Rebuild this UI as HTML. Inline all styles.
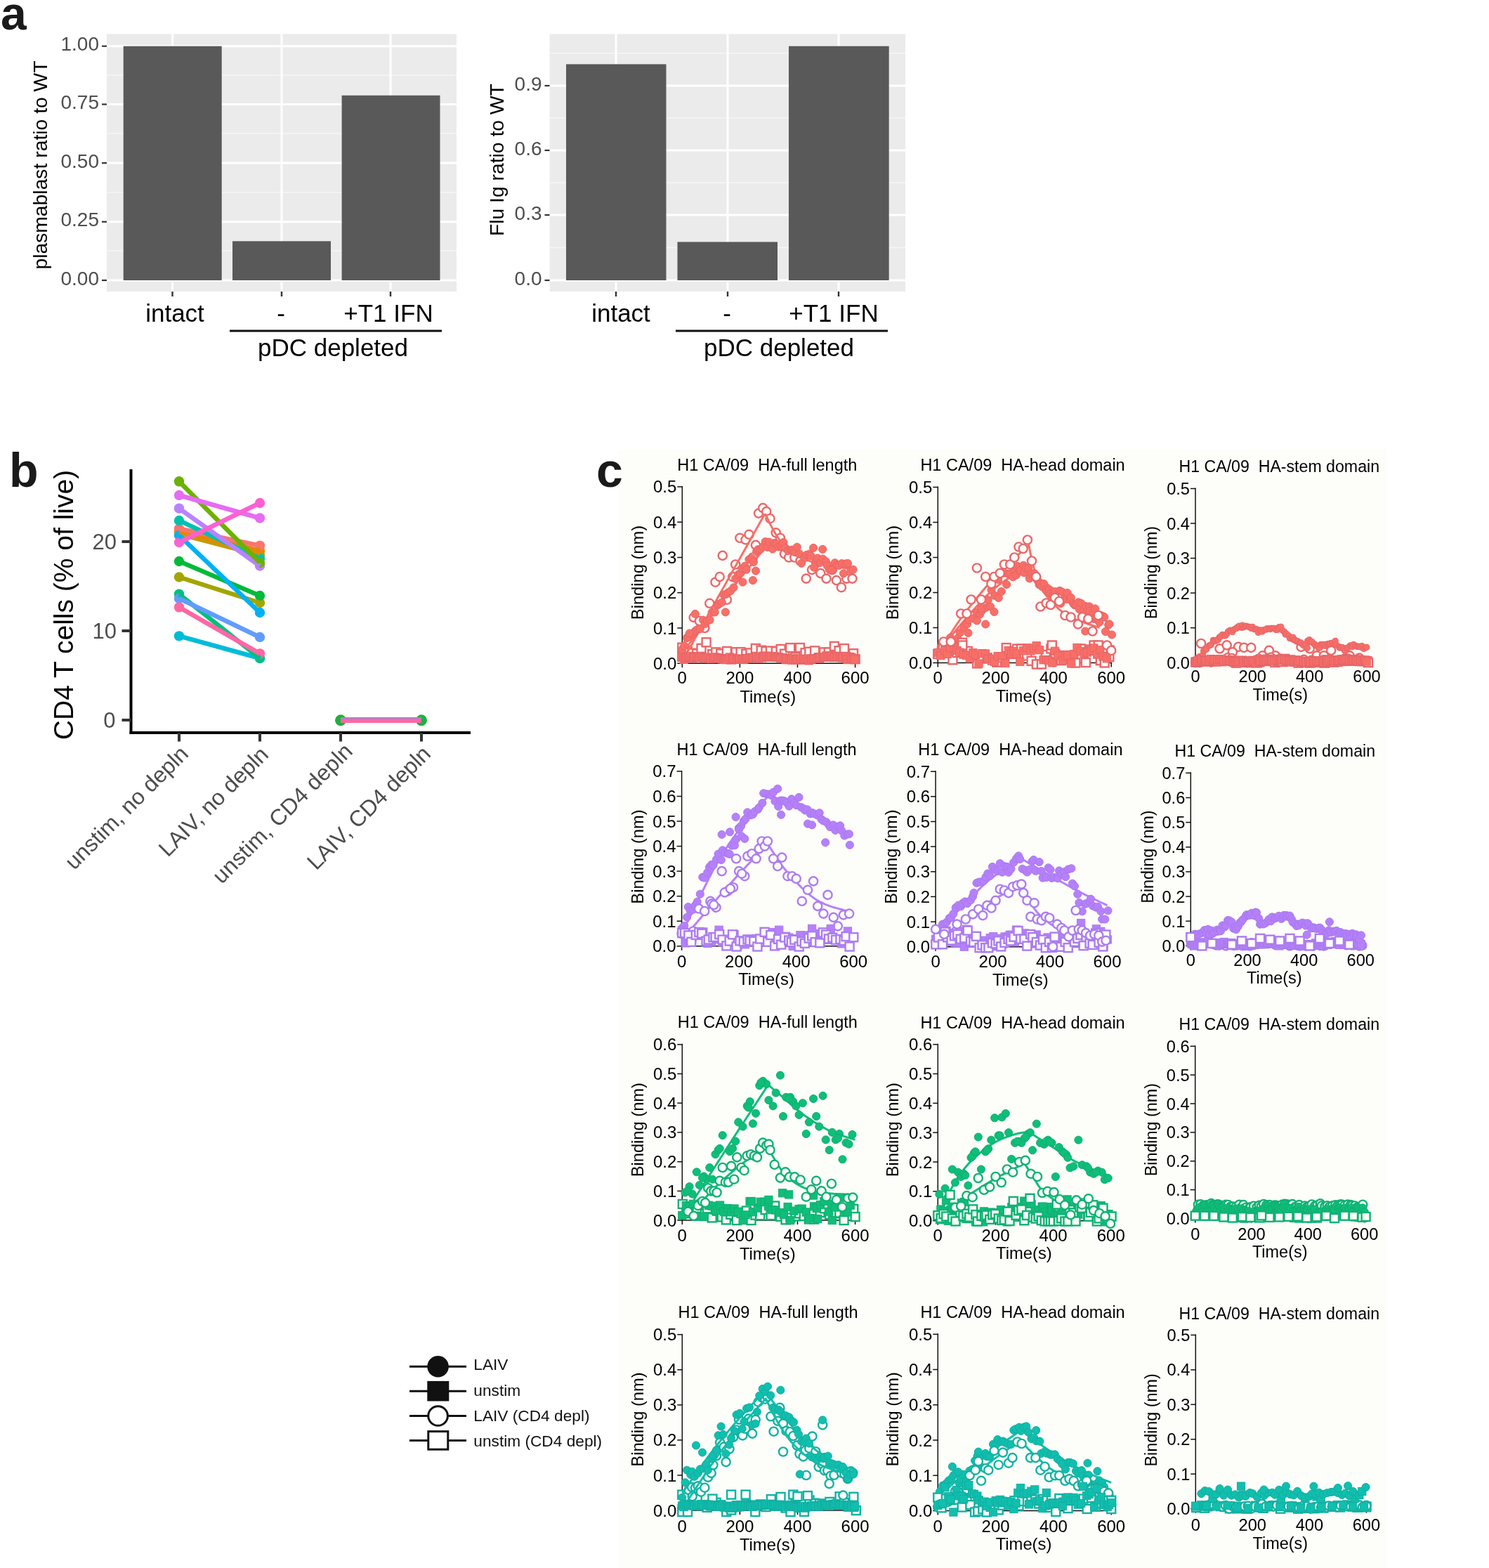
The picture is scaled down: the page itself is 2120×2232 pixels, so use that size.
<!DOCTYPE html>
<html lang="en"><head><meta charset="utf-8"><title>Figure</title>
<style>
html,body{margin:0;padding:0;background:#fff;}
body{width:2120px;height:2232px;overflow:hidden;}
svg{display:block;font-family:'Liberation Sans', sans-serif;}
</style></head><body>
<svg width="2120" height="2232" viewBox="0 0 2120 2232">
<rect width="2120" height="2232" fill="#fff"/>
<rect x="881" y="640" width="1094" height="1592" fill="#fdfdfa"/>
<rect x="152" y="48.5" width="498" height="366.5" fill="#ebebeb"/>
<line x1="152" x2="650" y1="107" y2="107" stroke="#f6f6f6" stroke-width="1.6"/>
<line x1="152" x2="650" y1="190" y2="190" stroke="#f6f6f6" stroke-width="1.6"/>
<line x1="152" x2="650" y1="274" y2="274" stroke="#f6f6f6" stroke-width="1.6"/>
<line x1="152" x2="650" y1="357" y2="357" stroke="#f6f6f6" stroke-width="1.6"/>
<line x1="152" x2="650" y1="65.7" y2="65.7" stroke="#fff" stroke-width="3"/>
<line x1="152" x2="650" y1="148.5" y2="148.5" stroke="#fff" stroke-width="3"/>
<line x1="152" x2="650" y1="232" y2="232" stroke="#fff" stroke-width="3"/>
<line x1="152" x2="650" y1="315.7" y2="315.7" stroke="#fff" stroke-width="3"/>
<line x1="152" x2="650" y1="399" y2="399" stroke="#fff" stroke-width="3"/>
<line x1="245.5" x2="245.5" y1="48.5" y2="415" stroke="#fff" stroke-width="3"/>
<line x1="401" x2="401" y1="48.5" y2="415" stroke="#fff" stroke-width="3"/>
<line x1="556" x2="556" y1="48.5" y2="415" stroke="#fff" stroke-width="3"/>
<rect x="175.7" y="65.7" width="140.0" height="333.3" fill="#595959"/>
<rect x="331" y="343.3" width="140" height="55.69999999999999" fill="#595959"/>
<rect x="486.6" y="135.8" width="139.89999999999998" height="263.2" fill="#595959"/>
<line x1="145" x2="152" y1="65.7" y2="65.7" stroke="#333" stroke-width="2.2"/>
<text x="141.0" y="72.2" font-size="28" text-anchor="end" fill="#4d4d4d">1.00</text>
<line x1="145" x2="152" y1="148.5" y2="148.5" stroke="#333" stroke-width="2.2"/>
<text x="141.0" y="155.0" font-size="28" text-anchor="end" fill="#4d4d4d">0.75</text>
<line x1="145" x2="152" y1="232" y2="232" stroke="#333" stroke-width="2.2"/>
<text x="141.0" y="238.5" font-size="28" text-anchor="end" fill="#4d4d4d">0.50</text>
<line x1="145" x2="152" y1="315.7" y2="315.7" stroke="#333" stroke-width="2.2"/>
<text x="141.0" y="322.2" font-size="28" text-anchor="end" fill="#4d4d4d">0.25</text>
<line x1="145" x2="152" y1="399" y2="399" stroke="#333" stroke-width="2.2"/>
<text x="141.0" y="405.5" font-size="28" text-anchor="end" fill="#4d4d4d">0.00</text>
<line x1="245.5" x2="245.5" y1="415" y2="422" stroke="#333" stroke-width="2.4"/>
<line x1="401" x2="401" y1="415" y2="422" stroke="#333" stroke-width="2.4"/>
<line x1="556" x2="556" y1="415" y2="422" stroke="#333" stroke-width="2.4"/>
<text x="66.5" y="235.0" font-size="28.3" text-anchor="middle" fill="#000" transform="rotate(-90 66.5 235.0)">plasmablast ratio to WT</text>
<text x="249.0" y="457.5" font-size="35" text-anchor="middle" fill="#000">intact</text>
<text x="400.0" y="457.5" font-size="35" text-anchor="middle" fill="#000">-</text>
<text x="553.0" y="457.5" font-size="35" text-anchor="middle" fill="#000">+T1 IFN</text>
<line x1="327" x2="629" y1="471" y2="471" stroke="#111" stroke-width="3"/>
<text x="474.0" y="507.0" font-size="35" text-anchor="middle" fill="#000">pDC depleted</text>
<rect x="782.5" y="48.5" width="506.5" height="366.5" fill="#ebebeb"/>
<line x1="782.5" x2="1289" y1="75.7" y2="75.7" stroke="#f6f6f6" stroke-width="1.6"/>
<line x1="782.5" x2="1289" y1="168" y2="168" stroke="#f6f6f6" stroke-width="1.6"/>
<line x1="782.5" x2="1289" y1="260" y2="260" stroke="#f6f6f6" stroke-width="1.6"/>
<line x1="782.5" x2="1289" y1="352.5" y2="352.5" stroke="#f6f6f6" stroke-width="1.6"/>
<line x1="782.5" x2="1289" y1="122" y2="122" stroke="#fff" stroke-width="3"/>
<line x1="782.5" x2="1289" y1="214" y2="214" stroke="#fff" stroke-width="3"/>
<line x1="782.5" x2="1289" y1="306" y2="306" stroke="#fff" stroke-width="3"/>
<line x1="782.5" x2="1289" y1="399" y2="399" stroke="#fff" stroke-width="3"/>
<line x1="877" x2="877" y1="48.5" y2="415" stroke="#fff" stroke-width="3"/>
<line x1="1036" x2="1036" y1="48.5" y2="415" stroke="#fff" stroke-width="3"/>
<line x1="1194" x2="1194" y1="48.5" y2="415" stroke="#fff" stroke-width="3"/>
<rect x="806" y="91.4" width="142.5" height="307.6" fill="#595959"/>
<rect x="964.5" y="344.4" width="142.5" height="54.60000000000002" fill="#595959"/>
<rect x="1123" y="65.7" width="142.70000000000005" height="333.3" fill="#595959"/>
<line x1="775.5" x2="782.5" y1="122" y2="122" stroke="#333" stroke-width="2.2"/>
<text x="771.5" y="128.5" font-size="28" text-anchor="end" fill="#4d4d4d">0.9</text>
<line x1="775.5" x2="782.5" y1="214" y2="214" stroke="#333" stroke-width="2.2"/>
<text x="771.5" y="220.5" font-size="28" text-anchor="end" fill="#4d4d4d">0.6</text>
<line x1="775.5" x2="782.5" y1="306" y2="306" stroke="#333" stroke-width="2.2"/>
<text x="771.5" y="312.5" font-size="28" text-anchor="end" fill="#4d4d4d">0.3</text>
<line x1="775.5" x2="782.5" y1="399" y2="399" stroke="#333" stroke-width="2.2"/>
<text x="771.5" y="405.5" font-size="28" text-anchor="end" fill="#4d4d4d">0.0</text>
<line x1="877" x2="877" y1="415" y2="422" stroke="#333" stroke-width="2.4"/>
<line x1="1036" x2="1036" y1="415" y2="422" stroke="#333" stroke-width="2.4"/>
<line x1="1194" x2="1194" y1="415" y2="422" stroke="#333" stroke-width="2.4"/>
<text x="717.0" y="227.6" font-size="28.3" text-anchor="middle" fill="#000" transform="rotate(-90 717.0 227.6)">Flu Ig ratio to WT</text>
<text x="884.0" y="457.5" font-size="35" text-anchor="middle" fill="#000">intact</text>
<text x="1035.0" y="457.5" font-size="35" text-anchor="middle" fill="#000">-</text>
<text x="1187.0" y="457.5" font-size="35" text-anchor="middle" fill="#000">+T1 IFN</text>
<line x1="962" x2="1264" y1="471" y2="471" stroke="#111" stroke-width="3"/>
<text x="1109.0" y="507.0" font-size="35" text-anchor="middle" fill="#000">pDC depleted</text>
<text x="1.0" y="42.0" font-size="66" text-anchor="start" fill="#1a1a1a" font-weight="bold">a</text>
<text x="13.0" y="693.0" font-size="68" text-anchor="start" fill="#1a1a1a" font-weight="bold">b</text>
<text x="849.0" y="693.0" font-size="68" text-anchor="start" fill="#1a1a1a" font-weight="bold">c</text>
<circle cx="255" cy="760" r="7.2" fill="#C99800"/><circle cx="370" cy="790" r="7.2" fill="#C99800"/>
<circle cx="255" cy="756" r="7.2" fill="#E58700"/><circle cx="370" cy="784" r="7.2" fill="#E58700"/>
<circle cx="255" cy="752.5" r="7.2" fill="#F8766D"/><circle cx="370" cy="776.7" r="7.2" fill="#F8766D"/>
<circle cx="255" cy="821.5" r="7.2" fill="#A3A500"/><circle cx="370" cy="858" r="7.2" fill="#A3A500"/>
<circle cx="255" cy="799" r="7.2" fill="#00BA38"/><circle cx="370" cy="848" r="7.2" fill="#00BA38"/>
<circle cx="255" cy="905.4" r="7.2" fill="#00BCD8"/><circle cx="370" cy="937" r="7.2" fill="#00BCD8"/>
<circle cx="255" cy="845.7" r="7.2" fill="#00BF7D"/><circle cx="370" cy="937" r="7.2" fill="#00BF7D"/>
<circle cx="255" cy="741" r="7.2" fill="#00C0AF"/><circle cx="370" cy="795" r="7.2" fill="#00C0AF"/>
<circle cx="255" cy="762" r="7.2" fill="#00B0F6"/><circle cx="370" cy="872" r="7.2" fill="#00B0F6"/>
<circle cx="255" cy="852" r="7.2" fill="#619CFF"/><circle cx="370" cy="907" r="7.2" fill="#619CFF"/>
<circle cx="255" cy="723.7" r="7.2" fill="#B983FF"/><circle cx="370" cy="805.5" r="7.2" fill="#B983FF"/>
<circle cx="255" cy="685.3" r="7.2" fill="#6BB100"/><circle cx="370" cy="801" r="7.2" fill="#6BB100"/>
<circle cx="255" cy="705" r="7.2" fill="#E76BF3"/><circle cx="370" cy="737.5" r="7.2" fill="#E76BF3"/>
<circle cx="255" cy="772" r="7.2" fill="#FD61D1"/><circle cx="370" cy="716" r="7.2" fill="#FD61D1"/>
<circle cx="255" cy="864.4" r="7.2" fill="#FF67A4"/><circle cx="370" cy="930.4" r="7.2" fill="#FF67A4"/>
<line x1="255" y1="760" x2="370" y2="790" stroke="#C99800" stroke-width="6.5" stroke-linecap="butt"/>
<line x1="255" y1="756" x2="370" y2="784" stroke="#E58700" stroke-width="6.5" stroke-linecap="butt"/>
<line x1="255" y1="752.5" x2="370" y2="776.7" stroke="#F8766D" stroke-width="6.5" stroke-linecap="butt"/>
<line x1="255" y1="821.5" x2="370" y2="858" stroke="#A3A500" stroke-width="6.5" stroke-linecap="butt"/>
<line x1="255" y1="799" x2="370" y2="848" stroke="#00BA38" stroke-width="6.5" stroke-linecap="butt"/>
<line x1="255" y1="905.4" x2="370" y2="937" stroke="#00BCD8" stroke-width="6.5" stroke-linecap="butt"/>
<line x1="255" y1="845.7" x2="370" y2="937" stroke="#00BF7D" stroke-width="6.5" stroke-linecap="butt"/>
<line x1="255" y1="741" x2="370" y2="795" stroke="#00C0AF" stroke-width="6.5" stroke-linecap="butt"/>
<line x1="255" y1="762" x2="370" y2="872" stroke="#00B0F6" stroke-width="6.5" stroke-linecap="butt"/>
<line x1="255" y1="852" x2="370" y2="907" stroke="#619CFF" stroke-width="6.5" stroke-linecap="butt"/>
<line x1="255" y1="723.7" x2="370" y2="805.5" stroke="#B983FF" stroke-width="6.5" stroke-linecap="butt"/>
<line x1="255" y1="685.3" x2="370" y2="801" stroke="#6BB100" stroke-width="6.5" stroke-linecap="butt"/>
<line x1="255" y1="705" x2="370" y2="737.5" stroke="#E76BF3" stroke-width="6.5" stroke-linecap="butt"/>
<line x1="255" y1="772" x2="370" y2="716" stroke="#FD61D1" stroke-width="6.5" stroke-linecap="butt"/>
<line x1="255" y1="864.4" x2="370" y2="930.4" stroke="#FF67A4" stroke-width="6.5" stroke-linecap="butt"/>
<circle cx="485" cy="1025.3" r="8" fill="#1FB03F"/><circle cx="600" cy="1025.3" r="8" fill="#1FB03F"/>
<line x1="485" y1="1025" x2="600" y2="1025" stroke="#5BA0E8" stroke-width="8"/>
<line x1="485" y1="1025.8" x2="600" y2="1025.8" stroke="#FF67A4" stroke-width="6.4"/>
<line x1="186.5" x2="186.5" y1="668" y2="1045" stroke="#000" stroke-width="4"/>
<line x1="184.5" x2="670" y1="1043" y2="1043" stroke="#000" stroke-width="4"/>
<line x1="173.5" x2="186.5" y1="771" y2="771" stroke="#333" stroke-width="4"/>
<text x="166.0" y="782.0" font-size="31" text-anchor="end" fill="#4d4d4d">20</text>
<line x1="173.5" x2="186.5" y1="898" y2="898" stroke="#333" stroke-width="4"/>
<text x="166.0" y="909.0" font-size="31" text-anchor="end" fill="#4d4d4d">10</text>
<line x1="173.5" x2="186.5" y1="1025" y2="1025" stroke="#333" stroke-width="4"/>
<text x="164.5" y="1036.0" font-size="31" text-anchor="end" fill="#4d4d4d">0</text>
<line x1="255" x2="255" y1="1043" y2="1055.5" stroke="#333" stroke-width="4"/>
<text x="270.0" y="1075.0" font-size="31.7" text-anchor="end" fill="#4d4d4d" transform="rotate(-45 270.0 1075.0)">unstim, no depln</text>
<line x1="370" x2="370" y1="1043" y2="1055.5" stroke="#333" stroke-width="4"/>
<text x="384.0" y="1076.0" font-size="31.7" text-anchor="end" fill="#4d4d4d" transform="rotate(-45 384.0 1076.0)">LAIV, no depln</text>
<line x1="485" x2="485" y1="1043" y2="1055.5" stroke="#333" stroke-width="4"/>
<text x="504.0" y="1071.0" font-size="31.7" text-anchor="end" fill="#4d4d4d" transform="rotate(-45 504.0 1071.0)" letter-spacing="0.35">unstim, CD4 depln</text>
<line x1="600" x2="600" y1="1043" y2="1055.5" stroke="#333" stroke-width="4"/>
<text x="615.0" y="1075.0" font-size="31.7" text-anchor="end" fill="#4d4d4d" transform="rotate(-45 615.0 1075.0)">LAIV, CD4 depln</text>
<text x="104.0" y="861.0" font-size="39" text-anchor="middle" fill="#000" transform="rotate(-90 104.0 861.0)">CD4 T cells (% of live)</text>
<path d="M971.3 691.9V944.3H1218.6" fill="none" stroke="#111" stroke-width="1.5"/>
<line x1="964.3" x2="971.3" y1="944.3" y2="944.3" stroke="#111" stroke-width="1.5"/>
<text x="963.3" y="952.8" font-size="24.0" text-anchor="end" fill="#000">0.0</text>
<line x1="964.3" x2="971.3" y1="894.0" y2="894.0" stroke="#111" stroke-width="1.5"/>
<text x="963.3" y="902.5" font-size="24.0" text-anchor="end" fill="#000">0.1</text>
<line x1="964.3" x2="971.3" y1="843.7" y2="843.7" stroke="#111" stroke-width="1.5"/>
<text x="963.3" y="852.2" font-size="24.0" text-anchor="end" fill="#000">0.2</text>
<line x1="964.3" x2="971.3" y1="793.5" y2="793.5" stroke="#111" stroke-width="1.5"/>
<text x="963.3" y="802.0" font-size="24.0" text-anchor="end" fill="#000">0.3</text>
<line x1="964.3" x2="971.3" y1="743.2" y2="743.2" stroke="#111" stroke-width="1.5"/>
<text x="963.3" y="751.7" font-size="24.0" text-anchor="end" fill="#000">0.4</text>
<line x1="964.3" x2="971.3" y1="692.9" y2="692.9" stroke="#111" stroke-width="1.5"/>
<text x="963.3" y="701.4" font-size="24.0" text-anchor="end" fill="#000">0.5</text>
<line x1="971.3" x2="971.3" y1="944.3" y2="950.3" stroke="#111" stroke-width="1.5"/>
<text x="971.3" y="973.0" font-size="24.0" text-anchor="middle" fill="#000">0</text>
<line x1="1053.4" x2="1053.4" y1="944.3" y2="950.3" stroke="#111" stroke-width="1.5"/>
<text x="1053.4" y="973.0" font-size="24.0" text-anchor="middle" fill="#000">200</text>
<line x1="1135.5" x2="1135.5" y1="944.3" y2="950.3" stroke="#111" stroke-width="1.5"/>
<text x="1135.5" y="973.0" font-size="24.0" text-anchor="middle" fill="#000">400</text>
<line x1="1217.6" x2="1217.6" y1="944.3" y2="950.3" stroke="#111" stroke-width="1.5"/>
<text x="1217.6" y="973.0" font-size="24.0" text-anchor="middle" fill="#000">600</text>
<text x="964.3" y="670.3" font-size="23.5" text-anchor="start" fill="#000" style="white-space:pre">H1 CA/09  HA-full length</text>
<text x="1093.3" y="999.6" font-size="23.8" text-anchor="middle" fill="#000">Time(s)</text>
<text x="916.0" y="815.0" font-size="23.7" text-anchor="middle" fill="#000" transform="rotate(-90 916.0 815.0)">Binding (nm)</text>
<g fill="#fdfdfa" stroke="#EA676A" stroke-width="2.4"><rect x="965.3" y="928.7" width="12.0" height="12.0"/><rect x="972.8" y="920.9" width="12.0" height="12.0"/><rect x="978.8" y="923.7" width="12.0" height="12.0"/><rect x="986.0" y="924.5" width="12.0" height="12.0"/><rect x="992.5" y="916.9" width="12.0" height="12.0"/><rect x="999.6" y="908.3" width="12.0" height="12.0"/><rect x="1008.2" y="925.2" width="12.0" height="12.0"/><rect x="1013.3" y="922.4" width="12.0" height="12.0"/><rect x="1020.3" y="924.4" width="12.0" height="12.0"/><rect x="1028.9" y="921.1" width="12.0" height="12.0"/><rect x="1034.9" y="932.5" width="12.0" height="12.0"/><rect x="1041.7" y="922.3" width="12.0" height="12.0"/><rect x="1048.6" y="922.2" width="12.0" height="12.0"/><rect x="1056.3" y="924.8" width="12.0" height="12.0"/><rect x="1062.4" y="923.4" width="12.0" height="12.0"/><rect x="1069.9" y="917.0" width="12.0" height="12.0"/><rect x="1077.7" y="919.7" width="12.0" height="12.0"/><rect x="1084.4" y="921.1" width="12.0" height="12.0"/><rect x="1090.9" y="920.6" width="12.0" height="12.0"/><rect x="1098.8" y="921.3" width="12.0" height="12.0"/><rect x="1105.6" y="918.0" width="12.0" height="12.0"/><rect x="1111.1" y="924.7" width="12.0" height="12.0"/><rect x="1119.2" y="916.1" width="12.0" height="12.0"/><rect x="1126.3" y="929.4" width="12.0" height="12.0"/><rect x="1132.9" y="916.0" width="12.0" height="12.0"/><rect x="1140.6" y="923.3" width="12.0" height="12.0"/><rect x="1146.3" y="921.8" width="12.0" height="12.0"/><rect x="1154.1" y="920.4" width="12.0" height="12.0"/><rect x="1159.8" y="930.2" width="12.0" height="12.0"/><rect x="1167.1" y="922.4" width="12.0" height="12.0"/><rect x="1173.7" y="922.5" width="12.0" height="12.0"/><rect x="1181.9" y="913.9" width="12.0" height="12.0"/><rect x="1188.6" y="920.2" width="12.0" height="12.0"/><rect x="1196.0" y="917.1" width="12.0" height="12.0"/><rect x="1201.6" y="932.0" width="12.0" height="12.0"/><rect x="1209.0" y="924.2" width="12.0" height="12.0"/><rect x="965.3" y="915.7" width="12.0" height="12.0"/><rect x="1211.6" y="932.3" width="12.0" height="12.0"/></g>
<g fill="#fdfdfa" stroke="#EA676A" stroke-width="2.4"><circle cx="973.4" cy="924.2" r="6.10"/><circle cx="980.3" cy="914.1" r="6.10"/><circle cx="987.7" cy="878.9" r="6.10"/><circle cx="995.9" cy="884.0" r="6.10"/><circle cx="1003.3" cy="894.0" r="6.10"/><circle cx="1010.3" cy="858.8" r="6.10"/><circle cx="1018.5" cy="828.7" r="6.10"/><circle cx="1024.7" cy="821.1" r="6.10"/><circle cx="1028.8" cy="790.9" r="6.10"/><circle cx="1034.9" cy="853.8" r="6.10"/><circle cx="1043.1" cy="821.1" r="6.10"/><circle cx="1047.2" cy="803.5" r="6.10"/><circle cx="1053.4" cy="765.8" r="6.10"/><circle cx="1061.6" cy="768.3" r="6.10"/><circle cx="1066.5" cy="760.8" r="6.10"/><circle cx="1071.9" cy="793.5" r="6.10"/><circle cx="1076.0" cy="775.9" r="6.10"/><circle cx="1080.1" cy="730.6" r="6.10"/><circle cx="1086.2" cy="723.1" r="6.10"/><circle cx="1091.2" cy="728.1" r="6.10"/><circle cx="1096.5" cy="738.2" r="6.10"/><circle cx="1104.7" cy="758.3" r="6.10"/><circle cx="1110.9" cy="765.8" r="6.10"/><circle cx="1117.0" cy="788.4" r="6.10"/><circle cx="1123.2" cy="793.5" r="6.10"/><circle cx="1131.4" cy="793.5" r="6.10"/><circle cx="1139.6" cy="798.5" r="6.10"/><circle cx="1147.8" cy="823.6" r="6.10"/><circle cx="1156.0" cy="811.1" r="6.10"/><circle cx="1162.2" cy="801.0" r="6.10"/><circle cx="1168.3" cy="816.1" r="6.10"/><circle cx="1176.5" cy="823.6" r="6.10"/><circle cx="1184.8" cy="811.1" r="6.10"/><circle cx="1190.9" cy="826.1" r="6.10"/><circle cx="1197.9" cy="836.2" r="6.10"/><circle cx="1205.3" cy="823.6" r="6.10"/><circle cx="1213.5" cy="823.6" r="6.10"/></g>
<path d="M979.5 926.7L981.6 923.0L983.6 919.4L985.7 915.7L987.7 912.0L989.8 908.3L991.8 904.7L993.9 901.0L995.9 897.3L998.0 893.6L1000.0 890.0L1002.1 886.3L1004.1 882.6L1006.2 878.9L1008.2 875.3L1010.3 871.6L1012.3 867.9L1014.4 864.2L1016.5 860.6L1018.5 856.9L1020.6 853.2L1022.6 849.6L1024.7 845.9L1026.7 842.2L1028.8 838.6L1030.8 834.9L1032.9 831.3L1034.9 827.6L1037.0 824.0L1039.0 820.3L1041.1 816.6L1043.1 813.0L1045.2 809.3L1047.2 805.7L1049.3 802.0L1051.3 798.4L1053.4 794.7L1055.5 791.1L1057.5 787.4L1059.6 783.8L1061.6 780.2L1063.7 776.5L1065.7 772.9L1067.8 769.2L1069.8 765.6L1071.9 761.9L1073.9 758.3L1076.0 754.7L1078.0 751.0L1080.1 747.4L1082.1 743.7L1084.2 740.1L1086.2 736.4L1088.3 732.8L1090.3 732.4L1092.4 737.0L1094.4 741.6L1096.5 745.9L1098.6 749.9L1100.6 753.8L1102.7 757.4L1104.7 760.8L1106.8 764.0L1108.8 767.0L1110.9 769.8L1112.9 772.5L1115.0 775.0L1117.0 777.4L1119.1 779.6L1121.1 781.8L1123.2 783.6L1125.2 785.3L1127.3 786.8L1129.3 788.1L1131.4 789.5L1133.4 790.7L1135.5 791.8L1137.6 792.9L1139.6 793.8L1141.7 794.7L1143.7 795.6L1145.8 796.5L1147.8 797.1L1149.9 797.8L1151.9 798.4L1154.0 799.1L1156.0 799.7L1158.1 800.2L1160.1 800.7L1162.2 801.2L1164.2 801.7L1166.3 802.2L1168.3 802.6L1170.4 803.0L1172.4 803.4L1174.5 803.8L1176.5 804.3L1178.6 804.7L1180.7 805.0L1182.7 805.4L1184.8 805.7L1186.8 806.0L1188.9 806.4L1190.9 806.7L1193.0 807.0L1195.0 807.4L1197.1 807.7L1199.1 808.0L1201.2 808.4L1203.2 808.7L1205.3 809.0L1207.3 809.4L1209.4 809.7L1211.4 810.1L1213.5 810.4L1215.5 810.7L1217.6 811.1" fill="none" stroke="#F96F66" stroke-width="3" stroke-linejoin="round"/>
<path d="M971.3 929.2L973.4 926.5L975.4 923.9L977.5 921.2L979.5 918.5L981.6 915.8L983.6 913.1L985.7 910.4L987.7 907.8L989.8 905.1L991.8 902.4L993.9 899.7L995.9 897.0L998.0 894.4L1000.0 891.7L1002.1 889.0L1004.1 886.3L1006.2 883.6L1008.2 880.9L1010.3 878.3L1012.3 875.6L1014.4 873.0L1016.5 870.4L1018.5 867.7L1020.6 865.1L1022.6 862.4L1024.7 859.8L1026.7 857.2L1028.8 854.6L1030.8 852.0L1032.9 849.4L1034.9 846.8L1037.0 844.2L1039.0 841.6L1041.1 839.0L1043.1 836.4L1045.2 833.9L1047.2 831.3L1049.3 828.8L1051.3 826.2L1053.4 823.7L1055.5 821.1L1057.5 818.6L1059.6 816.1L1061.6 813.6L1063.7 811.1L1065.7 808.5L1067.8 806.0L1069.8 803.5L1071.9 801.0L1073.9 798.5L1076.0 796.0L1078.0 793.5L1080.1 790.9L1082.1 788.4L1084.2 785.9L1086.2 783.4L1088.3 780.9L1090.3 778.4L1092.4 777.7L1094.4 778.2L1096.5 778.7L1098.6 779.2L1100.6 779.8L1102.7 780.3L1104.7 780.8L1106.8 781.3L1108.8 781.9L1110.9 782.5L1112.9 783.0L1115.0 783.6L1117.0 784.2L1119.1 784.8L1121.1 785.4L1123.2 786.0L1125.2 786.6L1127.3 787.2L1129.3 787.8L1131.4 788.4L1133.4 789.1L1135.5 789.7L1137.6 790.3L1139.6 790.9L1141.7 791.5L1143.7 792.1L1145.8 792.7L1147.8 793.2L1149.9 793.8L1151.9 794.3L1154.0 794.8L1156.0 795.3L1158.1 795.8L1160.1 796.4L1162.2 796.9L1164.2 797.4L1166.3 797.8L1168.3 798.3L1170.4 798.7L1172.4 799.2L1174.5 799.7L1176.5 800.1L1178.6 800.6L1180.7 801.0L1182.7 801.4L1184.8 801.8L1186.8 802.3L1188.9 802.7L1190.9 803.1L1193.0 803.5L1195.0 803.9L1197.1 804.4L1199.1 804.8L1201.2 805.2L1203.2 805.6L1205.3 806.0L1207.3 806.4L1209.4 806.9L1211.4 807.3L1213.5 807.7L1215.5 808.1L1217.6 808.5" fill="none" stroke="#F96F66" stroke-width="3" stroke-linejoin="round"/>
<g fill="#F96F66" stroke="#E5656A" stroke-width="1"><circle cx="971.3" cy="925.1" r="5.55"/><circle cx="974.3" cy="919.4" r="5.55"/><circle cx="977.9" cy="908.0" r="5.55"/><circle cx="980.3" cy="906.6" r="5.55"/><circle cx="985.1" cy="902.5" r="5.55"/><circle cx="988.6" cy="899.6" r="5.55"/><circle cx="990.8" cy="897.3" r="5.55"/><circle cx="993.9" cy="895.7" r="5.55"/><circle cx="996.8" cy="895.2" r="5.55"/><circle cx="1001.0" cy="882.6" r="5.55"/><circle cx="1003.9" cy="887.9" r="5.55"/><circle cx="1006.8" cy="883.9" r="5.55"/><circle cx="1010.6" cy="882.5" r="5.55"/><circle cx="1013.6" cy="871.6" r="5.55"/><circle cx="1017.7" cy="871.5" r="5.55"/><circle cx="1021.3" cy="861.6" r="5.55"/><circle cx="1023.4" cy="860.0" r="5.55"/><circle cx="1027.7" cy="857.5" r="5.55"/><circle cx="1030.4" cy="846.6" r="5.55"/><circle cx="1033.8" cy="845.9" r="5.55"/><circle cx="1036.6" cy="843.5" r="5.55"/><circle cx="1040.2" cy="841.2" r="5.55"/><circle cx="1044.5" cy="836.3" r="5.55"/><circle cx="1047.2" cy="823.9" r="5.55"/><circle cx="1051.1" cy="817.8" r="5.55"/><circle cx="1053.7" cy="816.5" r="5.55"/><circle cx="1056.6" cy="809.6" r="5.55"/><circle cx="1060.5" cy="805.8" r="5.55"/><circle cx="1062.7" cy="810.8" r="5.55"/><circle cx="1066.4" cy="796.3" r="5.55"/><circle cx="1070.6" cy="795.1" r="5.55"/><circle cx="1072.9" cy="800.1" r="5.55"/><circle cx="1077.2" cy="785.0" r="5.55"/><circle cx="1079.1" cy="782.2" r="5.55"/><circle cx="1082.9" cy="781.7" r="5.55"/><circle cx="1086.1" cy="778.5" r="5.55"/><circle cx="1089.7" cy="771.1" r="5.55"/><circle cx="1093.0" cy="778.9" r="5.55"/><circle cx="1095.2" cy="771.6" r="5.55"/><circle cx="1100.0" cy="781.5" r="5.55"/><circle cx="1102.5" cy="773.0" r="5.55"/><circle cx="1105.1" cy="774.2" r="5.55"/><circle cx="1108.5" cy="778.5" r="5.55"/><circle cx="1111.8" cy="777.5" r="5.55"/><circle cx="1115.5" cy="771.9" r="5.55"/><circle cx="1118.4" cy="780.1" r="5.55"/><circle cx="1122.1" cy="784.2" r="5.55"/><circle cx="1126.7" cy="782.7" r="5.55"/><circle cx="1128.9" cy="784.0" r="5.55"/><circle cx="1131.7" cy="786.1" r="5.55"/><circle cx="1134.8" cy="778.7" r="5.55"/><circle cx="1138.1" cy="788.2" r="5.55"/><circle cx="1141.1" cy="801.8" r="5.55"/><circle cx="1145.8" cy="794.0" r="5.55"/><circle cx="1148.4" cy="789.8" r="5.55"/><circle cx="1152.5" cy="788.5" r="5.55"/><circle cx="1154.6" cy="791.3" r="5.55"/><circle cx="1159.1" cy="807.7" r="5.55"/><circle cx="1162.3" cy="797.4" r="5.55"/><circle cx="1164.1" cy="794.5" r="5.55"/><circle cx="1167.9" cy="800.9" r="5.55"/><circle cx="1171.5" cy="795.5" r="5.55"/><circle cx="1175.9" cy="799.2" r="5.55"/><circle cx="1177.6" cy="805.0" r="5.55"/><circle cx="1180.9" cy="810.9" r="5.55"/><circle cx="1184.7" cy="811.6" r="5.55"/><circle cx="1188.7" cy="801.2" r="5.55"/><circle cx="1191.9" cy="804.1" r="5.55"/><circle cx="1194.6" cy="804.9" r="5.55"/><circle cx="1198.5" cy="802.1" r="5.55"/><circle cx="1201.0" cy="816.3" r="5.55"/><circle cx="1203.8" cy="802.5" r="5.55"/><circle cx="1207.0" cy="802.0" r="5.55"/><circle cx="1211.7" cy="812.0" r="5.55"/><circle cx="1214.6" cy="810.7" r="5.55"/><circle cx="1032.9" cy="871.4" r="5.55"/><circle cx="1057.5" cy="828.7" r="5.55"/><circle cx="1071.9" cy="826.1" r="5.55"/><circle cx="1076.0" cy="812.6" r="5.55"/><circle cx="1158.1" cy="779.9" r="5.55"/><circle cx="1171.2" cy="781.9" r="5.55"/><circle cx="981.6" cy="901.6" r="5.55"/><circle cx="989.8" cy="873.9" r="5.55"/></g>
<g fill="#F96F66" stroke="#E5656A" stroke-width="1"><rect x="965.7" y="930.1" width="11.2" height="11.2"/><rect x="968.1" y="933.3" width="11.2" height="11.2"/><rect x="970.6" y="931.1" width="11.2" height="11.2"/><rect x="971.3" y="930.6" width="11.2" height="11.2"/><rect x="974.1" y="929.5" width="11.2" height="11.2"/><rect x="975.8" y="928.7" width="11.2" height="11.2"/><rect x="977.9" y="928.4" width="11.2" height="11.2"/><rect x="980.9" y="931.9" width="11.2" height="11.2"/><rect x="982.2" y="928.8" width="11.2" height="11.2"/><rect x="983.2" y="930.3" width="11.2" height="11.2"/><rect x="986.8" y="929.5" width="11.2" height="11.2"/><rect x="988.2" y="929.9" width="11.2" height="11.2"/><rect x="990.4" y="930.9" width="11.2" height="11.2"/><rect x="993.0" y="928.7" width="11.2" height="11.2"/><rect x="994.0" y="928.9" width="11.2" height="11.2"/><rect x="996.5" y="931.4" width="11.2" height="11.2"/><rect x="998.4" y="930.5" width="11.2" height="11.2"/><rect x="1000.6" y="931.6" width="11.2" height="11.2"/><rect x="1002.7" y="930.3" width="11.2" height="11.2"/><rect x="1005.6" y="931.0" width="11.2" height="11.2"/><rect x="1006.3" y="932.5" width="11.2" height="11.2"/><rect x="1009.7" y="930.4" width="11.2" height="11.2"/><rect x="1010.7" y="931.4" width="11.2" height="11.2"/><rect x="1012.4" y="929.8" width="11.2" height="11.2"/><rect x="1015.8" y="930.6" width="11.2" height="11.2"/><rect x="1017.5" y="931.8" width="11.2" height="11.2"/><rect x="1020.0" y="932.2" width="11.2" height="11.2"/><rect x="1022.0" y="932.8" width="11.2" height="11.2"/><rect x="1023.9" y="931.4" width="11.2" height="11.2"/><rect x="1025.1" y="933.1" width="11.2" height="11.2"/><rect x="1026.9" y="932.4" width="11.2" height="11.2"/><rect x="1028.3" y="933.5" width="11.2" height="11.2"/><rect x="1031.0" y="932.9" width="11.2" height="11.2"/><rect x="1033.5" y="929.9" width="11.2" height="11.2"/><rect x="1036.5" y="931.5" width="11.2" height="11.2"/><rect x="1037.1" y="931.0" width="11.2" height="11.2"/><rect x="1038.8" y="932.2" width="11.2" height="11.2"/><rect x="1042.5" y="932.3" width="11.2" height="11.2"/><rect x="1044.6" y="933.2" width="11.2" height="11.2"/><rect x="1046.2" y="932.1" width="11.2" height="11.2"/><rect x="1047.6" y="932.1" width="11.2" height="11.2"/><rect x="1050.8" y="933.4" width="11.2" height="11.2"/><rect x="1052.6" y="933.4" width="11.2" height="11.2"/><rect x="1054.7" y="932.7" width="11.2" height="11.2"/><rect x="1056.9" y="931.4" width="11.2" height="11.2"/><rect x="1057.3" y="932.2" width="11.2" height="11.2"/><rect x="1059.4" y="931.4" width="11.2" height="11.2"/><rect x="1061.6" y="931.4" width="11.2" height="11.2"/><rect x="1063.8" y="930.1" width="11.2" height="11.2"/><rect x="1065.6" y="930.8" width="11.2" height="11.2"/><rect x="1067.3" y="930.3" width="11.2" height="11.2"/><rect x="1070.5" y="929.9" width="11.2" height="11.2"/><rect x="1071.6" y="929.1" width="11.2" height="11.2"/><rect x="1074.3" y="931.9" width="11.2" height="11.2"/><rect x="1076.5" y="929.8" width="11.2" height="11.2"/><rect x="1079.6" y="930.8" width="11.2" height="11.2"/><rect x="1080.9" y="928.1" width="11.2" height="11.2"/><rect x="1082.4" y="929.2" width="11.2" height="11.2"/><rect x="1085.2" y="929.5" width="11.2" height="11.2"/><rect x="1086.1" y="928.0" width="11.2" height="11.2"/><rect x="1089.2" y="928.7" width="11.2" height="11.2"/><rect x="1090.4" y="930.1" width="11.2" height="11.2"/><rect x="1092.8" y="928.8" width="11.2" height="11.2"/><rect x="1096.0" y="928.7" width="11.2" height="11.2"/><rect x="1098.0" y="930.3" width="11.2" height="11.2"/><rect x="1098.8" y="929.3" width="11.2" height="11.2"/><rect x="1101.2" y="930.4" width="11.2" height="11.2"/><rect x="1103.2" y="929.8" width="11.2" height="11.2"/><rect x="1105.1" y="930.8" width="11.2" height="11.2"/><rect x="1106.3" y="931.3" width="11.2" height="11.2"/><rect x="1109.4" y="930.5" width="11.2" height="11.2"/><rect x="1111.8" y="931.9" width="11.2" height="11.2"/><rect x="1113.1" y="933.6" width="11.2" height="11.2"/><rect x="1114.8" y="932.0" width="11.2" height="11.2"/><rect x="1118.3" y="933.4" width="11.2" height="11.2"/><rect x="1119.9" y="932.3" width="11.2" height="11.2"/><rect x="1121.7" y="934.1" width="11.2" height="11.2"/><rect x="1124.4" y="931.8" width="11.2" height="11.2"/><rect x="1126.6" y="934.3" width="11.2" height="11.2"/><rect x="1128.2" y="932.6" width="11.2" height="11.2"/><rect x="1129.6" y="932.4" width="11.2" height="11.2"/><rect x="1132.6" y="934.0" width="11.2" height="11.2"/><rect x="1134.4" y="933.2" width="11.2" height="11.2"/><rect x="1135.0" y="932.1" width="11.2" height="11.2"/><rect x="1138.2" y="934.2" width="11.2" height="11.2"/><rect x="1139.3" y="932.6" width="11.2" height="11.2"/><rect x="1141.7" y="933.1" width="11.2" height="11.2"/><rect x="1143.7" y="932.4" width="11.2" height="11.2"/><rect x="1146.1" y="934.8" width="11.2" height="11.2"/><rect x="1148.7" y="931.8" width="11.2" height="11.2"/><rect x="1149.6" y="933.1" width="11.2" height="11.2"/><rect x="1152.0" y="931.6" width="11.2" height="11.2"/><rect x="1153.5" y="932.2" width="11.2" height="11.2"/><rect x="1156.1" y="931.9" width="11.2" height="11.2"/><rect x="1158.2" y="932.3" width="11.2" height="11.2"/><rect x="1160.6" y="931.2" width="11.2" height="11.2"/><rect x="1162.1" y="930.5" width="11.2" height="11.2"/><rect x="1165.7" y="929.3" width="11.2" height="11.2"/><rect x="1167.8" y="930.1" width="11.2" height="11.2"/><rect x="1168.4" y="929.5" width="11.2" height="11.2"/><rect x="1171.1" y="927.6" width="11.2" height="11.2"/><rect x="1173.1" y="929.3" width="11.2" height="11.2"/><rect x="1175.1" y="929.9" width="11.2" height="11.2"/><rect x="1177.5" y="929.4" width="11.2" height="11.2"/><rect x="1178.2" y="927.5" width="11.2" height="11.2"/><rect x="1181.2" y="930.5" width="11.2" height="11.2"/><rect x="1182.9" y="929.4" width="11.2" height="11.2"/><rect x="1186.0" y="928.1" width="11.2" height="11.2"/><rect x="1186.6" y="929.8" width="11.2" height="11.2"/><rect x="1189.9" y="929.2" width="11.2" height="11.2"/><rect x="1191.3" y="930.5" width="11.2" height="11.2"/><rect x="1193.7" y="930.9" width="11.2" height="11.2"/><rect x="1194.7" y="929.5" width="11.2" height="11.2"/><rect x="1198.3" y="931.0" width="11.2" height="11.2"/><rect x="1199.2" y="928.4" width="11.2" height="11.2"/><rect x="1201.1" y="932.7" width="11.2" height="11.2"/><rect x="1204.4" y="929.3" width="11.2" height="11.2"/><rect x="1206.7" y="930.1" width="11.2" height="11.2"/><rect x="1207.0" y="932.0" width="11.2" height="11.2"/><rect x="1209.8" y="931.7" width="11.2" height="11.2"/><rect x="1211.1" y="933.3" width="11.2" height="11.2"/></g>
<path d="M1335.3 692.5V943.5H1583.2" fill="none" stroke="#111" stroke-width="1.5"/>
<line x1="1328.3" x2="1335.3" y1="943.5" y2="943.5" stroke="#111" stroke-width="1.5"/>
<text x="1327.3" y="952.0" font-size="24.0" text-anchor="end" fill="#000">0.0</text>
<line x1="1328.3" x2="1335.3" y1="893.5" y2="893.5" stroke="#111" stroke-width="1.5"/>
<text x="1327.3" y="902.0" font-size="24.0" text-anchor="end" fill="#000">0.1</text>
<line x1="1328.3" x2="1335.3" y1="843.5" y2="843.5" stroke="#111" stroke-width="1.5"/>
<text x="1327.3" y="852.0" font-size="24.0" text-anchor="end" fill="#000">0.2</text>
<line x1="1328.3" x2="1335.3" y1="793.5" y2="793.5" stroke="#111" stroke-width="1.5"/>
<text x="1327.3" y="802.0" font-size="24.0" text-anchor="end" fill="#000">0.3</text>
<line x1="1328.3" x2="1335.3" y1="743.5" y2="743.5" stroke="#111" stroke-width="1.5"/>
<text x="1327.3" y="752.0" font-size="24.0" text-anchor="end" fill="#000">0.4</text>
<line x1="1328.3" x2="1335.3" y1="693.5" y2="693.5" stroke="#111" stroke-width="1.5"/>
<text x="1327.3" y="702.0" font-size="24.0" text-anchor="end" fill="#000">0.5</text>
<line x1="1335.3" x2="1335.3" y1="943.5" y2="949.5" stroke="#111" stroke-width="1.5"/>
<text x="1335.3" y="973.3" font-size="24.0" text-anchor="middle" fill="#000">0</text>
<line x1="1417.6" x2="1417.6" y1="943.5" y2="949.5" stroke="#111" stroke-width="1.5"/>
<text x="1417.6" y="973.3" font-size="24.0" text-anchor="middle" fill="#000">200</text>
<line x1="1499.9" x2="1499.9" y1="943.5" y2="949.5" stroke="#111" stroke-width="1.5"/>
<text x="1499.9" y="973.3" font-size="24.0" text-anchor="middle" fill="#000">400</text>
<line x1="1582.2" x2="1582.2" y1="943.5" y2="949.5" stroke="#111" stroke-width="1.5"/>
<text x="1582.2" y="973.3" font-size="24.0" text-anchor="middle" fill="#000">600</text>
<text x="1310.4" y="670.0" font-size="23.5" text-anchor="start" fill="#000" style="white-space:pre">H1 CA/09  HA-head domain</text>
<text x="1457.5" y="998.9" font-size="23.8" text-anchor="middle" fill="#000">Time(s)</text>
<text x="1279.4" y="815.0" font-size="23.7" text-anchor="middle" fill="#000" transform="rotate(-90 1279.4 815.0)">Binding (nm)</text>
<path d="M1343.5 918.5L1345.6 915.2L1347.6 911.8L1349.7 908.5L1351.8 905.2L1353.8 901.8L1355.9 898.5L1357.9 895.2L1360.0 892.0L1362.0 889.0L1364.1 886.0L1366.2 883.0L1368.2 880.2L1370.3 877.4L1372.3 874.6L1374.4 871.8L1376.5 869.1L1378.5 866.5L1380.6 863.9L1382.6 861.2L1384.7 858.6L1386.7 856.0L1388.8 853.5L1390.9 851.0L1392.9 848.5L1395.0 846.0L1397.0 843.5L1399.1 841.0L1401.1 838.7L1403.2 836.3L1405.3 834.0L1407.3 831.6L1409.4 829.3L1411.4 827.0L1413.5 824.8L1415.5 822.6L1417.6 820.4L1419.7 818.2L1421.7 816.1L1423.8 813.9L1425.8 811.9L1427.9 809.9L1429.9 807.9L1432.0 805.8L1434.1 803.8L1436.1 801.9L1438.2 800.0L1440.2 798.2L1442.3 796.3L1444.3 794.5L1446.4 792.6L1448.5 790.8L1450.5 788.9L1452.6 787.1L1454.6 785.2L1456.7 783.4L1458.8 781.5L1460.8 779.7L1462.9 777.8L1464.9 776.0L1467.0 787.2L1469.0 797.0L1471.1 805.1L1473.2 812.5L1475.2 819.5L1477.3 825.5L1479.3 830.7L1481.4 835.3L1483.4 839.1L1485.5 842.2L1487.6 845.1L1489.6 847.7L1491.7 850.2L1493.7 852.5L1495.8 854.9L1497.8 857.1L1499.9 859.3L1502.0 861.4L1504.0 863.5L1506.1 865.6L1508.1 867.5L1510.2 869.1L1512.2 870.8L1514.3 872.4L1516.4 873.8L1518.4 875.1L1520.5 876.4L1522.5 877.6L1524.6 878.6L1526.6 879.6L1528.7 880.7L1530.8 881.5L1532.8 882.2L1534.9 883.0L1536.9 883.8L1539.0 884.6L1541.0 885.3L1543.1 886.1L1545.2 886.8L1547.2 887.6L1549.3 888.3L1551.3 889.0L1553.4 889.7L1555.5 890.4L1557.5 891.0L1559.6 891.6L1561.6 892.2L1563.7 892.9L1565.7 893.5" fill="none" stroke="#F96F66" stroke-width="3" stroke-linejoin="round"/>
<path d="M1335.3 928.5L1337.4 926.0L1339.4 923.5L1341.5 921.0L1343.5 918.5L1345.6 916.0L1347.6 913.5L1349.7 911.0L1351.8 908.5L1353.8 906.0L1355.9 903.5L1357.9 901.0L1360.0 898.5L1362.0 896.0L1364.1 893.6L1366.2 891.2L1368.2 888.7L1370.3 886.3L1372.3 883.9L1374.4 881.5L1376.5 879.1L1378.5 876.8L1380.6 874.4L1382.6 872.0L1384.7 869.7L1386.7 867.4L1388.8 865.1L1390.9 862.8L1392.9 860.5L1395.0 858.2L1397.0 856.0L1399.1 853.8L1401.1 851.5L1403.2 849.4L1405.3 847.4L1407.3 845.5L1409.4 843.5L1411.4 841.5L1413.5 839.7L1415.5 838.0L1417.6 836.3L1419.7 834.7L1421.7 833.0L1423.8 831.4L1425.8 830.0L1427.9 828.6L1429.9 827.1L1432.0 825.7L1434.1 824.4L1436.1 823.2L1438.2 822.1L1440.2 820.9L1442.3 819.8L1444.3 818.6L1446.4 817.5L1448.5 816.4L1450.5 815.2L1452.6 814.1L1454.6 812.9L1456.7 811.8L1458.8 810.6L1460.8 809.5L1462.9 811.0L1464.9 812.6L1467.0 814.1L1469.0 815.6L1471.1 817.1L1473.2 818.7L1475.2 820.2L1477.3 821.7L1479.3 823.2L1481.4 824.8L1483.4 826.3L1485.5 827.8L1487.6 829.3L1489.6 830.7L1491.7 832.2L1493.7 833.6L1495.8 835.1L1497.8 836.4L1499.9 837.8L1502.0 839.2L1504.0 840.6L1506.1 842.0L1508.1 843.3L1510.2 844.6L1512.2 845.9L1514.3 847.2L1516.4 848.5L1518.4 849.8L1520.5 851.0L1522.5 852.2L1524.6 853.5L1526.6 854.8L1528.7 856.0L1530.8 857.2L1532.8 858.5L1534.9 859.8L1536.9 861.0L1539.0 862.2L1541.0 863.5L1543.1 864.8L1545.2 866.0L1547.2 867.2L1549.3 868.5L1551.3 869.8L1553.4 871.0L1555.5 872.2L1557.5 873.5L1559.6 874.8L1561.6 876.0L1563.7 877.2L1565.7 878.5L1567.8 879.8L1569.9 881.0L1571.9 882.2L1574.0 883.5L1576.0 884.8L1578.1 886.0L1580.1 887.2L1582.2 888.5" fill="none" stroke="#F96F66" stroke-width="3" stroke-linejoin="round"/>
<g fill="#F96F66" stroke="#E5656A" stroke-width="1"><circle cx="1336.2" cy="928.2" r="5.55"/><circle cx="1339.7" cy="921.2" r="5.55"/><circle cx="1343.7" cy="914.2" r="5.55"/><circle cx="1348.3" cy="923.7" r="5.55"/><circle cx="1353.0" cy="907.8" r="5.55"/><circle cx="1358.5" cy="911.8" r="5.55"/><circle cx="1363.4" cy="908.6" r="5.55"/><circle cx="1366.8" cy="900.6" r="5.55"/><circle cx="1372.4" cy="893.0" r="5.55"/><circle cx="1377.0" cy="888.2" r="5.55"/><circle cx="1379.6" cy="882.0" r="5.55"/><circle cx="1385.9" cy="880.4" r="5.55"/><circle cx="1390.6" cy="871.8" r="5.55"/><circle cx="1395.0" cy="874.6" r="5.55"/><circle cx="1397.7" cy="869.6" r="5.55"/><circle cx="1402.9" cy="865.4" r="5.55"/><circle cx="1406.7" cy="854.1" r="5.55"/><circle cx="1411.5" cy="839.9" r="5.55"/><circle cx="1416.2" cy="847.8" r="5.55"/><circle cx="1421.2" cy="824.9" r="5.55"/><circle cx="1425.8" cy="842.0" r="5.55"/><circle cx="1430.1" cy="815.6" r="5.55"/><circle cx="1433.1" cy="832.0" r="5.55"/><circle cx="1435.6" cy="816.8" r="5.55"/><circle cx="1438.1" cy="817.0" r="5.55"/><circle cx="1442.3" cy="821.3" r="5.55"/><circle cx="1443.5" cy="810.5" r="5.55"/><circle cx="1446.9" cy="818.5" r="5.55"/><circle cx="1448.4" cy="805.9" r="5.55"/><circle cx="1451.6" cy="813.5" r="5.55"/><circle cx="1452.8" cy="811.7" r="5.55"/><circle cx="1457.2" cy="804.7" r="5.55"/><circle cx="1458.2" cy="815.3" r="5.55"/><circle cx="1460.6" cy="808.6" r="5.55"/><circle cx="1464.2" cy="808.9" r="5.55"/><circle cx="1465.8" cy="823.4" r="5.55"/><circle cx="1468.3" cy="816.3" r="5.55"/><circle cx="1471.6" cy="820.7" r="5.55"/><circle cx="1472.7" cy="816.2" r="5.55"/><circle cx="1477.0" cy="826.0" r="5.55"/><circle cx="1479.5" cy="832.2" r="5.55"/><circle cx="1481.0" cy="832.0" r="5.55"/><circle cx="1483.3" cy="834.9" r="5.55"/><circle cx="1486.3" cy="831.0" r="5.55"/><circle cx="1489.1" cy="839.3" r="5.55"/><circle cx="1490.4" cy="841.5" r="5.55"/><circle cx="1493.1" cy="840.6" r="5.55"/><circle cx="1495.3" cy="845.2" r="5.55"/><circle cx="1499.0" cy="847.0" r="5.55"/><circle cx="1501.7" cy="846.2" r="5.55"/><circle cx="1502.6" cy="842.2" r="5.55"/><circle cx="1504.8" cy="853.8" r="5.55"/><circle cx="1508.8" cy="840.9" r="5.55"/><circle cx="1510.2" cy="859.0" r="5.55"/><circle cx="1512.4" cy="842.7" r="5.55"/><circle cx="1515.3" cy="852.3" r="5.55"/><circle cx="1517.9" cy="852.9" r="5.55"/><circle cx="1519.7" cy="844.0" r="5.55"/><circle cx="1523.2" cy="853.6" r="5.55"/><circle cx="1524.8" cy="850.7" r="5.55"/><circle cx="1528.1" cy="859.2" r="5.55"/><circle cx="1530.0" cy="861.3" r="5.55"/><circle cx="1532.2" cy="860.9" r="5.55"/><circle cx="1535.4" cy="857.3" r="5.55"/><circle cx="1536.9" cy="867.4" r="5.55"/><circle cx="1539.4" cy="858.8" r="5.55"/><circle cx="1543.1" cy="868.1" r="5.55"/><circle cx="1546.1" cy="863.1" r="5.55"/><circle cx="1547.8" cy="870.3" r="5.55"/><circle cx="1551.1" cy="863.4" r="5.55"/><circle cx="1551.9" cy="869.6" r="5.55"/><circle cx="1555.9" cy="874.0" r="5.55"/><circle cx="1558.2" cy="881.0" r="5.55"/><circle cx="1559.3" cy="866.4" r="5.55"/><circle cx="1562.6" cy="881.9" r="5.55"/><circle cx="1565.2" cy="885.8" r="5.55"/><circle cx="1567.4" cy="876.0" r="5.55"/><circle cx="1570.7" cy="877.4" r="5.55"/><circle cx="1572.3" cy="878.4" r="5.55"/><circle cx="1574.0" cy="899.0" r="5.55"/><circle cx="1578.2" cy="889.6" r="5.55"/><circle cx="1579.5" cy="888.3" r="5.55"/><circle cx="1378.5" cy="901.0" r="5.55"/><circle cx="1403.2" cy="888.5" r="5.55"/><circle cx="1421.7" cy="851.0" r="5.55"/><circle cx="1545.2" cy="898.5" r="5.55"/><circle cx="1583.0" cy="903.5" r="5.55"/><circle cx="1390.9" cy="883.5" r="5.55"/><circle cx="1397.0" cy="866.0" r="5.55"/><circle cx="1410.2" cy="863.5" r="5.55"/><circle cx="1415.5" cy="871.0" r="5.55"/></g>
<g fill="#fdfdfa" stroke="#EA676A" stroke-width="2.4"><rect x="1329.3" y="925.0" width="12.0" height="12.0"/><rect x="1336.9" y="915.8" width="12.0" height="12.0"/><rect x="1342.6" y="922.8" width="12.0" height="12.0"/><rect x="1350.5" y="933.3" width="12.0" height="12.0"/><rect x="1356.6" y="923.1" width="12.0" height="12.0"/><rect x="1363.9" y="908.8" width="12.0" height="12.0"/><rect x="1371.7" y="920.9" width="12.0" height="12.0"/><rect x="1379.0" y="928.1" width="12.0" height="12.0"/><rect x="1385.2" y="938.4" width="12.0" height="12.0"/><rect x="1391.4" y="931.5" width="12.0" height="12.0"/><rect x="1399.8" y="930.4" width="12.0" height="12.0"/><rect x="1407.0" y="933.6" width="12.0" height="12.0"/><rect x="1413.1" y="936.7" width="12.0" height="12.0"/><rect x="1420.3" y="930.1" width="12.0" height="12.0"/><rect x="1426.7" y="916.1" width="12.0" height="12.0"/><rect x="1433.2" y="925.0" width="12.0" height="12.0"/><rect x="1442.1" y="917.6" width="12.0" height="12.0"/><rect x="1447.9" y="917.6" width="12.0" height="12.0"/><rect x="1456.1" y="927.5" width="12.0" height="12.0"/><rect x="1462.6" y="934.9" width="12.0" height="12.0"/><rect x="1469.9" y="939.5" width="12.0" height="12.0"/><rect x="1476.9" y="939.5" width="12.0" height="12.0"/><rect x="1482.8" y="926.0" width="12.0" height="12.0"/><rect x="1490.4" y="917.5" width="12.0" height="12.0"/><rect x="1496.2" y="924.8" width="12.0" height="12.0"/><rect x="1505.1" y="934.2" width="12.0" height="12.0"/><rect x="1510.2" y="927.0" width="12.0" height="12.0"/><rect x="1518.5" y="932.3" width="12.0" height="12.0"/><rect x="1525.4" y="937.6" width="12.0" height="12.0"/><rect x="1532.8" y="917.4" width="12.0" height="12.0"/><rect x="1539.9" y="937.1" width="12.0" height="12.0"/><rect x="1547.1" y="918.5" width="12.0" height="12.0"/><rect x="1552.2" y="920.1" width="12.0" height="12.0"/><rect x="1560.8" y="934.2" width="12.0" height="12.0"/><rect x="1566.7" y="937.5" width="12.0" height="12.0"/><rect x="1573.3" y="929.1" width="12.0" height="12.0"/><rect x="1491.8" y="912.5" width="12.0" height="12.0"/><rect x="1551.5" y="912.5" width="12.0" height="12.0"/><rect x="1557.7" y="912.5" width="12.0" height="12.0"/><rect x="1364.3" y="912.5" width="12.0" height="12.0"/></g>
<g fill="#F96F66" stroke="#E5656A" stroke-width="1"><rect x="1329.9" y="923.5" width="11.2" height="11.2"/><rect x="1333.7" y="927.6" width="11.2" height="11.2"/><rect x="1339.5" y="920.5" width="11.2" height="11.2"/><rect x="1343.1" y="925.4" width="11.2" height="11.2"/><rect x="1347.6" y="917.0" width="11.2" height="11.2"/><rect x="1353.1" y="916.7" width="11.2" height="11.2"/><rect x="1357.0" y="920.4" width="11.2" height="11.2"/><rect x="1360.6" y="923.0" width="11.2" height="11.2"/><rect x="1366.0" y="926.1" width="11.2" height="11.2"/><rect x="1370.6" y="927.4" width="11.2" height="11.2"/><rect x="1375.3" y="931.7" width="11.2" height="11.2"/><rect x="1379.7" y="923.6" width="11.2" height="11.2"/><rect x="1383.5" y="926.4" width="11.2" height="11.2"/><rect x="1387.9" y="938.9" width="11.2" height="11.2"/><rect x="1392.3" y="924.5" width="11.2" height="11.2"/><rect x="1397.5" y="924.9" width="11.2" height="11.2"/><rect x="1401.2" y="932.3" width="11.2" height="11.2"/><rect x="1407.2" y="932.3" width="11.2" height="11.2"/><rect x="1410.3" y="936.2" width="11.2" height="11.2"/><rect x="1415.0" y="928.5" width="11.2" height="11.2"/><rect x="1421.3" y="928.5" width="11.2" height="11.2"/><rect x="1425.7" y="938.4" width="11.2" height="11.2"/><rect x="1430.2" y="920.5" width="11.2" height="11.2"/><rect x="1434.7" y="924.9" width="11.2" height="11.2"/><rect x="1438.0" y="921.5" width="11.2" height="11.2"/><rect x="1442.4" y="925.0" width="11.2" height="11.2"/><rect x="1446.7" y="936.2" width="11.2" height="11.2"/><rect x="1451.4" y="920.7" width="11.2" height="11.2"/><rect x="1456.1" y="916.6" width="11.2" height="11.2"/><rect x="1461.9" y="920.8" width="11.2" height="11.2"/><rect x="1466.3" y="917.0" width="11.2" height="11.2"/><rect x="1470.1" y="913.7" width="11.2" height="11.2"/><rect x="1474.3" y="919.6" width="11.2" height="11.2"/><rect x="1479.9" y="933.7" width="11.2" height="11.2"/><rect x="1484.6" y="933.4" width="11.2" height="11.2"/><rect x="1487.6" y="934.7" width="11.2" height="11.2"/><rect x="1492.8" y="937.8" width="11.2" height="11.2"/><rect x="1496.5" y="921.2" width="11.2" height="11.2"/><rect x="1500.8" y="927.9" width="11.2" height="11.2"/><rect x="1507.2" y="934.4" width="11.2" height="11.2"/><rect x="1511.1" y="928.7" width="11.2" height="11.2"/><rect x="1514.6" y="926.9" width="11.2" height="11.2"/><rect x="1519.7" y="938.9" width="11.2" height="11.2"/><rect x="1523.8" y="925.5" width="11.2" height="11.2"/><rect x="1527.9" y="916.4" width="11.2" height="11.2"/><rect x="1533.1" y="921.7" width="11.2" height="11.2"/><rect x="1538.1" y="924.9" width="11.2" height="11.2"/><rect x="1542.4" y="923.0" width="11.2" height="11.2"/><rect x="1547.9" y="920.3" width="11.2" height="11.2"/><rect x="1551.8" y="916.9" width="11.2" height="11.2"/><rect x="1556.6" y="926.1" width="11.2" height="11.2"/><rect x="1560.8" y="919.6" width="11.2" height="11.2"/><rect x="1564.8" y="928.8" width="11.2" height="11.2"/><rect x="1570.1" y="931.7" width="11.2" height="11.2"/><rect x="1575.0" y="918.8" width="11.2" height="11.2"/></g>
<g fill="#fdfdfa" stroke="#EA676A" stroke-width="2.4"><circle cx="1343.5" cy="913.5" r="6.10"/><circle cx="1353.8" cy="913.5" r="6.10"/><circle cx="1368.2" cy="873.5" r="6.10"/><circle cx="1376.5" cy="873.5" r="6.10"/><circle cx="1382.6" cy="853.5" r="6.10"/><circle cx="1390.9" cy="808.5" r="6.10"/><circle cx="1397.0" cy="853.5" r="6.10"/><circle cx="1403.2" cy="821.0" r="6.10"/><circle cx="1411.4" cy="831.0" r="6.10"/><circle cx="1415.5" cy="821.0" r="6.10"/><circle cx="1423.8" cy="816.0" r="6.10"/><circle cx="1429.9" cy="803.5" r="6.10"/><circle cx="1438.2" cy="803.5" r="6.10"/><circle cx="1444.3" cy="793.5" r="6.10"/><circle cx="1450.5" cy="778.5" r="6.10"/><circle cx="1456.7" cy="781.0" r="6.10"/><circle cx="1462.9" cy="768.5" r="6.10"/><circle cx="1469.0" cy="798.5" r="6.10"/><circle cx="1475.2" cy="821.0" r="6.10"/><circle cx="1481.4" cy="863.5" r="6.10"/><circle cx="1489.6" cy="858.5" r="6.10"/><circle cx="1495.8" cy="861.0" r="6.10"/><circle cx="1502.0" cy="851.0" r="6.10"/><circle cx="1508.1" cy="856.0" r="6.10"/><circle cx="1516.4" cy="876.0" r="6.10"/><circle cx="1524.6" cy="878.5" r="6.10"/><circle cx="1534.9" cy="888.5" r="6.10"/><circle cx="1541.0" cy="878.5" r="6.10"/><circle cx="1549.3" cy="881.0" r="6.10"/><circle cx="1555.5" cy="898.5" r="6.10"/><circle cx="1563.7" cy="876.0" r="6.10"/><circle cx="1576.0" cy="918.5" r="6.10"/><circle cx="1582.2" cy="926.0" r="6.10"/></g>
<path d="M1702.0 694.5V943.2H1947.0" fill="none" stroke="#111" stroke-width="1.5"/>
<line x1="1695.0" x2="1702.0" y1="943.2" y2="943.2" stroke="#111" stroke-width="1.5"/>
<text x="1694.0" y="951.7" font-size="23.64" text-anchor="end" fill="#000">0.0</text>
<line x1="1695.0" x2="1702.0" y1="893.7" y2="893.7" stroke="#111" stroke-width="1.5"/>
<text x="1694.0" y="902.2" font-size="23.64" text-anchor="end" fill="#000">0.1</text>
<line x1="1695.0" x2="1702.0" y1="844.1" y2="844.1" stroke="#111" stroke-width="1.5"/>
<text x="1694.0" y="852.6" font-size="23.64" text-anchor="end" fill="#000">0.2</text>
<line x1="1695.0" x2="1702.0" y1="794.6" y2="794.6" stroke="#111" stroke-width="1.5"/>
<text x="1694.0" y="803.1" font-size="23.64" text-anchor="end" fill="#000">0.3</text>
<line x1="1695.0" x2="1702.0" y1="745.0" y2="745.0" stroke="#111" stroke-width="1.5"/>
<text x="1694.0" y="753.5" font-size="23.64" text-anchor="end" fill="#000">0.4</text>
<line x1="1695.0" x2="1702.0" y1="695.5" y2="695.5" stroke="#111" stroke-width="1.5"/>
<text x="1694.0" y="704.0" font-size="23.64" text-anchor="end" fill="#000">0.5</text>
<line x1="1702.0" x2="1702.0" y1="943.2" y2="949.2" stroke="#111" stroke-width="1.5"/>
<text x="1702.0" y="971.0" font-size="23.64" text-anchor="middle" fill="#000">0</text>
<line x1="1783.3" x2="1783.3" y1="943.2" y2="949.2" stroke="#111" stroke-width="1.5"/>
<text x="1783.3" y="971.0" font-size="23.64" text-anchor="middle" fill="#000">200</text>
<line x1="1864.7" x2="1864.7" y1="943.2" y2="949.2" stroke="#111" stroke-width="1.5"/>
<text x="1864.7" y="971.0" font-size="23.64" text-anchor="middle" fill="#000">400</text>
<line x1="1946.0" x2="1946.0" y1="943.2" y2="949.2" stroke="#111" stroke-width="1.5"/>
<text x="1946.0" y="971.0" font-size="23.64" text-anchor="middle" fill="#000">600</text>
<text x="1678.5" y="671.6" font-size="23.15" text-anchor="start" fill="#000" style="white-space:pre">H1 CA/09  HA-stem domain</text>
<text x="1822.8" y="996.7" font-size="23.44" text-anchor="middle" fill="#000">Time(s)</text>
<text x="1647.3" y="815.0" font-size="23.34" text-anchor="middle" fill="#000" transform="rotate(-90 1647.3 815.0)">Binding (nm)</text>
<g fill="#fdfdfa" stroke="#EA676A" stroke-width="2.4"><circle cx="1710.1" cy="916.0" r="6.10"/><circle cx="1736.6" cy="923.4" r="6.10"/><circle cx="1746.7" cy="918.4" r="6.10"/><circle cx="1763.0" cy="920.9" r="6.10"/><circle cx="1771.1" cy="921.9" r="6.10"/><circle cx="1781.3" cy="921.9" r="6.10"/><circle cx="1754.9" cy="928.3" r="6.10"/><circle cx="1797.6" cy="933.3" r="6.10"/><circle cx="1806.9" cy="925.9" r="6.10"/><circle cx="1815.9" cy="933.3" r="6.10"/><circle cx="1852.5" cy="920.9" r="6.10"/><circle cx="1864.7" cy="923.4" r="6.10"/><circle cx="1874.8" cy="933.3" r="6.10"/><circle cx="1885.0" cy="933.3" r="6.10"/><circle cx="1895.2" cy="925.9" r="6.10"/><circle cx="1921.6" cy="933.3" r="6.10"/><circle cx="1702.0" cy="943.1" r="6.10"/><circle cx="1707.8" cy="943.2" r="6.10"/><circle cx="1712.6" cy="938.2" r="6.10"/><circle cx="1719.0" cy="941.3" r="6.10"/><circle cx="1724.5" cy="942.7" r="6.10"/><circle cx="1730.4" cy="941.4" r="6.10"/><circle cx="1735.4" cy="939.9" r="6.10"/><circle cx="1740.9" cy="940.6" r="6.10"/><circle cx="1747.9" cy="936.3" r="6.10"/><circle cx="1754.0" cy="937.0" r="6.10"/><circle cx="1758.0" cy="941.4" r="6.10"/><circle cx="1764.0" cy="942.9" r="6.10"/><circle cx="1770.9" cy="942.6" r="6.10"/><circle cx="1775.2" cy="943.2" r="6.10"/><circle cx="1782.1" cy="943.2" r="6.10"/><circle cx="1788.3" cy="939.9" r="6.10"/><circle cx="1792.1" cy="937.7" r="6.10"/><circle cx="1797.9" cy="939.7" r="6.10"/><circle cx="1804.9" cy="937.5" r="6.10"/><circle cx="1809.3" cy="935.7" r="6.10"/><circle cx="1816.0" cy="941.6" r="6.10"/><circle cx="1822.2" cy="937.6" r="6.10"/><circle cx="1827.5" cy="940.3" r="6.10"/><circle cx="1833.5" cy="940.7" r="6.10"/><circle cx="1839.2" cy="941.2" r="6.10"/><circle cx="1845.3" cy="941.0" r="6.10"/><circle cx="1850.7" cy="942.2" r="6.10"/><circle cx="1856.4" cy="938.9" r="6.10"/><circle cx="1861.0" cy="943.2" r="6.10"/><circle cx="1867.5" cy="939.9" r="6.10"/><circle cx="1873.6" cy="941.0" r="6.10"/><circle cx="1878.0" cy="942.8" r="6.10"/><circle cx="1884.4" cy="939.2" r="6.10"/><circle cx="1890.6" cy="943.2" r="6.10"/><circle cx="1896.3" cy="941.2" r="6.10"/><circle cx="1901.9" cy="940.0" r="6.10"/><circle cx="1907.8" cy="939.4" r="6.10"/><circle cx="1913.3" cy="938.1" r="6.10"/><circle cx="1918.9" cy="937.5" r="6.10"/><circle cx="1924.4" cy="939.6" r="6.10"/><circle cx="1929.1" cy="939.5" r="6.10"/><circle cx="1935.3" cy="936.6" r="6.10"/><circle cx="1941.7" cy="940.3" r="6.10"/></g>
<g fill="#F96F66" stroke="#E5656A" stroke-width="1"><circle cx="1702.0" cy="944.2" r="4.10"/><circle cx="1703.5" cy="941.2" r="4.10"/><circle cx="1705.7" cy="935.9" r="4.10"/><circle cx="1708.1" cy="934.5" r="4.10"/><circle cx="1710.0" cy="935.0" r="4.10"/><circle cx="1712.7" cy="932.1" r="4.10"/><circle cx="1713.6" cy="926.4" r="4.10"/><circle cx="1715.4" cy="925.5" r="4.10"/><circle cx="1717.7" cy="924.2" r="4.10"/><circle cx="1721.3" cy="919.2" r="4.10"/><circle cx="1722.9" cy="918.4" r="4.10"/><circle cx="1724.4" cy="917.6" r="4.10"/><circle cx="1727.3" cy="911.2" r="4.10"/><circle cx="1727.9" cy="912.8" r="4.10"/><circle cx="1730.7" cy="912.7" r="4.10"/><circle cx="1733.1" cy="910.6" r="4.10"/><circle cx="1734.2" cy="911.0" r="4.10"/><circle cx="1736.4" cy="906.8" r="4.10"/><circle cx="1737.6" cy="906.4" r="4.10"/><circle cx="1740.2" cy="903.4" r="4.10"/><circle cx="1743.4" cy="904.6" r="4.10"/><circle cx="1744.6" cy="905.0" r="4.10"/><circle cx="1747.0" cy="902.1" r="4.10"/><circle cx="1748.4" cy="899.0" r="4.10"/><circle cx="1751.3" cy="897.2" r="4.10"/><circle cx="1752.7" cy="898.3" r="4.10"/><circle cx="1754.8" cy="899.6" r="4.10"/><circle cx="1756.4" cy="896.2" r="4.10"/><circle cx="1759.6" cy="894.5" r="4.10"/><circle cx="1760.3" cy="894.6" r="4.10"/><circle cx="1762.3" cy="892.3" r="4.10"/><circle cx="1764.4" cy="891.0" r="4.10"/><circle cx="1768.0" cy="893.4" r="4.10"/><circle cx="1768.9" cy="890.1" r="4.10"/><circle cx="1771.0" cy="892.7" r="4.10"/><circle cx="1773.4" cy="891.3" r="4.10"/><circle cx="1774.3" cy="891.2" r="4.10"/><circle cx="1777.8" cy="892.1" r="4.10"/><circle cx="1779.2" cy="892.8" r="4.10"/><circle cx="1781.5" cy="894.4" r="4.10"/><circle cx="1783.2" cy="892.3" r="4.10"/><circle cx="1785.9" cy="895.8" r="4.10"/><circle cx="1788.2" cy="895.6" r="4.10"/><circle cx="1789.8" cy="896.0" r="4.10"/><circle cx="1791.4" cy="900.4" r="4.10"/><circle cx="1793.8" cy="897.0" r="4.10"/><circle cx="1796.0" cy="897.1" r="4.10"/><circle cx="1797.1" cy="899.1" r="4.10"/><circle cx="1799.4" cy="896.6" r="4.10"/><circle cx="1802.5" cy="896.2" r="4.10"/><circle cx="1803.4" cy="894.8" r="4.10"/><circle cx="1806.7" cy="894.6" r="4.10"/><circle cx="1808.3" cy="895.7" r="4.10"/><circle cx="1809.8" cy="894.3" r="4.10"/><circle cx="1812.2" cy="894.4" r="4.10"/><circle cx="1814.1" cy="894.3" r="4.10"/><circle cx="1816.8" cy="896.5" r="4.10"/><circle cx="1818.3" cy="896.6" r="4.10"/><circle cx="1820.9" cy="892.7" r="4.10"/><circle cx="1821.1" cy="894.2" r="4.10"/><circle cx="1823.8" cy="892.2" r="4.10"/><circle cx="1826.4" cy="897.7" r="4.10"/><circle cx="1828.6" cy="899.3" r="4.10"/><circle cx="1830.2" cy="903.0" r="4.10"/><circle cx="1831.5" cy="902.0" r="4.10"/><circle cx="1834.7" cy="904.9" r="4.10"/><circle cx="1836.3" cy="908.7" r="4.10"/><circle cx="1839.2" cy="909.1" r="4.10"/><circle cx="1840.9" cy="907.2" r="4.10"/><circle cx="1841.9" cy="910.7" r="4.10"/><circle cx="1844.0" cy="911.2" r="4.10"/><circle cx="1845.9" cy="913.0" r="4.10"/><circle cx="1847.8" cy="912.7" r="4.10"/><circle cx="1850.9" cy="914.9" r="4.10"/><circle cx="1852.4" cy="914.9" r="4.10"/><circle cx="1854.8" cy="918.0" r="4.10"/><circle cx="1857.3" cy="919.6" r="4.10"/><circle cx="1859.2" cy="917.5" r="4.10"/><circle cx="1861.3" cy="922.4" r="4.10"/><circle cx="1861.6" cy="912.3" r="4.10"/><circle cx="1864.2" cy="910.7" r="4.10"/><circle cx="1866.0" cy="913.2" r="4.10"/><circle cx="1868.0" cy="913.4" r="4.10"/><circle cx="1871.4" cy="916.9" r="4.10"/><circle cx="1873.4" cy="918.2" r="4.10"/><circle cx="1875.6" cy="919.6" r="4.10"/><circle cx="1877.3" cy="922.4" r="4.10"/><circle cx="1879.4" cy="921.9" r="4.10"/><circle cx="1880.5" cy="917.3" r="4.10"/><circle cx="1882.2" cy="918.3" r="4.10"/><circle cx="1884.3" cy="917.2" r="4.10"/><circle cx="1887.0" cy="919.4" r="4.10"/><circle cx="1889.8" cy="916.7" r="4.10"/><circle cx="1891.2" cy="916.8" r="4.10"/><circle cx="1893.0" cy="917.2" r="4.10"/><circle cx="1894.3" cy="915.5" r="4.10"/><circle cx="1897.4" cy="915.1" r="4.10"/><circle cx="1900.1" cy="916.8" r="4.10"/><circle cx="1901.2" cy="912.3" r="4.10"/><circle cx="1902.4" cy="917.6" r="4.10"/><circle cx="1906.1" cy="920.5" r="4.10"/><circle cx="1907.3" cy="922.2" r="4.10"/><circle cx="1909.3" cy="921.3" r="4.10"/><circle cx="1911.5" cy="921.6" r="4.10"/><circle cx="1913.3" cy="924.5" r="4.10"/><circle cx="1915.0" cy="926.8" r="4.10"/><circle cx="1918.1" cy="922.3" r="4.10"/><circle cx="1919.2" cy="922.1" r="4.10"/><circle cx="1922.2" cy="919.0" r="4.10"/><circle cx="1924.1" cy="918.9" r="4.10"/><circle cx="1925.3" cy="920.9" r="4.10"/><circle cx="1927.1" cy="917.3" r="4.10"/><circle cx="1930.3" cy="919.4" r="4.10"/><circle cx="1932.0" cy="920.3" r="4.10"/><circle cx="1934.0" cy="920.4" r="4.10"/><circle cx="1935.2" cy="920.2" r="4.10"/><circle cx="1937.1" cy="921.1" r="4.10"/><circle cx="1939.0" cy="919.5" r="4.10"/><circle cx="1941.7" cy="923.5" r="4.10"/><circle cx="1944.5" cy="921.7" r="4.10"/><circle cx="1945.8" cy="921.3" r="4.10"/></g>
<g fill="#fdfdfa" stroke="#EA676A" stroke-width="2.4"><rect x="1696.4" y="936.7" width="12.0" height="12.0"/><rect x="1699.7" y="936.3" width="12.0" height="12.0"/><rect x="1703.8" y="934.7" width="12.0" height="12.0"/><rect x="1707.4" y="935.7" width="12.0" height="12.0"/><rect x="1709.9" y="934.3" width="12.0" height="12.0"/><rect x="1714.5" y="934.4" width="12.0" height="12.0"/><rect x="1718.9" y="935.2" width="12.0" height="12.0"/><rect x="1722.4" y="934.7" width="12.0" height="12.0"/><rect x="1725.0" y="935.3" width="12.0" height="12.0"/><rect x="1728.5" y="934.1" width="12.0" height="12.0"/><rect x="1732.7" y="935.2" width="12.0" height="12.0"/><rect x="1737.0" y="934.2" width="12.0" height="12.0"/><rect x="1739.8" y="934.7" width="12.0" height="12.0"/><rect x="1743.7" y="934.5" width="12.0" height="12.0"/><rect x="1746.4" y="934.7" width="12.0" height="12.0"/><rect x="1751.6" y="936.1" width="12.0" height="12.0"/><rect x="1754.0" y="937.7" width="12.0" height="12.0"/><rect x="1757.3" y="935.1" width="12.0" height="12.0"/><rect x="1761.9" y="934.7" width="12.0" height="12.0"/><rect x="1766.6" y="937.0" width="12.0" height="12.0"/><rect x="1769.2" y="936.6" width="12.0" height="12.0"/><rect x="1773.1" y="937.0" width="12.0" height="12.0"/><rect x="1777.4" y="936.6" width="12.0" height="12.0"/><rect x="1779.9" y="936.9" width="12.0" height="12.0"/><rect x="1784.0" y="937.5" width="12.0" height="12.0"/><rect x="1787.5" y="936.3" width="12.0" height="12.0"/><rect x="1791.4" y="934.3" width="12.0" height="12.0"/><rect x="1795.5" y="935.0" width="12.0" height="12.0"/><rect x="1798.1" y="932.9" width="12.0" height="12.0"/><rect x="1801.3" y="934.8" width="12.0" height="12.0"/><rect x="1806.2" y="933.1" width="12.0" height="12.0"/><rect x="1809.3" y="937.0" width="12.0" height="12.0"/><rect x="1812.7" y="935.4" width="12.0" height="12.0"/><rect x="1816.1" y="934.3" width="12.0" height="12.0"/><rect x="1820.6" y="936.2" width="12.0" height="12.0"/><rect x="1823.2" y="931.9" width="12.0" height="12.0"/><rect x="1828.3" y="935.1" width="12.0" height="12.0"/><rect x="1831.0" y="933.4" width="12.0" height="12.0"/><rect x="1835.3" y="935.4" width="12.0" height="12.0"/><rect x="1838.8" y="935.9" width="12.0" height="12.0"/><rect x="1842.7" y="937.7" width="12.0" height="12.0"/><rect x="1845.9" y="936.4" width="12.0" height="12.0"/><rect x="1849.0" y="935.9" width="12.0" height="12.0"/><rect x="1852.7" y="936.5" width="12.0" height="12.0"/><rect x="1857.7" y="937.5" width="12.0" height="12.0"/><rect x="1859.7" y="937.4" width="12.0" height="12.0"/><rect x="1864.0" y="936.4" width="12.0" height="12.0"/><rect x="1867.5" y="937.0" width="12.0" height="12.0"/><rect x="1872.5" y="936.8" width="12.0" height="12.0"/><rect x="1875.1" y="936.3" width="12.0" height="12.0"/><rect x="1879.8" y="937.7" width="12.0" height="12.0"/><rect x="1882.9" y="936.6" width="12.0" height="12.0"/><rect x="1885.4" y="933.4" width="12.0" height="12.0"/><rect x="1890.8" y="935.7" width="12.0" height="12.0"/><rect x="1893.2" y="936.7" width="12.0" height="12.0"/><rect x="1898.2" y="936.0" width="12.0" height="12.0"/><rect x="1900.7" y="934.5" width="12.0" height="12.0"/><rect x="1905.4" y="935.0" width="12.0" height="12.0"/><rect x="1908.9" y="934.2" width="12.0" height="12.0"/><rect x="1911.3" y="933.6" width="12.0" height="12.0"/><rect x="1915.2" y="934.8" width="12.0" height="12.0"/><rect x="1919.0" y="934.6" width="12.0" height="12.0"/><rect x="1922.0" y="933.3" width="12.0" height="12.0"/><rect x="1926.1" y="933.6" width="12.0" height="12.0"/><rect x="1929.8" y="935.1" width="12.0" height="12.0"/><rect x="1933.6" y="935.1" width="12.0" height="12.0"/><rect x="1938.0" y="934.9" width="12.0" height="12.0"/><rect x="1940.5" y="935.3" width="12.0" height="12.0"/><rect x="1942.0" y="937.2" width="12.0" height="12.0"/></g>
<g fill="#F96F66" stroke="#E5656A" stroke-width="1"><rect x="1697.2" y="935.8" width="11.2" height="11.2"/><rect x="1698.5" y="936.3" width="11.2" height="11.2"/><rect x="1699.8" y="934.7" width="11.2" height="11.2"/><rect x="1702.9" y="935.6" width="11.2" height="11.2"/><rect x="1704.6" y="933.6" width="11.2" height="11.2"/><rect x="1705.6" y="933.5" width="11.2" height="11.2"/><rect x="1708.9" y="934.4" width="11.2" height="11.2"/><rect x="1709.9" y="935.1" width="11.2" height="11.2"/><rect x="1711.7" y="934.8" width="11.2" height="11.2"/><rect x="1715.7" y="933.4" width="11.2" height="11.2"/><rect x="1716.2" y="935.0" width="11.2" height="11.2"/><rect x="1718.6" y="932.5" width="11.2" height="11.2"/><rect x="1721.7" y="934.7" width="11.2" height="11.2"/><rect x="1721.9" y="934.0" width="11.2" height="11.2"/><rect x="1724.0" y="933.6" width="11.2" height="11.2"/><rect x="1727.7" y="936.6" width="11.2" height="11.2"/><rect x="1728.0" y="933.7" width="11.2" height="11.2"/><rect x="1730.8" y="932.6" width="11.2" height="11.2"/><rect x="1733.1" y="932.8" width="11.2" height="11.2"/><rect x="1736.0" y="935.1" width="11.2" height="11.2"/><rect x="1736.4" y="935.6" width="11.2" height="11.2"/><rect x="1740.1" y="934.8" width="11.2" height="11.2"/><rect x="1740.8" y="934.7" width="11.2" height="11.2"/><rect x="1744.0" y="934.9" width="11.2" height="11.2"/><rect x="1745.6" y="935.5" width="11.2" height="11.2"/><rect x="1748.2" y="934.8" width="11.2" height="11.2"/><rect x="1750.2" y="935.3" width="11.2" height="11.2"/><rect x="1750.9" y="937.0" width="11.2" height="11.2"/><rect x="1753.0" y="936.6" width="11.2" height="11.2"/><rect x="1754.6" y="936.4" width="11.2" height="11.2"/><rect x="1756.7" y="935.8" width="11.2" height="11.2"/><rect x="1758.4" y="936.1" width="11.2" height="11.2"/><rect x="1762.3" y="936.7" width="11.2" height="11.2"/><rect x="1764.4" y="934.7" width="11.2" height="11.2"/><rect x="1765.4" y="937.6" width="11.2" height="11.2"/><rect x="1768.4" y="935.4" width="11.2" height="11.2"/><rect x="1769.3" y="937.3" width="11.2" height="11.2"/><rect x="1771.6" y="936.5" width="11.2" height="11.2"/><rect x="1772.8" y="936.4" width="11.2" height="11.2"/><rect x="1775.8" y="934.7" width="11.2" height="11.2"/><rect x="1777.6" y="934.3" width="11.2" height="11.2"/><rect x="1779.3" y="935.3" width="11.2" height="11.2"/><rect x="1781.8" y="936.4" width="11.2" height="11.2"/><rect x="1784.7" y="933.5" width="11.2" height="11.2"/><rect x="1786.7" y="933.6" width="11.2" height="11.2"/><rect x="1787.3" y="936.1" width="11.2" height="11.2"/><rect x="1789.3" y="935.1" width="11.2" height="11.2"/><rect x="1793.0" y="932.8" width="11.2" height="11.2"/><rect x="1793.6" y="935.0" width="11.2" height="11.2"/><rect x="1795.1" y="934.9" width="11.2" height="11.2"/><rect x="1797.1" y="935.5" width="11.2" height="11.2"/><rect x="1799.8" y="934.5" width="11.2" height="11.2"/><rect x="1802.2" y="934.4" width="11.2" height="11.2"/><rect x="1804.0" y="933.8" width="11.2" height="11.2"/><rect x="1805.5" y="934.6" width="11.2" height="11.2"/><rect x="1808.8" y="934.4" width="11.2" height="11.2"/><rect x="1809.4" y="934.8" width="11.2" height="11.2"/><rect x="1812.3" y="934.2" width="11.2" height="11.2"/><rect x="1814.8" y="933.5" width="11.2" height="11.2"/><rect x="1816.5" y="934.0" width="11.2" height="11.2"/><rect x="1818.2" y="933.8" width="11.2" height="11.2"/><rect x="1819.5" y="933.9" width="11.2" height="11.2"/><rect x="1823.2" y="935.1" width="11.2" height="11.2"/><rect x="1823.5" y="933.4" width="11.2" height="11.2"/><rect x="1826.1" y="935.0" width="11.2" height="11.2"/><rect x="1829.2" y="934.9" width="11.2" height="11.2"/><rect x="1830.8" y="934.2" width="11.2" height="11.2"/><rect x="1832.7" y="935.9" width="11.2" height="11.2"/><rect x="1835.1" y="934.5" width="11.2" height="11.2"/><rect x="1837.4" y="935.7" width="11.2" height="11.2"/><rect x="1839.2" y="933.7" width="11.2" height="11.2"/><rect x="1841.5" y="934.2" width="11.2" height="11.2"/><rect x="1842.9" y="935.8" width="11.2" height="11.2"/><rect x="1843.9" y="934.9" width="11.2" height="11.2"/><rect x="1846.1" y="935.8" width="11.2" height="11.2"/><rect x="1849.5" y="935.3" width="11.2" height="11.2"/><rect x="1850.3" y="935.8" width="11.2" height="11.2"/><rect x="1853.2" y="937.0" width="11.2" height="11.2"/><rect x="1854.2" y="936.6" width="11.2" height="11.2"/><rect x="1857.5" y="935.6" width="11.2" height="11.2"/><rect x="1859.1" y="936.0" width="11.2" height="11.2"/><rect x="1860.3" y="936.6" width="11.2" height="11.2"/><rect x="1863.9" y="935.8" width="11.2" height="11.2"/><rect x="1865.3" y="936.1" width="11.2" height="11.2"/><rect x="1868.1" y="936.6" width="11.2" height="11.2"/><rect x="1869.1" y="935.4" width="11.2" height="11.2"/><rect x="1872.2" y="936.9" width="11.2" height="11.2"/><rect x="1873.0" y="935.8" width="11.2" height="11.2"/><rect x="1876.3" y="934.8" width="11.2" height="11.2"/><rect x="1878.2" y="934.9" width="11.2" height="11.2"/><rect x="1879.4" y="937.3" width="11.2" height="11.2"/><rect x="1882.3" y="935.4" width="11.2" height="11.2"/><rect x="1883.2" y="934.2" width="11.2" height="11.2"/><rect x="1884.6" y="936.2" width="11.2" height="11.2"/><rect x="1886.8" y="934.5" width="11.2" height="11.2"/><rect x="1890.1" y="933.6" width="11.2" height="11.2"/><rect x="1892.4" y="935.3" width="11.2" height="11.2"/><rect x="1892.7" y="935.1" width="11.2" height="11.2"/><rect x="1895.2" y="935.1" width="11.2" height="11.2"/><rect x="1898.6" y="934.9" width="11.2" height="11.2"/><rect x="1899.6" y="934.8" width="11.2" height="11.2"/><rect x="1901.3" y="934.7" width="11.2" height="11.2"/><rect x="1904.0" y="932.8" width="11.2" height="11.2"/><rect x="1905.9" y="934.3" width="11.2" height="11.2"/><rect x="1907.2" y="933.0" width="11.2" height="11.2"/><rect x="1909.2" y="934.4" width="11.2" height="11.2"/><rect x="1911.4" y="933.2" width="11.2" height="11.2"/><rect x="1914.1" y="933.5" width="11.2" height="11.2"/><rect x="1916.3" y="935.4" width="11.2" height="11.2"/><rect x="1918.5" y="935.5" width="11.2" height="11.2"/><rect x="1920.0" y="934.1" width="11.2" height="11.2"/><rect x="1921.6" y="934.3" width="11.2" height="11.2"/><rect x="1924.3" y="933.4" width="11.2" height="11.2"/><rect x="1925.9" y="934.2" width="11.2" height="11.2"/><rect x="1928.2" y="935.4" width="11.2" height="11.2"/><rect x="1931.2" y="935.4" width="11.2" height="11.2"/><rect x="1931.4" y="933.5" width="11.2" height="11.2"/><rect x="1934.2" y="934.3" width="11.2" height="11.2"/><rect x="1936.8" y="935.0" width="11.2" height="11.2"/><rect x="1937.8" y="933.9" width="11.2" height="11.2"/><rect x="1940.1" y="936.0" width="11.2" height="11.2"/></g>
<path d="M970.6 1096.9V1346.8H1216.2" fill="none" stroke="#111" stroke-width="1.5"/>
<line x1="963.6" x2="970.6" y1="1346.8" y2="1346.8" stroke="#111" stroke-width="1.5"/>
<text x="962.6" y="1355.3" font-size="24.0" text-anchor="end" fill="#000">0.0</text>
<line x1="963.6" x2="970.6" y1="1311.2" y2="1311.2" stroke="#111" stroke-width="1.5"/>
<text x="962.6" y="1319.7" font-size="24.0" text-anchor="end" fill="#000">0.1</text>
<line x1="963.6" x2="970.6" y1="1275.7" y2="1275.7" stroke="#111" stroke-width="1.5"/>
<text x="962.6" y="1284.2" font-size="24.0" text-anchor="end" fill="#000">0.2</text>
<line x1="963.6" x2="970.6" y1="1240.1" y2="1240.1" stroke="#111" stroke-width="1.5"/>
<text x="962.6" y="1248.6" font-size="24.0" text-anchor="end" fill="#000">0.3</text>
<line x1="963.6" x2="970.6" y1="1204.6" y2="1204.6" stroke="#111" stroke-width="1.5"/>
<text x="962.6" y="1213.1" font-size="24.0" text-anchor="end" fill="#000">0.4</text>
<line x1="963.6" x2="970.6" y1="1169.0" y2="1169.0" stroke="#111" stroke-width="1.5"/>
<text x="962.6" y="1177.5" font-size="24.0" text-anchor="end" fill="#000">0.5</text>
<line x1="963.6" x2="970.6" y1="1133.5" y2="1133.5" stroke="#111" stroke-width="1.5"/>
<text x="962.6" y="1142.0" font-size="24.0" text-anchor="end" fill="#000">0.6</text>
<line x1="963.6" x2="970.6" y1="1097.9" y2="1097.9" stroke="#111" stroke-width="1.5"/>
<text x="962.6" y="1106.4" font-size="24.0" text-anchor="end" fill="#000">0.7</text>
<line x1="970.6" x2="970.6" y1="1346.8" y2="1352.8" stroke="#111" stroke-width="1.5"/>
<text x="970.6" y="1376.5" font-size="24.0" text-anchor="middle" fill="#000">0</text>
<line x1="1052.1" x2="1052.1" y1="1346.8" y2="1352.8" stroke="#111" stroke-width="1.5"/>
<text x="1052.1" y="1376.5" font-size="24.0" text-anchor="middle" fill="#000">200</text>
<line x1="1133.7" x2="1133.7" y1="1346.8" y2="1352.8" stroke="#111" stroke-width="1.5"/>
<text x="1133.7" y="1376.5" font-size="24.0" text-anchor="middle" fill="#000">400</text>
<line x1="1215.2" x2="1215.2" y1="1346.8" y2="1352.8" stroke="#111" stroke-width="1.5"/>
<text x="1215.2" y="1376.5" font-size="24.0" text-anchor="middle" fill="#000">600</text>
<text x="963.6" y="1075.2" font-size="23.5" text-anchor="start" fill="#000" style="white-space:pre">H1 CA/09  HA-full length</text>
<text x="1091.0" y="1402.3" font-size="23.8" text-anchor="middle" fill="#000">Time(s)</text>
<text x="915.5" y="1219.5" font-size="23.7" text-anchor="middle" fill="#000" transform="rotate(-90 915.5 1219.5)">Binding (nm)</text>
<path d="M978.8 1329.0L980.8 1326.6L982.8 1324.2L984.9 1321.8L986.9 1319.4L988.9 1317.0L991.0 1314.5L993.0 1312.1L995.1 1309.7L997.1 1307.3L999.1 1304.9L1001.2 1302.5L1003.2 1300.1L1005.3 1297.7L1007.3 1295.2L1009.3 1292.8L1011.4 1290.4L1013.4 1288.0L1015.4 1285.6L1017.5 1283.3L1019.5 1280.9L1021.6 1278.6L1023.6 1276.2L1025.6 1273.9L1027.7 1271.5L1029.7 1269.2L1031.8 1266.9L1033.8 1264.6L1035.8 1262.4L1037.9 1260.1L1039.9 1257.8L1041.9 1255.5L1044.0 1253.2L1046.0 1251.0L1048.1 1248.8L1050.1 1246.6L1052.1 1244.4L1054.2 1242.1L1056.2 1239.9L1058.2 1237.7L1060.3 1235.6L1062.3 1233.4L1064.4 1231.2L1066.4 1229.1L1068.4 1226.9L1070.5 1224.8L1072.5 1222.6L1074.6 1220.4L1076.6 1218.3L1078.6 1216.1L1080.7 1214.0L1082.7 1211.8L1084.7 1209.7L1086.8 1207.5L1088.8 1205.3L1090.9 1203.2L1092.9 1201.0L1094.9 1204.2L1097.0 1207.4L1099.0 1210.6L1101.1 1213.8L1103.1 1217.0L1105.1 1220.2L1107.2 1223.3L1109.2 1226.2L1111.2 1229.2L1113.3 1231.9L1115.3 1234.7L1117.4 1237.3L1119.4 1239.8L1121.4 1242.3L1123.5 1244.6L1125.5 1246.9L1127.6 1249.1L1129.6 1251.4L1131.6 1253.6L1133.7 1255.7L1135.7 1257.8L1137.7 1259.9L1139.8 1261.9L1141.8 1264.0L1143.9 1265.9L1145.9 1267.9L1147.9 1269.7L1150.0 1271.5L1152.0 1273.2L1154.0 1274.8L1156.1 1276.4L1158.1 1277.9L1160.2 1279.3L1162.2 1280.7L1164.2 1281.9L1166.3 1283.2L1168.3 1284.2L1170.4 1285.2L1172.4 1286.2L1174.4 1287.1L1176.5 1287.9L1178.5 1288.7L1180.5 1289.4L1182.6 1290.1L1184.6 1290.8L1186.7 1291.5L1188.7 1292.0L1190.7 1292.6L1192.8 1293.1L1194.8 1293.7L1196.9 1294.2L1198.9 1294.8L1200.9 1295.4L1203.0 1295.9L1205.0 1296.5L1207.0 1297.0L1209.1 1297.0L1211.1 1297.0" fill="none" stroke="#B680FC" stroke-width="3" stroke-linejoin="round"/>
<path d="M970.6 1329.0L972.6 1324.9L974.7 1320.7L976.7 1316.6L978.8 1312.4L980.8 1308.3L982.8 1304.1L984.9 1300.0L986.9 1295.8L988.9 1291.7L991.0 1287.5L993.0 1283.4L995.1 1279.2L997.1 1275.1L999.1 1270.9L1001.2 1266.8L1003.2 1262.6L1005.3 1258.5L1007.3 1254.4L1009.3 1250.2L1011.4 1246.2L1013.4 1242.4L1015.4 1238.6L1017.5 1234.8L1019.5 1231.2L1021.6 1227.7L1023.6 1224.1L1025.6 1220.7L1027.7 1217.4L1029.7 1214.1L1031.8 1210.8L1033.8 1207.7L1035.8 1204.6L1037.9 1201.5L1039.9 1198.3L1041.9 1195.5L1044.0 1192.6L1046.0 1189.8L1048.1 1186.9L1050.1 1184.2L1052.1 1181.6L1054.2 1178.9L1056.2 1176.3L1058.2 1173.6L1060.3 1171.2L1062.3 1168.7L1064.4 1166.3L1066.4 1163.8L1068.4 1161.4L1070.5 1159.1L1072.5 1156.8L1074.6 1154.5L1076.6 1152.3L1078.6 1150.0L1080.7 1147.7L1082.7 1145.4L1084.7 1143.1L1086.8 1140.8L1088.8 1138.5L1090.9 1136.3L1092.9 1134.0L1094.9 1131.7L1097.0 1132.5L1099.0 1133.4L1101.1 1134.2L1103.1 1135.0L1105.1 1135.9L1107.2 1136.7L1109.2 1137.6L1111.2 1138.4L1113.3 1139.3L1115.3 1140.1L1117.4 1140.9L1119.4 1141.8L1121.4 1142.7L1123.5 1143.6L1125.5 1144.5L1127.6 1145.4L1129.6 1146.3L1131.6 1147.3L1133.7 1148.2L1135.7 1149.2L1137.7 1150.1L1139.8 1151.1L1141.8 1152.1L1143.9 1153.1L1145.9 1154.2L1147.9 1155.2L1150.0 1156.2L1152.0 1157.3L1154.0 1158.3L1156.1 1159.4L1158.1 1160.5L1160.2 1161.5L1162.2 1162.6L1164.2 1163.7L1166.3 1164.8L1168.3 1165.8L1170.4 1166.9L1172.4 1168.0L1174.4 1169.1L1176.5 1170.1L1178.5 1171.2L1180.5 1172.3L1182.6 1173.4L1184.6 1174.5L1186.7 1175.5L1188.7 1176.6L1190.7 1177.7L1192.8 1178.8L1194.8 1179.9L1196.9 1181.0L1198.9 1182.1L1200.9 1183.1L1203.0 1184.2L1205.0 1185.3L1207.0 1186.4L1209.1 1187.5L1211.1 1188.6" fill="none" stroke="#B680FC" stroke-width="3" stroke-linejoin="round"/>
<g fill="#B680FC" stroke="#A87AEC" stroke-width="1"><circle cx="971.3" cy="1321.0" r="5.55"/><circle cx="974.3" cy="1317.8" r="5.55"/><circle cx="978.1" cy="1305.7" r="5.55"/><circle cx="979.8" cy="1291.0" r="5.55"/><circle cx="982.9" cy="1296.8" r="5.55"/><circle cx="987.1" cy="1294.6" r="5.55"/><circle cx="989.7" cy="1288.8" r="5.55"/><circle cx="992.7" cy="1283.6" r="5.55"/><circle cx="996.8" cy="1272.7" r="5.55"/><circle cx="1000.3" cy="1248.6" r="5.55"/><circle cx="1002.8" cy="1249.5" r="5.55"/><circle cx="1007.2" cy="1242.1" r="5.55"/><circle cx="1010.1" cy="1234.2" r="5.55"/><circle cx="1013.0" cy="1230.8" r="5.55"/><circle cx="1015.4" cy="1231.7" r="5.55"/><circle cx="1020.0" cy="1223.3" r="5.55"/><circle cx="1022.6" cy="1215.6" r="5.55"/><circle cx="1026.8" cy="1224.1" r="5.55"/><circle cx="1028.8" cy="1210.3" r="5.55"/><circle cx="1032.3" cy="1213.6" r="5.55"/><circle cx="1036.2" cy="1214.8" r="5.55"/><circle cx="1038.8" cy="1215.8" r="5.55"/><circle cx="1041.7" cy="1203.6" r="5.55"/><circle cx="1046.0" cy="1203.3" r="5.55"/><circle cx="1047.9" cy="1195.0" r="5.55"/><circle cx="1051.9" cy="1178.8" r="5.55"/><circle cx="1055.0" cy="1175.9" r="5.55"/><circle cx="1058.8" cy="1168.9" r="5.55"/><circle cx="1061.4" cy="1165.7" r="5.55"/><circle cx="1064.2" cy="1156.3" r="5.55"/><circle cx="1069.0" cy="1160.2" r="5.55"/><circle cx="1071.9" cy="1159.3" r="5.55"/><circle cx="1074.4" cy="1155.2" r="5.55"/><circle cx="1079.1" cy="1152.0" r="5.55"/><circle cx="1080.6" cy="1149.6" r="5.55"/><circle cx="1085.4" cy="1143.1" r="5.55"/><circle cx="1087.2" cy="1129.2" r="5.55"/><circle cx="1091.7" cy="1130.4" r="5.55"/><circle cx="1095.2" cy="1130.6" r="5.55"/><circle cx="1098.2" cy="1132.1" r="5.55"/><circle cx="1101.1" cy="1127.7" r="5.55"/><circle cx="1103.4" cy="1140.4" r="5.55"/><circle cx="1108.2" cy="1147.9" r="5.55"/><circle cx="1111.1" cy="1139.7" r="5.55"/><circle cx="1113.6" cy="1139.6" r="5.55"/><circle cx="1116.8" cy="1140.2" r="5.55"/><circle cx="1119.9" cy="1142.5" r="5.55"/><circle cx="1123.4" cy="1147.6" r="5.55"/><circle cx="1127.0" cy="1137.4" r="5.55"/><circle cx="1131.2" cy="1143.3" r="5.55"/><circle cx="1133.8" cy="1146.2" r="5.55"/><circle cx="1137.5" cy="1134.9" r="5.55"/><circle cx="1140.5" cy="1149.0" r="5.55"/><circle cx="1144.1" cy="1151.1" r="5.55"/><circle cx="1146.3" cy="1153.5" r="5.55"/><circle cx="1149.5" cy="1152.4" r="5.55"/><circle cx="1153.6" cy="1158.4" r="5.55"/><circle cx="1156.4" cy="1156.9" r="5.55"/><circle cx="1159.1" cy="1158.4" r="5.55"/><circle cx="1163.5" cy="1160.4" r="5.55"/><circle cx="1166.7" cy="1157.2" r="5.55"/><circle cx="1169.5" cy="1166.2" r="5.55"/><circle cx="1172.2" cy="1168.4" r="5.55"/><circle cx="1176.4" cy="1170.2" r="5.55"/><circle cx="1180.2" cy="1174.2" r="5.55"/><circle cx="1181.9" cy="1177.2" r="5.55"/><circle cx="1186.4" cy="1174.4" r="5.55"/><circle cx="1189.4" cy="1181.9" r="5.55"/><circle cx="1193.2" cy="1176.6" r="5.55"/><circle cx="1196.1" cy="1175.3" r="5.55"/><circle cx="1198.3" cy="1182.3" r="5.55"/><circle cx="1202.3" cy="1189.5" r="5.55"/><circle cx="1206.1" cy="1187.6" r="5.55"/><circle cx="1208.9" cy="1187.2" r="5.55"/><circle cx="1047.6" cy="1163.0" r="5.55"/><circle cx="1027.7" cy="1187.9" r="5.55"/><circle cx="1039.1" cy="1184.3" r="5.55"/><circle cx="1052.1" cy="1180.7" r="5.55"/><circle cx="1055.8" cy="1190.3" r="5.55"/><circle cx="1060.3" cy="1193.9" r="5.55"/><circle cx="1107.2" cy="1122.8" r="5.55"/><circle cx="1112.1" cy="1159.8" r="5.55"/><circle cx="1175.2" cy="1199.2" r="5.55"/><circle cx="1209.9" cy="1202.8" r="5.55"/><circle cx="1150.0" cy="1172.6" r="5.55"/><circle cx="1156.1" cy="1174.3" r="5.55"/></g>
<g fill="#fdfdfa" stroke="#AC7CF0" stroke-width="2.4"><circle cx="970.6" cy="1329.0" r="6.10"/><circle cx="986.9" cy="1325.5" r="6.10"/><circle cx="995.1" cy="1293.5" r="6.10"/><circle cx="1003.2" cy="1297.0" r="6.10"/><circle cx="1011.4" cy="1282.8" r="6.10"/><circle cx="1019.5" cy="1291.7" r="6.10"/><circle cx="1027.7" cy="1240.1" r="6.10"/><circle cx="1035.8" cy="1268.6" r="6.10"/><circle cx="1044.0" cy="1263.2" r="6.10"/><circle cx="1048.1" cy="1222.3" r="6.10"/><circle cx="1052.1" cy="1240.1" r="6.10"/><circle cx="1060.3" cy="1247.2" r="6.10"/><circle cx="1064.4" cy="1218.8" r="6.10"/><circle cx="1070.5" cy="1215.2" r="6.10"/><circle cx="1076.6" cy="1222.3" r="6.10"/><circle cx="1080.7" cy="1208.1" r="6.10"/><circle cx="1084.7" cy="1197.5" r="6.10"/><circle cx="1088.8" cy="1204.6" r="6.10"/><circle cx="1092.9" cy="1197.5" r="6.10"/><circle cx="1101.1" cy="1222.3" r="6.10"/><circle cx="1107.2" cy="1233.0" r="6.10"/><circle cx="1113.3" cy="1220.6" r="6.10"/><circle cx="1121.4" cy="1247.2" r="6.10"/><circle cx="1127.6" cy="1247.2" r="6.10"/><circle cx="1133.7" cy="1250.8" r="6.10"/><circle cx="1141.8" cy="1282.8" r="6.10"/><circle cx="1150.0" cy="1266.8" r="6.10"/><circle cx="1158.1" cy="1254.4" r="6.10"/><circle cx="1164.2" cy="1289.9" r="6.10"/><circle cx="1172.4" cy="1300.6" r="6.10"/><circle cx="1178.5" cy="1273.9" r="6.10"/><circle cx="1186.7" cy="1305.9" r="6.10"/><circle cx="1192.8" cy="1318.4" r="6.10"/><circle cx="1200.9" cy="1302.4" r="6.10"/><circle cx="1209.1" cy="1300.6" r="6.10"/><circle cx="1013.4" cy="1286.4" r="6.10"/><circle cx="1016.3" cy="1288.1" r="6.10"/><circle cx="1031.8" cy="1270.4" r="6.10"/><circle cx="1039.9" cy="1265.0" r="6.10"/><circle cx="1056.2" cy="1243.7" r="6.10"/></g>
<g fill="#B680FC" stroke="#A87AEC" stroke-width="1"><rect x="965.4" y="1319.2" width="11.2" height="11.2"/><rect x="970.3" y="1336.8" width="11.2" height="11.2"/><rect x="975.2" y="1329.8" width="11.2" height="11.2"/><rect x="980.2" y="1328.0" width="11.2" height="11.2"/><rect x="987.2" y="1325.0" width="11.2" height="11.2"/><rect x="990.9" y="1325.5" width="11.2" height="11.2"/><rect x="995.8" y="1320.8" width="11.2" height="11.2"/><rect x="1001.9" y="1337.3" width="11.2" height="11.2"/><rect x="1007.7" y="1335.1" width="11.2" height="11.2"/><rect x="1012.6" y="1331.2" width="11.2" height="11.2"/><rect x="1018.7" y="1329.3" width="11.2" height="11.2"/><rect x="1023.2" y="1335.3" width="11.2" height="11.2"/><rect x="1028.3" y="1333.5" width="11.2" height="11.2"/><rect x="1033.8" y="1332.5" width="11.2" height="11.2"/><rect x="1040.0" y="1324.5" width="11.2" height="11.2"/><rect x="1044.7" y="1341.2" width="11.2" height="11.2"/><rect x="1048.9" y="1336.6" width="11.2" height="11.2"/><rect x="1055.2" y="1338.8" width="11.2" height="11.2"/><rect x="1060.4" y="1333.2" width="11.2" height="11.2"/><rect x="1066.5" y="1332.7" width="11.2" height="11.2"/><rect x="1070.4" y="1330.3" width="11.2" height="11.2"/><rect x="1076.6" y="1332.3" width="11.2" height="11.2"/><rect x="1081.8" y="1332.3" width="11.2" height="11.2"/><rect x="1086.7" y="1322.9" width="11.2" height="11.2"/><rect x="1091.5" y="1321.4" width="11.2" height="11.2"/><rect x="1098.2" y="1332.6" width="11.2" height="11.2"/><rect x="1102.0" y="1333.6" width="11.2" height="11.2"/><rect x="1108.2" y="1331.6" width="11.2" height="11.2"/><rect x="1113.5" y="1327.1" width="11.2" height="11.2"/><rect x="1117.8" y="1329.0" width="11.2" height="11.2"/><rect x="1123.1" y="1341.2" width="11.2" height="11.2"/><rect x="1129.7" y="1330.6" width="11.2" height="11.2"/><rect x="1133.8" y="1325.6" width="11.2" height="11.2"/><rect x="1140.6" y="1334.6" width="11.2" height="11.2"/><rect x="1144.5" y="1325.9" width="11.2" height="11.2"/><rect x="1149.7" y="1333.5" width="11.2" height="11.2"/><rect x="1154.9" y="1329.7" width="11.2" height="11.2"/><rect x="1161.3" y="1323.3" width="11.2" height="11.2"/><rect x="1166.0" y="1329.1" width="11.2" height="11.2"/><rect x="1171.9" y="1332.4" width="11.2" height="11.2"/><rect x="1177.1" y="1316.3" width="11.2" height="11.2"/><rect x="1182.8" y="1332.1" width="11.2" height="11.2"/><rect x="1188.1" y="1331.6" width="11.2" height="11.2"/><rect x="1192.6" y="1337.8" width="11.2" height="11.2"/><rect x="1199.1" y="1329.8" width="11.2" height="11.2"/><rect x="1202.7" y="1332.6" width="11.2" height="11.2"/><rect x="1018.0" y="1318.1" width="11.2" height="11.2"/><rect x="1103.6" y="1318.1" width="11.2" height="11.2"/><rect x="1150.5" y="1316.3" width="11.2" height="11.2"/><rect x="1201.4" y="1319.9" width="11.2" height="11.2"/></g>
<g fill="#fdfdfa" stroke="#AC7CF0" stroke-width="2.4"><rect x="965.2" y="1322.1" width="12.0" height="12.0"/><rect x="969.0" y="1322.1" width="12.0" height="12.0"/><rect x="974.3" y="1325.4" width="12.0" height="12.0"/><rect x="978.3" y="1334.8" width="12.0" height="12.0"/><rect x="984.8" y="1324.9" width="12.0" height="12.0"/><rect x="989.4" y="1321.0" width="12.0" height="12.0"/><rect x="993.2" y="1322.9" width="12.0" height="12.0"/><rect x="999.5" y="1333.6" width="12.0" height="12.0"/><rect x="1002.7" y="1331.5" width="12.0" height="12.0"/><rect x="1009.4" y="1328.2" width="12.0" height="12.0"/><rect x="1012.6" y="1328.0" width="12.0" height="12.0"/><rect x="1018.2" y="1324.1" width="12.0" height="12.0"/><rect x="1022.6" y="1331.6" width="12.0" height="12.0"/><rect x="1028.4" y="1340.4" width="12.0" height="12.0"/><rect x="1032.7" y="1333.6" width="12.0" height="12.0"/><rect x="1037.0" y="1324.3" width="12.0" height="12.0"/><rect x="1042.6" y="1341.5" width="12.0" height="12.0"/><rect x="1047.5" y="1333.4" width="12.0" height="12.0"/><rect x="1052.8" y="1334.3" width="12.0" height="12.0"/><rect x="1058.5" y="1331.4" width="12.0" height="12.0"/><rect x="1061.7" y="1333.2" width="12.0" height="12.0"/><rect x="1067.3" y="1333.8" width="12.0" height="12.0"/><rect x="1072.4" y="1341.5" width="12.0" height="12.0"/><rect x="1076.2" y="1330.5" width="12.0" height="12.0"/><rect x="1082.6" y="1320.8" width="12.0" height="12.0"/><rect x="1087.2" y="1334.8" width="12.0" height="12.0"/><rect x="1091.3" y="1325.1" width="12.0" height="12.0"/><rect x="1097.1" y="1340.4" width="12.0" height="12.0"/><rect x="1102.1" y="1330.9" width="12.0" height="12.0"/><rect x="1106.2" y="1338.6" width="12.0" height="12.0"/><rect x="1111.2" y="1328.4" width="12.0" height="12.0"/><rect x="1117.2" y="1332.5" width="12.0" height="12.0"/><rect x="1120.9" y="1335.2" width="12.0" height="12.0"/><rect x="1125.3" y="1331.8" width="12.0" height="12.0"/><rect x="1131.7" y="1341.5" width="12.0" height="12.0"/><rect x="1135.4" y="1334.1" width="12.0" height="12.0"/><rect x="1139.8" y="1336.8" width="12.0" height="12.0"/><rect x="1145.7" y="1329.6" width="12.0" height="12.0"/><rect x="1150.2" y="1326.3" width="12.0" height="12.0"/><rect x="1154.7" y="1335.1" width="12.0" height="12.0"/><rect x="1161.3" y="1336.3" width="12.0" height="12.0"/><rect x="1165.9" y="1321.4" width="12.0" height="12.0"/><rect x="1170.0" y="1324.5" width="12.0" height="12.0"/><rect x="1174.0" y="1330.4" width="12.0" height="12.0"/><rect x="1179.4" y="1328.8" width="12.0" height="12.0"/><rect x="1184.1" y="1331.9" width="12.0" height="12.0"/><rect x="1190.4" y="1331.1" width="12.0" height="12.0"/><rect x="1195.5" y="1333.0" width="12.0" height="12.0"/><rect x="1198.6" y="1327.1" width="12.0" height="12.0"/><rect x="1203.6" y="1341.5" width="12.0" height="12.0"/><rect x="1209.3" y="1328.2" width="12.0" height="12.0"/></g>
<path d="M1332.1 1097.2V1347.7H1577.5" fill="none" stroke="#111" stroke-width="1.5"/>
<line x1="1325.1" x2="1332.1" y1="1347.7" y2="1347.7" stroke="#111" stroke-width="1.5"/>
<text x="1324.1" y="1356.2" font-size="24.0" text-anchor="end" fill="#000">0.0</text>
<line x1="1325.1" x2="1332.1" y1="1312.1" y2="1312.1" stroke="#111" stroke-width="1.5"/>
<text x="1324.1" y="1320.6" font-size="24.0" text-anchor="end" fill="#000">0.1</text>
<line x1="1325.1" x2="1332.1" y1="1276.4" y2="1276.4" stroke="#111" stroke-width="1.5"/>
<text x="1324.1" y="1284.9" font-size="24.0" text-anchor="end" fill="#000">0.2</text>
<line x1="1325.1" x2="1332.1" y1="1240.8" y2="1240.8" stroke="#111" stroke-width="1.5"/>
<text x="1324.1" y="1249.3" font-size="24.0" text-anchor="end" fill="#000">0.3</text>
<line x1="1325.1" x2="1332.1" y1="1205.1" y2="1205.1" stroke="#111" stroke-width="1.5"/>
<text x="1324.1" y="1213.6" font-size="24.0" text-anchor="end" fill="#000">0.4</text>
<line x1="1325.1" x2="1332.1" y1="1169.5" y2="1169.5" stroke="#111" stroke-width="1.5"/>
<text x="1324.1" y="1178.0" font-size="24.0" text-anchor="end" fill="#000">0.5</text>
<line x1="1325.1" x2="1332.1" y1="1133.8" y2="1133.8" stroke="#111" stroke-width="1.5"/>
<text x="1324.1" y="1142.3" font-size="24.0" text-anchor="end" fill="#000">0.6</text>
<line x1="1325.1" x2="1332.1" y1="1098.2" y2="1098.2" stroke="#111" stroke-width="1.5"/>
<text x="1324.1" y="1106.7" font-size="24.0" text-anchor="end" fill="#000">0.7</text>
<line x1="1332.1" x2="1332.1" y1="1347.7" y2="1353.7" stroke="#111" stroke-width="1.5"/>
<text x="1332.1" y="1376.9" font-size="24.0" text-anchor="middle" fill="#000">0</text>
<line x1="1413.6" x2="1413.6" y1="1347.7" y2="1353.7" stroke="#111" stroke-width="1.5"/>
<text x="1413.6" y="1376.9" font-size="24.0" text-anchor="middle" fill="#000">200</text>
<line x1="1495.0" x2="1495.0" y1="1347.7" y2="1353.7" stroke="#111" stroke-width="1.5"/>
<text x="1495.0" y="1376.9" font-size="24.0" text-anchor="middle" fill="#000">400</text>
<line x1="1576.5" x2="1576.5" y1="1347.7" y2="1353.7" stroke="#111" stroke-width="1.5"/>
<text x="1576.5" y="1376.9" font-size="24.0" text-anchor="middle" fill="#000">600</text>
<text x="1307.2" y="1074.5" font-size="23.5" text-anchor="start" fill="#000" style="white-space:pre">H1 CA/09  HA-head domain</text>
<text x="1452.8" y="1402.5" font-size="23.8" text-anchor="middle" fill="#000">Time(s)</text>
<text x="1276.7" y="1219.5" font-size="23.7" text-anchor="middle" fill="#000" transform="rotate(-90 1276.7 1219.5)">Binding (nm)</text>
<path d="M1340.2 1337.0L1342.3 1335.1L1344.3 1333.2L1346.4 1331.3L1348.4 1329.4L1350.4 1327.5L1352.5 1325.6L1354.5 1323.8L1356.5 1321.9L1358.6 1320.0L1360.6 1318.1L1362.6 1316.3L1364.7 1314.6L1366.7 1312.9L1368.8 1311.2L1370.8 1309.5L1372.8 1307.9L1374.9 1306.4L1376.9 1304.8L1378.9 1303.2L1381.0 1301.8L1383.0 1300.3L1385.1 1298.9L1387.1 1297.4L1389.1 1296.0L1391.2 1294.7L1393.2 1293.3L1395.2 1292.0L1397.3 1290.7L1399.3 1289.4L1401.3 1288.1L1403.4 1286.9L1405.4 1285.6L1407.5 1284.4L1409.5 1283.2L1411.5 1282.0L1413.6 1280.9L1415.6 1279.7L1417.6 1278.6L1419.7 1277.4L1421.7 1276.4L1423.8 1275.3L1425.8 1274.2L1427.8 1273.2L1429.9 1272.1L1431.9 1271.2L1433.9 1270.2L1436.0 1269.2L1438.0 1268.2L1440.0 1267.2L1442.1 1266.3L1444.1 1265.3L1446.2 1264.3L1448.2 1263.3L1450.2 1262.3L1452.3 1261.4L1454.3 1260.4L1456.3 1264.4L1458.4 1268.4L1460.4 1272.3L1462.4 1276.1L1464.5 1279.9L1466.5 1283.5L1468.6 1287.1L1470.6 1290.5L1472.6 1293.4L1474.7 1296.1L1476.7 1298.6L1478.7 1300.8L1480.8 1302.9L1482.8 1304.9L1484.8 1306.7L1486.9 1308.5L1488.9 1310.1L1491.0 1311.7L1493.0 1313.3L1495.0 1314.7L1497.1 1316.2L1499.1 1317.4L1501.1 1318.7L1503.2 1319.9L1505.2 1321.0L1507.3 1322.0L1509.3 1323.0L1511.3 1323.9L1513.4 1324.8L1515.4 1325.6L1517.4 1326.4L1519.5 1327.1L1521.5 1327.8L1523.5 1328.5L1525.6 1329.0L1527.6 1329.5L1529.7 1330.1L1531.7 1330.6L1533.7 1331.1L1535.8 1331.7" fill="none" stroke="#B680FC" stroke-width="3" stroke-linejoin="round"/>
<path d="M1332.1 1329.9L1334.1 1327.7L1336.2 1325.6L1338.2 1323.5L1340.2 1321.3L1342.3 1319.2L1344.3 1317.0L1346.4 1314.9L1348.4 1312.8L1350.4 1310.6L1352.5 1308.5L1354.5 1306.4L1356.5 1304.2L1358.6 1302.1L1360.6 1300.0L1362.6 1297.9L1364.7 1295.7L1366.7 1293.6L1368.8 1291.5L1370.8 1289.4L1372.8 1287.3L1374.9 1285.2L1376.9 1283.1L1378.9 1281.1L1381.0 1279.0L1383.0 1276.9L1385.1 1274.8L1387.1 1272.8L1389.1 1270.7L1391.2 1268.7L1393.2 1266.6L1395.2 1264.6L1397.3 1262.5L1399.3 1260.6L1401.3 1258.8L1403.4 1257.0L1405.4 1255.2L1407.5 1253.4L1409.5 1251.7L1411.5 1250.2L1413.6 1248.6L1415.6 1247.1L1417.6 1245.5L1419.7 1244.1L1421.7 1242.8L1423.8 1241.5L1425.8 1240.1L1427.8 1238.8L1429.9 1237.6L1431.9 1236.5L1433.9 1235.4L1436.0 1234.4L1438.0 1233.3L1440.0 1232.2L1442.1 1231.1L1444.1 1230.1L1446.2 1229.0L1448.2 1227.9L1450.2 1226.9L1452.3 1225.8L1454.3 1224.7L1456.3 1223.7L1458.4 1224.8L1460.4 1226.0L1462.4 1227.2L1464.5 1228.4L1466.5 1229.6L1468.6 1230.8L1470.6 1231.9L1472.6 1233.1L1474.7 1234.3L1476.7 1235.5L1478.7 1236.7L1480.8 1237.8L1482.8 1239.0L1484.8 1240.2L1486.9 1241.4L1488.9 1242.5L1491.0 1243.7L1493.0 1244.9L1495.0 1246.1L1497.1 1247.2L1499.1 1248.4L1501.1 1249.6L1503.2 1250.7L1505.2 1251.9L1507.3 1253.1L1509.3 1254.2L1511.3 1255.4L1513.4 1256.5L1515.4 1257.7L1517.4 1258.9L1519.5 1260.0L1521.5 1261.2L1523.5 1262.3L1525.6 1263.4L1527.6 1264.5L1529.7 1265.6L1531.7 1266.7L1533.7 1267.8L1535.8 1268.8L1537.8 1269.9L1539.8 1271.0L1541.9 1272.0L1543.9 1273.1L1546.0 1274.1L1548.0 1275.1L1550.0 1276.1L1552.1 1277.1L1554.1 1278.1L1556.1 1279.1L1558.2 1280.1L1560.2 1281.0L1562.2 1282.0L1564.3 1283.0L1566.3 1284.0L1568.4 1285.0L1570.4 1285.9L1572.4 1286.9L1574.5 1287.9L1576.5 1288.9" fill="none" stroke="#B680FC" stroke-width="3" stroke-linejoin="round"/>
<g fill="#B680FC" stroke="#A87AEC" stroke-width="1"><circle cx="1332.1" cy="1337.0" r="5.55"/><circle cx="1335.9" cy="1331.3" r="5.55"/><circle cx="1338.3" cy="1327.8" r="5.55"/><circle cx="1341.7" cy="1315.8" r="5.55"/><circle cx="1345.1" cy="1314.9" r="5.55"/><circle cx="1347.9" cy="1312.6" r="5.55"/><circle cx="1351.8" cy="1306.9" r="5.55"/><circle cx="1354.0" cy="1306.4" r="5.55"/><circle cx="1357.3" cy="1300.8" r="5.55"/><circle cx="1360.7" cy="1291.9" r="5.55"/><circle cx="1364.5" cy="1288.6" r="5.55"/><circle cx="1368.1" cy="1290.3" r="5.55"/><circle cx="1370.9" cy="1285.5" r="5.55"/><circle cx="1374.0" cy="1283.4" r="5.55"/><circle cx="1377.3" cy="1286.1" r="5.55"/><circle cx="1382.0" cy="1281.3" r="5.55"/><circle cx="1385.1" cy="1276.0" r="5.55"/><circle cx="1386.5" cy="1270.9" r="5.55"/><circle cx="1390.5" cy="1256.9" r="5.55"/><circle cx="1393.5" cy="1255.7" r="5.55"/><circle cx="1396.5" cy="1255.4" r="5.55"/><circle cx="1400.5" cy="1254.1" r="5.55"/><circle cx="1403.5" cy="1248.5" r="5.55"/><circle cx="1406.4" cy="1243.4" r="5.55"/><circle cx="1409.3" cy="1246.8" r="5.55"/><circle cx="1413.0" cy="1233.9" r="5.55"/><circle cx="1416.5" cy="1237.8" r="5.55"/><circle cx="1420.0" cy="1240.1" r="5.55"/><circle cx="1423.8" cy="1229.1" r="5.55"/><circle cx="1426.9" cy="1241.6" r="5.55"/><circle cx="1430.0" cy="1233.1" r="5.55"/><circle cx="1434.0" cy="1233.9" r="5.55"/><circle cx="1435.9" cy="1241.8" r="5.55"/><circle cx="1439.5" cy="1236.9" r="5.55"/><circle cx="1443.2" cy="1227.7" r="5.55"/><circle cx="1447.2" cy="1222.0" r="5.55"/><circle cx="1450.2" cy="1218.4" r="5.55"/><circle cx="1452.2" cy="1222.9" r="5.55"/><circle cx="1455.6" cy="1236.7" r="5.55"/><circle cx="1460.0" cy="1239.0" r="5.55"/><circle cx="1462.4" cy="1241.5" r="5.55"/><circle cx="1466.5" cy="1237.6" r="5.55"/><circle cx="1469.5" cy="1226.2" r="5.55"/><circle cx="1471.6" cy="1223.9" r="5.55"/><circle cx="1474.5" cy="1239.8" r="5.55"/><circle cx="1479.7" cy="1227.0" r="5.55"/><circle cx="1482.5" cy="1240.0" r="5.55"/><circle cx="1484.6" cy="1249.6" r="5.55"/><circle cx="1489.4" cy="1249.0" r="5.55"/><circle cx="1492.6" cy="1235.2" r="5.55"/><circle cx="1495.6" cy="1237.9" r="5.55"/><circle cx="1497.4" cy="1249.9" r="5.55"/><circle cx="1500.7" cy="1248.7" r="5.55"/><circle cx="1505.8" cy="1250.2" r="5.55"/><circle cx="1508.0" cy="1239.4" r="5.55"/><circle cx="1511.2" cy="1243.8" r="5.55"/><circle cx="1515.1" cy="1241.2" r="5.55"/><circle cx="1517.1" cy="1248.1" r="5.55"/><circle cx="1520.8" cy="1237.5" r="5.55"/><circle cx="1525.3" cy="1236.2" r="5.55"/><circle cx="1527.0" cy="1257.7" r="5.55"/><circle cx="1530.0" cy="1261.3" r="5.55"/><circle cx="1534.3" cy="1272.8" r="5.55"/><circle cx="1536.4" cy="1284.9" r="5.55"/><circle cx="1540.8" cy="1297.3" r="5.55"/><circle cx="1544.9" cy="1286.7" r="5.55"/><circle cx="1546.8" cy="1286.1" r="5.55"/><circle cx="1551.4" cy="1283.5" r="5.55"/><circle cx="1553.0" cy="1279.7" r="5.55"/><circle cx="1555.9" cy="1289.5" r="5.55"/><circle cx="1560.4" cy="1291.6" r="5.55"/><circle cx="1562.9" cy="1290.7" r="5.55"/><circle cx="1567.3" cy="1297.2" r="5.55"/><circle cx="1569.1" cy="1308.5" r="5.55"/><circle cx="1573.3" cy="1308.5" r="5.55"/><circle cx="1577.5" cy="1296.3" r="5.55"/></g>
<g fill="#B680FC" stroke="#A87AEC" stroke-width="1"><rect x="1326.5" y="1331.3" width="11.2" height="11.2"/><rect x="1330.0" y="1329.8" width="11.2" height="11.2"/><rect x="1331.1" y="1321.0" width="11.2" height="11.2"/><rect x="1333.6" y="1338.1" width="11.2" height="11.2"/><rect x="1335.9" y="1330.3" width="11.2" height="11.2"/><rect x="1338.8" y="1326.8" width="11.2" height="11.2"/><rect x="1342.0" y="1319.2" width="11.2" height="11.2"/><rect x="1344.1" y="1334.8" width="11.2" height="11.2"/><rect x="1345.3" y="1328.3" width="11.2" height="11.2"/><rect x="1348.6" y="1334.9" width="11.2" height="11.2"/><rect x="1350.4" y="1328.3" width="11.2" height="11.2"/><rect x="1354.0" y="1336.1" width="11.2" height="11.2"/><rect x="1356.6" y="1325.2" width="11.2" height="11.2"/><rect x="1357.3" y="1336.6" width="11.2" height="11.2"/><rect x="1359.9" y="1319.9" width="11.2" height="11.2"/><rect x="1362.7" y="1323.8" width="11.2" height="11.2"/><rect x="1365.6" y="1325.6" width="11.2" height="11.2"/><rect x="1367.2" y="1342.1" width="11.2" height="11.2"/><rect x="1370.4" y="1317.1" width="11.2" height="11.2"/><rect x="1373.5" y="1330.9" width="11.2" height="11.2"/><rect x="1375.1" y="1335.5" width="11.2" height="11.2"/><rect x="1377.3" y="1336.5" width="11.2" height="11.2"/><rect x="1379.3" y="1328.9" width="11.2" height="11.2"/><rect x="1382.9" y="1330.0" width="11.2" height="11.2"/><rect x="1384.7" y="1332.9" width="11.2" height="11.2"/><rect x="1387.1" y="1333.4" width="11.2" height="11.2"/><rect x="1390.8" y="1337.6" width="11.2" height="11.2"/><rect x="1392.3" y="1333.1" width="11.2" height="11.2"/><rect x="1394.0" y="1342.1" width="11.2" height="11.2"/><rect x="1397.1" y="1336.9" width="11.2" height="11.2"/><rect x="1400.1" y="1340.9" width="11.2" height="11.2"/><rect x="1402.0" y="1341.8" width="11.2" height="11.2"/><rect x="1404.1" y="1329.6" width="11.2" height="11.2"/><rect x="1407.6" y="1341.4" width="11.2" height="11.2"/><rect x="1408.7" y="1327.6" width="11.2" height="11.2"/><rect x="1411.8" y="1341.3" width="11.2" height="11.2"/><rect x="1415.0" y="1334.5" width="11.2" height="11.2"/><rect x="1417.1" y="1339.6" width="11.2" height="11.2"/><rect x="1419.2" y="1330.3" width="11.2" height="11.2"/><rect x="1422.6" y="1338.2" width="11.2" height="11.2"/><rect x="1424.9" y="1327.8" width="11.2" height="11.2"/><rect x="1427.2" y="1331.4" width="11.2" height="11.2"/><rect x="1429.3" y="1328.2" width="11.2" height="11.2"/><rect x="1432.1" y="1325.3" width="11.2" height="11.2"/><rect x="1434.7" y="1325.1" width="11.2" height="11.2"/><rect x="1435.6" y="1327.6" width="11.2" height="11.2"/><rect x="1439.3" y="1335.7" width="11.2" height="11.2"/><rect x="1441.3" y="1318.0" width="11.2" height="11.2"/><rect x="1444.0" y="1323.8" width="11.2" height="11.2"/><rect x="1446.9" y="1324.7" width="11.2" height="11.2"/><rect x="1448.7" y="1329.9" width="11.2" height="11.2"/><rect x="1452.1" y="1328.3" width="11.2" height="11.2"/><rect x="1453.1" y="1322.9" width="11.2" height="11.2"/><rect x="1456.1" y="1334.9" width="11.2" height="11.2"/><rect x="1458.1" y="1329.2" width="11.2" height="11.2"/><rect x="1461.5" y="1326.3" width="11.2" height="11.2"/><rect x="1462.5" y="1333.8" width="11.2" height="11.2"/><rect x="1465.6" y="1337.9" width="11.2" height="11.2"/><rect x="1468.0" y="1329.7" width="11.2" height="11.2"/><rect x="1470.1" y="1324.9" width="11.2" height="11.2"/><rect x="1472.8" y="1336.7" width="11.2" height="11.2"/><rect x="1475.4" y="1338.5" width="11.2" height="11.2"/><rect x="1478.6" y="1336.2" width="11.2" height="11.2"/><rect x="1480.9" y="1331.7" width="11.2" height="11.2"/><rect x="1483.8" y="1342.1" width="11.2" height="11.2"/><rect x="1486.1" y="1328.9" width="11.2" height="11.2"/><rect x="1486.9" y="1333.1" width="11.2" height="11.2"/><rect x="1489.4" y="1339.0" width="11.2" height="11.2"/><rect x="1492.8" y="1338.0" width="11.2" height="11.2"/><rect x="1495.1" y="1340.0" width="11.2" height="11.2"/><rect x="1497.0" y="1342.1" width="11.2" height="11.2"/><rect x="1499.3" y="1331.3" width="11.2" height="11.2"/><rect x="1501.6" y="1336.9" width="11.2" height="11.2"/><rect x="1505.8" y="1342.1" width="11.2" height="11.2"/><rect x="1508.2" y="1328.9" width="11.2" height="11.2"/><rect x="1509.1" y="1323.8" width="11.2" height="11.2"/><rect x="1512.9" y="1329.0" width="11.2" height="11.2"/><rect x="1514.1" y="1336.6" width="11.2" height="11.2"/><rect x="1516.4" y="1333.8" width="11.2" height="11.2"/><rect x="1519.2" y="1328.4" width="11.2" height="11.2"/><rect x="1523.0" y="1332.8" width="11.2" height="11.2"/><rect x="1523.5" y="1335.8" width="11.2" height="11.2"/><rect x="1527.0" y="1322.3" width="11.2" height="11.2"/><rect x="1529.3" y="1329.0" width="11.2" height="11.2"/><rect x="1531.0" y="1334.4" width="11.2" height="11.2"/><rect x="1533.5" y="1308.4" width="11.2" height="11.2"/><rect x="1536.7" y="1337.1" width="11.2" height="11.2"/><rect x="1538.8" y="1327.1" width="11.2" height="11.2"/><rect x="1540.7" y="1334.7" width="11.2" height="11.2"/><rect x="1544.8" y="1333.9" width="11.2" height="11.2"/><rect x="1545.7" y="1332.2" width="11.2" height="11.2"/><rect x="1549.7" y="1325.3" width="11.2" height="11.2"/><rect x="1550.4" y="1332.2" width="11.2" height="11.2"/><rect x="1554.7" y="1337.5" width="11.2" height="11.2"/><rect x="1555.3" y="1316.7" width="11.2" height="11.2"/><rect x="1558.6" y="1330.0" width="11.2" height="11.2"/><rect x="1561.7" y="1320.2" width="11.2" height="11.2"/><rect x="1562.7" y="1334.2" width="11.2" height="11.2"/><rect x="1566.6" y="1333.2" width="11.2" height="11.2"/><rect x="1568.4" y="1325.3" width="11.2" height="11.2"/><rect x="1571.2" y="1331.9" width="11.2" height="11.2"/></g>
<g fill="#fdfdfa" stroke="#AC7CF0" stroke-width="2.4"><rect x="1326.3" y="1338.3" width="12.0" height="12.0"/><rect x="1329.9" y="1328.4" width="12.0" height="12.0"/><rect x="1336.0" y="1338.2" width="12.0" height="12.0"/><rect x="1339.5" y="1320.5" width="12.0" height="12.0"/><rect x="1343.2" y="1328.3" width="12.0" height="12.0"/><rect x="1348.6" y="1332.5" width="12.0" height="12.0"/><rect x="1352.9" y="1326.3" width="12.0" height="12.0"/><rect x="1357.2" y="1324.0" width="12.0" height="12.0"/><rect x="1361.7" y="1330.7" width="12.0" height="12.0"/><rect x="1367.2" y="1329.4" width="12.0" height="12.0"/><rect x="1371.7" y="1318.6" width="12.0" height="12.0"/><rect x="1376.0" y="1333.7" width="12.0" height="12.0"/><rect x="1380.3" y="1335.0" width="12.0" height="12.0"/><rect x="1383.9" y="1326.8" width="12.0" height="12.0"/><rect x="1388.6" y="1343.1" width="12.0" height="12.0"/><rect x="1392.5" y="1339.3" width="12.0" height="12.0"/><rect x="1397.2" y="1343.1" width="12.0" height="12.0"/><rect x="1401.4" y="1343.1" width="12.0" height="12.0"/><rect x="1407.0" y="1336.2" width="12.0" height="12.0"/><rect x="1411.6" y="1337.3" width="12.0" height="12.0"/><rect x="1415.4" y="1333.3" width="12.0" height="12.0"/><rect x="1419.2" y="1341.4" width="12.0" height="12.0"/><rect x="1424.5" y="1335.8" width="12.0" height="12.0"/><rect x="1429.6" y="1330.8" width="12.0" height="12.0"/><rect x="1432.9" y="1333.3" width="12.0" height="12.0"/><rect x="1437.5" y="1327.7" width="12.0" height="12.0"/><rect x="1443.6" y="1319.0" width="12.0" height="12.0"/><rect x="1447.1" y="1330.6" width="12.0" height="12.0"/><rect x="1452.4" y="1330.7" width="12.0" height="12.0"/><rect x="1456.3" y="1340.6" width="12.0" height="12.0"/><rect x="1461.1" y="1324.0" width="12.0" height="12.0"/><rect x="1464.3" y="1328.1" width="12.0" height="12.0"/><rect x="1469.8" y="1335.0" width="12.0" height="12.0"/><rect x="1474.9" y="1339.6" width="12.0" height="12.0"/><rect x="1478.9" y="1331.6" width="12.0" height="12.0"/><rect x="1482.8" y="1343.1" width="12.0" height="12.0"/><rect x="1488.0" y="1334.9" width="12.0" height="12.0"/><rect x="1491.9" y="1342.8" width="12.0" height="12.0"/><rect x="1495.6" y="1327.6" width="12.0" height="12.0"/><rect x="1501.5" y="1340.3" width="12.0" height="12.0"/><rect x="1504.7" y="1341.8" width="12.0" height="12.0"/><rect x="1510.6" y="1334.9" width="12.0" height="12.0"/><rect x="1514.7" y="1343.1" width="12.0" height="12.0"/><rect x="1519.1" y="1326.6" width="12.0" height="12.0"/><rect x="1523.9" y="1334.7" width="12.0" height="12.0"/><rect x="1528.4" y="1329.9" width="12.0" height="12.0"/><rect x="1532.4" y="1324.9" width="12.0" height="12.0"/><rect x="1536.7" y="1340.1" width="12.0" height="12.0"/><rect x="1540.4" y="1327.8" width="12.0" height="12.0"/><rect x="1545.6" y="1336.9" width="12.0" height="12.0"/><rect x="1549.6" y="1338.9" width="12.0" height="12.0"/><rect x="1554.2" y="1322.5" width="12.0" height="12.0"/><rect x="1558.6" y="1335.6" width="12.0" height="12.0"/><rect x="1564.2" y="1341.4" width="12.0" height="12.0"/><rect x="1568.4" y="1324.5" width="12.0" height="12.0"/></g>
<g fill="#fdfdfa" stroke="#AC7CF0" stroke-width="2.4"><circle cx="1332.1" cy="1322.8" r="6.10"/><circle cx="1344.3" cy="1329.9" r="6.10"/><circle cx="1362.6" cy="1315.6" r="6.10"/><circle cx="1374.9" cy="1308.5" r="6.10"/><circle cx="1385.1" cy="1301.4" r="6.10"/><circle cx="1393.2" cy="1294.2" r="6.10"/><circle cx="1399.3" cy="1303.1" r="6.10"/><circle cx="1405.4" cy="1288.9" r="6.10"/><circle cx="1411.5" cy="1292.5" r="6.10"/><circle cx="1417.6" cy="1281.8" r="6.10"/><circle cx="1423.8" cy="1265.7" r="6.10"/><circle cx="1429.9" cy="1267.5" r="6.10"/><circle cx="1436.0" cy="1271.1" r="6.10"/><circle cx="1442.1" cy="1262.2" r="6.10"/><circle cx="1448.2" cy="1260.4" r="6.10"/><circle cx="1454.3" cy="1258.6" r="6.10"/><circle cx="1457.2" cy="1271.1" r="6.10"/><circle cx="1462.4" cy="1281.8" r="6.10"/><circle cx="1467.3" cy="1304.9" r="6.10"/><circle cx="1472.6" cy="1285.3" r="6.10"/><circle cx="1476.7" cy="1308.5" r="6.10"/><circle cx="1482.8" cy="1310.3" r="6.10"/><circle cx="1488.9" cy="1304.9" r="6.10"/><circle cx="1494.2" cy="1306.7" r="6.10"/><circle cx="1499.1" cy="1347.7" r="6.10"/><circle cx="1505.2" cy="1315.6" r="6.10"/><circle cx="1511.3" cy="1321.0" r="6.10"/><circle cx="1515.4" cy="1324.5" r="6.10"/><circle cx="1521.5" cy="1333.4" r="6.10"/><circle cx="1526.8" cy="1324.5" r="6.10"/><circle cx="1531.7" cy="1296.0" r="6.10"/><circle cx="1535.8" cy="1322.8" r="6.10"/><circle cx="1540.7" cy="1324.5" r="6.10"/><circle cx="1546.0" cy="1328.1" r="6.10"/><circle cx="1552.1" cy="1331.7" r="6.10"/><circle cx="1558.2" cy="1329.9" r="6.10"/><circle cx="1564.3" cy="1331.7" r="6.10"/><circle cx="1569.2" cy="1340.6" r="6.10"/><circle cx="1574.5" cy="1338.8" r="6.10"/></g>
<path d="M1695.3 1099.3V1346.4H1938.3" fill="none" stroke="#111" stroke-width="1.5"/>
<line x1="1688.3" x2="1695.3" y1="1346.4" y2="1346.4" stroke="#111" stroke-width="1.5"/>
<text x="1687.3" y="1354.9" font-size="23.64" text-anchor="end" fill="#000">0.0</text>
<line x1="1688.3" x2="1695.3" y1="1311.2" y2="1311.2" stroke="#111" stroke-width="1.5"/>
<text x="1687.3" y="1319.7" font-size="23.64" text-anchor="end" fill="#000">0.1</text>
<line x1="1688.3" x2="1695.3" y1="1276.1" y2="1276.1" stroke="#111" stroke-width="1.5"/>
<text x="1687.3" y="1284.6" font-size="23.64" text-anchor="end" fill="#000">0.2</text>
<line x1="1688.3" x2="1695.3" y1="1240.9" y2="1240.9" stroke="#111" stroke-width="1.5"/>
<text x="1687.3" y="1249.4" font-size="23.64" text-anchor="end" fill="#000">0.3</text>
<line x1="1688.3" x2="1695.3" y1="1205.8" y2="1205.8" stroke="#111" stroke-width="1.5"/>
<text x="1687.3" y="1214.3" font-size="23.64" text-anchor="end" fill="#000">0.4</text>
<line x1="1688.3" x2="1695.3" y1="1170.6" y2="1170.6" stroke="#111" stroke-width="1.5"/>
<text x="1687.3" y="1179.1" font-size="23.64" text-anchor="end" fill="#000">0.5</text>
<line x1="1688.3" x2="1695.3" y1="1135.5" y2="1135.5" stroke="#111" stroke-width="1.5"/>
<text x="1687.3" y="1144.0" font-size="23.64" text-anchor="end" fill="#000">0.6</text>
<line x1="1688.3" x2="1695.3" y1="1100.3" y2="1100.3" stroke="#111" stroke-width="1.5"/>
<text x="1687.3" y="1108.8" font-size="23.64" text-anchor="end" fill="#000">0.7</text>
<line x1="1695.3" x2="1695.3" y1="1346.4" y2="1352.4" stroke="#111" stroke-width="1.5"/>
<text x="1695.3" y="1375.2" font-size="23.64" text-anchor="middle" fill="#000">0</text>
<line x1="1776.0" x2="1776.0" y1="1346.4" y2="1352.4" stroke="#111" stroke-width="1.5"/>
<text x="1776.0" y="1375.2" font-size="23.64" text-anchor="middle" fill="#000">200</text>
<line x1="1856.6" x2="1856.6" y1="1346.4" y2="1352.4" stroke="#111" stroke-width="1.5"/>
<text x="1856.6" y="1375.2" font-size="23.64" text-anchor="middle" fill="#000">400</text>
<line x1="1937.3" x2="1937.3" y1="1346.4" y2="1352.4" stroke="#111" stroke-width="1.5"/>
<text x="1937.3" y="1375.2" font-size="23.64" text-anchor="middle" fill="#000">600</text>
<text x="1672.5" y="1077.3" font-size="23.15" text-anchor="start" fill="#000" style="white-space:pre">H1 CA/09  HA-stem domain</text>
<text x="1814.3" y="1400.3" font-size="23.44" text-anchor="middle" fill="#000">Time(s)</text>
<text x="1641.6" y="1219.5" font-size="23.34" text-anchor="middle" fill="#000" transform="rotate(-90 1641.6 1219.5)">Binding (nm)</text>
<g fill="#fdfdfa" stroke="#AC7CF0" stroke-width="2.4"><circle cx="1695.9" cy="1343.8" r="6.10"/><circle cx="1698.9" cy="1343.5" r="6.10"/><circle cx="1702.1" cy="1340.6" r="6.10"/><circle cx="1707.1" cy="1342.9" r="6.10"/><circle cx="1709.7" cy="1343.3" r="6.10"/><circle cx="1714.1" cy="1344.3" r="6.10"/><circle cx="1716.1" cy="1342.5" r="6.10"/><circle cx="1719.7" cy="1341.1" r="6.10"/><circle cx="1724.9" cy="1343.4" r="6.10"/><circle cx="1728.0" cy="1343.1" r="6.10"/><circle cx="1731.2" cy="1345.4" r="6.10"/><circle cx="1735.5" cy="1345.7" r="6.10"/><circle cx="1738.3" cy="1342.8" r="6.10"/><circle cx="1742.7" cy="1345.1" r="6.10"/><circle cx="1745.5" cy="1346.4" r="6.10"/><circle cx="1750.2" cy="1344.5" r="6.10"/><circle cx="1752.5" cy="1345.3" r="6.10"/><circle cx="1756.8" cy="1345.9" r="6.10"/><circle cx="1761.1" cy="1345.5" r="6.10"/><circle cx="1764.2" cy="1343.7" r="6.10"/><circle cx="1768.7" cy="1346.1" r="6.10"/><circle cx="1772.5" cy="1345.9" r="6.10"/><circle cx="1774.9" cy="1344.8" r="6.10"/><circle cx="1779.3" cy="1346.4" r="6.10"/><circle cx="1781.6" cy="1342.4" r="6.10"/><circle cx="1785.1" cy="1345.0" r="6.10"/><circle cx="1790.5" cy="1343.8" r="6.10"/><circle cx="1793.6" cy="1341.8" r="6.10"/><circle cx="1796.5" cy="1343.4" r="6.10"/><circle cx="1799.8" cy="1343.1" r="6.10"/><circle cx="1804.6" cy="1342.1" r="6.10"/><circle cx="1807.9" cy="1340.6" r="6.10"/><circle cx="1812.0" cy="1340.5" r="6.10"/><circle cx="1815.8" cy="1344.9" r="6.10"/><circle cx="1819.4" cy="1345.0" r="6.10"/><circle cx="1823.0" cy="1343.2" r="6.10"/><circle cx="1825.1" cy="1344.5" r="6.10"/><circle cx="1828.6" cy="1344.0" r="6.10"/><circle cx="1832.3" cy="1342.8" r="6.10"/><circle cx="1836.1" cy="1346.4" r="6.10"/><circle cx="1839.9" cy="1345.3" r="6.10"/><circle cx="1844.2" cy="1344.7" r="6.10"/><circle cx="1846.9" cy="1345.6" r="6.10"/><circle cx="1850.6" cy="1346.4" r="6.10"/><circle cx="1854.6" cy="1345.6" r="6.10"/><circle cx="1859.6" cy="1346.4" r="6.10"/><circle cx="1861.3" cy="1345.1" r="6.10"/><circle cx="1866.1" cy="1345.3" r="6.10"/><circle cx="1869.5" cy="1346.4" r="6.10"/><circle cx="1874.0" cy="1344.1" r="6.10"/><circle cx="1877.4" cy="1342.6" r="6.10"/><circle cx="1879.5" cy="1345.9" r="6.10"/><circle cx="1884.8" cy="1346.4" r="6.10"/><circle cx="1888.6" cy="1342.6" r="6.10"/><circle cx="1891.7" cy="1343.6" r="6.10"/><circle cx="1894.6" cy="1342.1" r="6.10"/><circle cx="1898.5" cy="1341.0" r="6.10"/><circle cx="1902.7" cy="1343.2" r="6.10"/><circle cx="1906.8" cy="1342.9" r="6.10"/><circle cx="1909.3" cy="1344.0" r="6.10"/><circle cx="1912.6" cy="1340.6" r="6.10"/><circle cx="1917.3" cy="1345.3" r="6.10"/><circle cx="1921.1" cy="1343.0" r="6.10"/><circle cx="1924.6" cy="1345.4" r="6.10"/><circle cx="1927.9" cy="1345.3" r="6.10"/><circle cx="1930.6" cy="1343.1" r="6.10"/><circle cx="1935.2" cy="1346.4" r="6.10"/><circle cx="1939.3" cy="1345.9" r="6.10"/><circle cx="1937.3" cy="1342.9" r="6.10"/></g>
<g fill="#B680FC" stroke="#A87AEC" stroke-width="1"><rect x="1690.6" y="1337.2" width="11.2" height="11.2"/><rect x="1692.5" y="1337.3" width="11.2" height="11.2"/><rect x="1693.2" y="1338.5" width="11.2" height="11.2"/><rect x="1695.6" y="1340.8" width="11.2" height="11.2"/><rect x="1698.2" y="1337.3" width="11.2" height="11.2"/><rect x="1699.3" y="1339.5" width="11.2" height="11.2"/><rect x="1702.2" y="1336.7" width="11.2" height="11.2"/><rect x="1704.1" y="1335.8" width="11.2" height="11.2"/><rect x="1706.1" y="1338.5" width="11.2" height="11.2"/><rect x="1707.0" y="1337.9" width="11.2" height="11.2"/><rect x="1708.9" y="1337.1" width="11.2" height="11.2"/><rect x="1711.9" y="1336.0" width="11.2" height="11.2"/><rect x="1714.3" y="1336.9" width="11.2" height="11.2"/><rect x="1715.1" y="1334.2" width="11.2" height="11.2"/><rect x="1717.7" y="1337.2" width="11.2" height="11.2"/><rect x="1719.1" y="1338.1" width="11.2" height="11.2"/><rect x="1721.6" y="1336.6" width="11.2" height="11.2"/><rect x="1723.4" y="1337.2" width="11.2" height="11.2"/><rect x="1726.6" y="1337.6" width="11.2" height="11.2"/><rect x="1727.4" y="1338.2" width="11.2" height="11.2"/><rect x="1729.3" y="1338.4" width="11.2" height="11.2"/><rect x="1731.4" y="1339.1" width="11.2" height="11.2"/><rect x="1733.3" y="1336.4" width="11.2" height="11.2"/><rect x="1736.2" y="1338.1" width="11.2" height="11.2"/><rect x="1737.2" y="1335.4" width="11.2" height="11.2"/><rect x="1741.1" y="1338.1" width="11.2" height="11.2"/><rect x="1742.6" y="1336.9" width="11.2" height="11.2"/><rect x="1743.9" y="1336.8" width="11.2" height="11.2"/><rect x="1745.4" y="1338.8" width="11.2" height="11.2"/><rect x="1747.9" y="1336.5" width="11.2" height="11.2"/><rect x="1749.6" y="1338.8" width="11.2" height="11.2"/><rect x="1751.9" y="1338.3" width="11.2" height="11.2"/><rect x="1754.2" y="1339.0" width="11.2" height="11.2"/><rect x="1756.9" y="1339.7" width="11.2" height="11.2"/><rect x="1757.3" y="1340.0" width="11.2" height="11.2"/><rect x="1760.7" y="1339.1" width="11.2" height="11.2"/><rect x="1761.5" y="1340.2" width="11.2" height="11.2"/><rect x="1764.2" y="1339.2" width="11.2" height="11.2"/><rect x="1765.5" y="1340.3" width="11.2" height="11.2"/><rect x="1768.5" y="1338.0" width="11.2" height="11.2"/><rect x="1769.8" y="1339.1" width="11.2" height="11.2"/><rect x="1773.3" y="1340.7" width="11.2" height="11.2"/><rect x="1773.6" y="1337.2" width="11.2" height="11.2"/><rect x="1775.8" y="1339.2" width="11.2" height="11.2"/><rect x="1777.9" y="1337.5" width="11.2" height="11.2"/><rect x="1780.4" y="1337.7" width="11.2" height="11.2"/><rect x="1781.6" y="1339.3" width="11.2" height="11.2"/><rect x="1784.8" y="1337.5" width="11.2" height="11.2"/><rect x="1785.7" y="1336.1" width="11.2" height="11.2"/><rect x="1787.5" y="1337.7" width="11.2" height="11.2"/><rect x="1790.6" y="1335.8" width="11.2" height="11.2"/><rect x="1792.6" y="1336.9" width="11.2" height="11.2"/><rect x="1794.6" y="1338.6" width="11.2" height="11.2"/><rect x="1797.2" y="1338.2" width="11.2" height="11.2"/><rect x="1799.1" y="1336.0" width="11.2" height="11.2"/><rect x="1800.0" y="1337.8" width="11.2" height="11.2"/><rect x="1802.8" y="1336.2" width="11.2" height="11.2"/><rect x="1803.7" y="1336.9" width="11.2" height="11.2"/><rect x="1805.9" y="1335.7" width="11.2" height="11.2"/><rect x="1809.6" y="1334.4" width="11.2" height="11.2"/><rect x="1811.1" y="1333.2" width="11.2" height="11.2"/><rect x="1812.7" y="1336.4" width="11.2" height="11.2"/><rect x="1815.6" y="1340.8" width="11.2" height="11.2"/><rect x="1816.2" y="1336.7" width="11.2" height="11.2"/><rect x="1818.2" y="1335.4" width="11.2" height="11.2"/><rect x="1821.7" y="1337.2" width="11.2" height="11.2"/><rect x="1822.6" y="1338.5" width="11.2" height="11.2"/><rect x="1824.6" y="1335.7" width="11.2" height="11.2"/><rect x="1827.5" y="1335.7" width="11.2" height="11.2"/><rect x="1828.8" y="1337.8" width="11.2" height="11.2"/><rect x="1831.3" y="1337.4" width="11.2" height="11.2"/><rect x="1833.8" y="1337.4" width="11.2" height="11.2"/><rect x="1834.2" y="1340.2" width="11.2" height="11.2"/><rect x="1836.0" y="1338.8" width="11.2" height="11.2"/><rect x="1838.3" y="1340.1" width="11.2" height="11.2"/><rect x="1841.7" y="1339.7" width="11.2" height="11.2"/><rect x="1843.7" y="1338.0" width="11.2" height="11.2"/><rect x="1844.8" y="1339.5" width="11.2" height="11.2"/><rect x="1847.8" y="1339.0" width="11.2" height="11.2"/><rect x="1848.6" y="1339.2" width="11.2" height="11.2"/><rect x="1851.8" y="1340.8" width="11.2" height="11.2"/><rect x="1853.7" y="1338.6" width="11.2" height="11.2"/><rect x="1855.1" y="1338.6" width="11.2" height="11.2"/><rect x="1857.3" y="1338.7" width="11.2" height="11.2"/><rect x="1859.9" y="1338.4" width="11.2" height="11.2"/><rect x="1861.9" y="1339.4" width="11.2" height="11.2"/><rect x="1862.5" y="1339.5" width="11.2" height="11.2"/><rect x="1864.9" y="1340.0" width="11.2" height="11.2"/><rect x="1867.5" y="1336.8" width="11.2" height="11.2"/><rect x="1869.1" y="1337.7" width="11.2" height="11.2"/><rect x="1871.8" y="1336.9" width="11.2" height="11.2"/><rect x="1873.6" y="1338.3" width="11.2" height="11.2"/><rect x="1874.6" y="1335.8" width="11.2" height="11.2"/><rect x="1877.1" y="1338.6" width="11.2" height="11.2"/><rect x="1878.7" y="1340.8" width="11.2" height="11.2"/><rect x="1880.7" y="1335.7" width="11.2" height="11.2"/><rect x="1883.0" y="1338.7" width="11.2" height="11.2"/><rect x="1884.8" y="1339.3" width="11.2" height="11.2"/><rect x="1886.9" y="1336.4" width="11.2" height="11.2"/><rect x="1889.2" y="1336.8" width="11.2" height="11.2"/><rect x="1891.5" y="1335.1" width="11.2" height="11.2"/><rect x="1893.8" y="1337.4" width="11.2" height="11.2"/><rect x="1894.7" y="1336.9" width="11.2" height="11.2"/><rect x="1896.7" y="1336.6" width="11.2" height="11.2"/><rect x="1900.4" y="1336.3" width="11.2" height="11.2"/><rect x="1901.7" y="1339.2" width="11.2" height="11.2"/><rect x="1904.4" y="1335.8" width="11.2" height="11.2"/><rect x="1905.0" y="1334.4" width="11.2" height="11.2"/><rect x="1907.7" y="1335.0" width="11.2" height="11.2"/><rect x="1908.9" y="1339.1" width="11.2" height="11.2"/><rect x="1911.6" y="1337.1" width="11.2" height="11.2"/><rect x="1912.6" y="1338.2" width="11.2" height="11.2"/><rect x="1916.0" y="1336.2" width="11.2" height="11.2"/><rect x="1918.0" y="1337.4" width="11.2" height="11.2"/><rect x="1918.6" y="1335.1" width="11.2" height="11.2"/><rect x="1920.9" y="1335.6" width="11.2" height="11.2"/><rect x="1923.7" y="1338.6" width="11.2" height="11.2"/><rect x="1925.2" y="1336.8" width="11.2" height="11.2"/><rect x="1926.8" y="1338.0" width="11.2" height="11.2"/><rect x="1930.1" y="1338.0" width="11.2" height="11.2"/><rect x="1932.3" y="1338.8" width="11.2" height="11.2"/></g>
<g fill="#B680FC" stroke="#A87AEC" stroke-width="1"><circle cx="1695.3" cy="1335.0" r="5.55"/><circle cx="1697.4" cy="1334.0" r="5.55"/><circle cx="1700.9" cy="1329.7" r="5.55"/><circle cx="1702.6" cy="1330.0" r="5.55"/><circle cx="1704.4" cy="1331.4" r="5.55"/><circle cx="1706.7" cy="1329.6" r="5.55"/><circle cx="1710.7" cy="1328.3" r="5.55"/><circle cx="1712.9" cy="1327.0" r="5.55"/><circle cx="1714.8" cy="1324.1" r="5.55"/><circle cx="1717.1" cy="1328.3" r="5.55"/><circle cx="1719.8" cy="1322.8" r="5.55"/><circle cx="1722.2" cy="1330.0" r="5.55"/><circle cx="1724.7" cy="1324.6" r="5.55"/><circle cx="1726.5" cy="1328.9" r="5.55"/><circle cx="1729.2" cy="1326.9" r="5.55"/><circle cx="1732.6" cy="1323.6" r="5.55"/><circle cx="1734.1" cy="1325.8" r="5.55"/><circle cx="1736.9" cy="1324.0" r="5.55"/><circle cx="1737.9" cy="1325.3" r="5.55"/><circle cx="1740.5" cy="1317.4" r="5.55"/><circle cx="1743.9" cy="1319.4" r="5.55"/><circle cx="1745.2" cy="1317.4" r="5.55"/><circle cx="1748.1" cy="1310.1" r="5.55"/><circle cx="1750.5" cy="1310.5" r="5.55"/><circle cx="1753.7" cy="1312.5" r="5.55"/><circle cx="1756.2" cy="1321.6" r="5.55"/><circle cx="1758.6" cy="1320.0" r="5.55"/><circle cx="1760.0" cy="1323.0" r="5.55"/><circle cx="1762.8" cy="1318.6" r="5.55"/><circle cx="1765.5" cy="1313.4" r="5.55"/><circle cx="1767.2" cy="1312.0" r="5.55"/><circle cx="1769.4" cy="1309.1" r="5.55"/><circle cx="1773.7" cy="1304.3" r="5.55"/><circle cx="1774.8" cy="1302.2" r="5.55"/><circle cx="1777.5" cy="1302.5" r="5.55"/><circle cx="1779.5" cy="1302.8" r="5.55"/><circle cx="1781.9" cy="1299.8" r="5.55"/><circle cx="1785.7" cy="1303.4" r="5.55"/><circle cx="1787.8" cy="1298.6" r="5.55"/><circle cx="1789.0" cy="1299.0" r="5.55"/><circle cx="1792.4" cy="1307.4" r="5.55"/><circle cx="1794.1" cy="1315.7" r="5.55"/><circle cx="1796.5" cy="1314.6" r="5.55"/><circle cx="1798.9" cy="1315.4" r="5.55"/><circle cx="1801.9" cy="1313.9" r="5.55"/><circle cx="1805.1" cy="1311.4" r="5.55"/><circle cx="1806.7" cy="1308.5" r="5.55"/><circle cx="1809.4" cy="1311.2" r="5.55"/><circle cx="1811.1" cy="1305.4" r="5.55"/><circle cx="1814.8" cy="1307.4" r="5.55"/><circle cx="1816.1" cy="1306.2" r="5.55"/><circle cx="1819.2" cy="1305.7" r="5.55"/><circle cx="1820.8" cy="1303.8" r="5.55"/><circle cx="1824.3" cy="1307.9" r="5.55"/><circle cx="1826.8" cy="1305.8" r="5.55"/><circle cx="1828.1" cy="1302.9" r="5.55"/><circle cx="1831.5" cy="1303.0" r="5.55"/><circle cx="1833.4" cy="1304.8" r="5.55"/><circle cx="1836.4" cy="1303.6" r="5.55"/><circle cx="1838.8" cy="1308.3" r="5.55"/><circle cx="1840.5" cy="1312.6" r="5.55"/><circle cx="1843.7" cy="1314.9" r="5.55"/><circle cx="1846.1" cy="1318.0" r="5.55"/><circle cx="1848.2" cy="1315.5" r="5.55"/><circle cx="1849.3" cy="1317.1" r="5.55"/><circle cx="1853.3" cy="1314.9" r="5.55"/><circle cx="1854.2" cy="1313.6" r="5.55"/><circle cx="1858.4" cy="1314.5" r="5.55"/><circle cx="1859.0" cy="1317.5" r="5.55"/><circle cx="1861.9" cy="1314.3" r="5.55"/><circle cx="1864.2" cy="1317.5" r="5.55"/><circle cx="1867.0" cy="1321.4" r="5.55"/><circle cx="1870.2" cy="1320.3" r="5.55"/><circle cx="1871.4" cy="1321.2" r="5.55"/><circle cx="1874.5" cy="1322.1" r="5.55"/><circle cx="1877.4" cy="1320.9" r="5.55"/><circle cx="1879.3" cy="1320.6" r="5.55"/><circle cx="1882.2" cy="1324.0" r="5.55"/><circle cx="1883.2" cy="1327.7" r="5.55"/><circle cx="1886.9" cy="1330.0" r="5.55"/><circle cx="1889.1" cy="1328.8" r="5.55"/><circle cx="1892.1" cy="1324.2" r="5.55"/><circle cx="1893.4" cy="1327.0" r="5.55"/><circle cx="1895.3" cy="1327.3" r="5.55"/><circle cx="1898.9" cy="1325.7" r="5.55"/><circle cx="1900.9" cy="1325.9" r="5.55"/><circle cx="1903.0" cy="1324.9" r="5.55"/><circle cx="1906.3" cy="1328.2" r="5.55"/><circle cx="1908.7" cy="1327.1" r="5.55"/><circle cx="1910.2" cy="1330.0" r="5.55"/><circle cx="1913.6" cy="1329.0" r="5.55"/><circle cx="1916.4" cy="1329.0" r="5.55"/><circle cx="1917.3" cy="1331.7" r="5.55"/><circle cx="1921.1" cy="1329.8" r="5.55"/><circle cx="1922.5" cy="1332.2" r="5.55"/><circle cx="1925.5" cy="1328.7" r="5.55"/><circle cx="1927.0" cy="1330.7" r="5.55"/><circle cx="1930.8" cy="1330.4" r="5.55"/><circle cx="1931.7" cy="1333.3" r="5.55"/><circle cx="1935.4" cy="1337.2" r="5.55"/><circle cx="1937.9" cy="1331.4" r="5.55"/><circle cx="1892.9" cy="1312.3" r="5.55"/><circle cx="1860.7" cy="1330.6" r="5.55"/></g>
<g fill="#fdfdfa" stroke="#AC7CF0" stroke-width="2.4"><rect x="1689.3" y="1328.1" width="12.0" height="12.0"/><rect x="1705.4" y="1340.4" width="12.0" height="12.0"/><rect x="1719.5" y="1336.9" width="12.0" height="12.0"/><rect x="1747.8" y="1338.6" width="12.0" height="12.0"/><rect x="1761.9" y="1333.4" width="12.0" height="12.0"/><rect x="1776.0" y="1336.9" width="12.0" height="12.0"/><rect x="1788.1" y="1329.9" width="12.0" height="12.0"/><rect x="1802.2" y="1331.6" width="12.0" height="12.0"/><rect x="1816.3" y="1333.4" width="12.0" height="12.0"/><rect x="1830.5" y="1329.9" width="12.0" height="12.0"/><rect x="1844.6" y="1333.4" width="12.0" height="12.0"/><rect x="1858.7" y="1340.4" width="12.0" height="12.0"/><rect x="1872.8" y="1329.9" width="12.0" height="12.0"/><rect x="1886.9" y="1336.9" width="12.0" height="12.0"/><rect x="1901.0" y="1333.4" width="12.0" height="12.0"/><rect x="1915.2" y="1338.6" width="12.0" height="12.0"/></g>
<path d="M971.3 1485.8V1737.1H1218.6" fill="none" stroke="#111" stroke-width="1.5"/>
<line x1="964.3" x2="971.3" y1="1737.1" y2="1737.1" stroke="#111" stroke-width="1.5"/>
<text x="963.3" y="1745.6" font-size="24.0" text-anchor="end" fill="#000">0.0</text>
<line x1="964.3" x2="971.3" y1="1695.4" y2="1695.4" stroke="#111" stroke-width="1.5"/>
<text x="963.3" y="1703.9" font-size="24.0" text-anchor="end" fill="#000">0.1</text>
<line x1="964.3" x2="971.3" y1="1653.7" y2="1653.7" stroke="#111" stroke-width="1.5"/>
<text x="963.3" y="1662.2" font-size="24.0" text-anchor="end" fill="#000">0.2</text>
<line x1="964.3" x2="971.3" y1="1611.9" y2="1611.9" stroke="#111" stroke-width="1.5"/>
<text x="963.3" y="1620.4" font-size="24.0" text-anchor="end" fill="#000">0.3</text>
<line x1="964.3" x2="971.3" y1="1570.2" y2="1570.2" stroke="#111" stroke-width="1.5"/>
<text x="963.3" y="1578.7" font-size="24.0" text-anchor="end" fill="#000">0.4</text>
<line x1="964.3" x2="971.3" y1="1528.5" y2="1528.5" stroke="#111" stroke-width="1.5"/>
<text x="963.3" y="1537.0" font-size="24.0" text-anchor="end" fill="#000">0.5</text>
<line x1="964.3" x2="971.3" y1="1486.8" y2="1486.8" stroke="#111" stroke-width="1.5"/>
<text x="963.3" y="1495.3" font-size="24.0" text-anchor="end" fill="#000">0.6</text>
<line x1="971.3" x2="971.3" y1="1737.1" y2="1743.1" stroke="#111" stroke-width="1.5"/>
<text x="971.3" y="1766.6" font-size="24.0" text-anchor="middle" fill="#000">0</text>
<line x1="1053.4" x2="1053.4" y1="1737.1" y2="1743.1" stroke="#111" stroke-width="1.5"/>
<text x="1053.4" y="1766.6" font-size="24.0" text-anchor="middle" fill="#000">200</text>
<line x1="1135.5" x2="1135.5" y1="1737.1" y2="1743.1" stroke="#111" stroke-width="1.5"/>
<text x="1135.5" y="1766.6" font-size="24.0" text-anchor="middle" fill="#000">400</text>
<line x1="1217.6" x2="1217.6" y1="1737.1" y2="1743.1" stroke="#111" stroke-width="1.5"/>
<text x="1217.6" y="1766.6" font-size="24.0" text-anchor="middle" fill="#000">600</text>
<text x="964.8" y="1463.4" font-size="23.5" text-anchor="start" fill="#000" style="white-space:pre">H1 CA/09  HA-full length</text>
<text x="1092.8" y="1792.9" font-size="23.8" text-anchor="middle" fill="#000">Time(s)</text>
<text x="916.2" y="1608.2" font-size="23.7" text-anchor="middle" fill="#000" transform="rotate(-90 916.2 1608.2)">Binding (nm)</text>
<path d="M987.7 1724.6L989.8 1722.2L991.8 1719.7L993.9 1717.3L995.9 1714.9L998.0 1712.4L1000.0 1710.0L1002.1 1707.6L1004.1 1705.2L1006.2 1703.0L1008.2 1700.7L1010.3 1698.5L1012.3 1696.4L1014.4 1694.3L1016.5 1692.3L1018.5 1690.2L1020.6 1688.2L1022.6 1686.2L1024.7 1684.3L1026.7 1682.3L1028.8 1680.4L1030.8 1678.5L1032.9 1676.6L1034.9 1674.7L1037.0 1672.9L1039.0 1671.0L1041.1 1669.3L1043.1 1667.5L1045.2 1665.8L1047.2 1664.0L1049.3 1662.3L1051.3 1660.7L1053.4 1659.1L1055.5 1657.5L1057.5 1655.8L1059.6 1654.3L1061.6 1652.8L1063.7 1651.3L1065.7 1649.8L1067.8 1648.3L1069.8 1646.9L1071.9 1645.6L1073.9 1644.2L1076.0 1642.9L1078.0 1641.5L1080.1 1640.1L1082.1 1638.8L1084.2 1637.4L1086.2 1636.1L1088.3 1634.7L1090.3 1633.3L1092.4 1632.0L1094.4 1635.7L1096.5 1639.5L1098.6 1643.0L1100.6 1646.5L1102.7 1650.0L1104.7 1653.4L1106.8 1656.8L1108.8 1660.2L1110.9 1663.1L1112.9 1666.0L1115.0 1668.4L1117.0 1670.9L1119.1 1673.1L1121.1 1675.1L1123.2 1677.0L1125.2 1678.7L1127.3 1680.4L1129.3 1681.9L1131.4 1683.3L1133.4 1684.7L1135.5 1686.0L1137.6 1687.2L1139.6 1688.3L1141.7 1689.4L1143.7 1690.4L1145.8 1691.2L1147.8 1692.0L1149.9 1692.8L1151.9 1693.4L1154.0 1694.1L1156.0 1694.6L1158.1 1695.1L1160.1 1695.6L1162.2 1696.0L1164.2 1696.4L1166.3 1696.8L1168.3 1697.2L1170.4 1697.5L1172.4 1697.8L1174.5 1698.0L1176.5 1698.3L1178.6 1698.5L1180.7 1698.7L1182.7 1698.9L1184.8 1699.1L1186.8 1699.3L1188.9 1699.4L1190.9 1699.5L1193.0 1699.7L1195.0 1699.8L1197.1 1699.9L1199.1 1699.9L1201.2 1700.0L1203.2 1700.0L1205.3 1700.1L1207.3 1700.1L1209.4 1700.2L1211.4 1700.2L1213.5 1700.3L1215.5 1700.3L1217.6 1700.4" fill="none" stroke="#0EBE79" stroke-width="3" stroke-linejoin="round"/>
<path d="M987.7 1707.9L989.8 1704.7L991.8 1701.5L993.9 1698.3L995.9 1695.1L998.0 1691.9L1000.0 1688.6L1002.1 1685.4L1004.1 1682.2L1006.2 1679.0L1008.2 1675.8L1010.3 1672.6L1012.3 1669.4L1014.4 1666.2L1016.5 1663.0L1018.5 1659.8L1020.6 1656.6L1022.6 1653.4L1024.7 1650.2L1026.7 1647.0L1028.8 1643.8L1030.8 1640.6L1032.9 1637.4L1034.9 1634.2L1037.0 1631.1L1039.0 1627.9L1041.1 1624.7L1043.1 1621.6L1045.2 1618.4L1047.2 1615.2L1049.3 1612.1L1051.3 1608.9L1053.4 1605.8L1055.5 1602.6L1057.5 1599.5L1059.6 1596.3L1061.6 1593.2L1063.7 1590.0L1065.7 1586.9L1067.8 1583.8L1069.8 1580.7L1071.9 1577.5L1073.9 1574.4L1076.0 1571.3L1078.0 1568.1L1080.1 1565.0L1082.1 1561.9L1084.2 1558.8L1086.2 1555.6L1088.3 1552.5L1090.3 1549.4L1092.4 1546.2L1094.4 1545.0L1096.5 1546.7L1098.6 1548.4L1100.6 1550.1L1102.7 1551.8L1104.7 1553.5L1106.8 1555.2L1108.8 1556.9L1110.9 1558.6L1112.9 1560.4L1115.0 1562.1L1117.0 1563.9L1119.1 1565.7L1121.1 1567.6L1123.2 1569.4L1125.2 1571.3L1127.3 1573.2L1129.3 1575.0L1131.4 1576.7L1133.4 1578.5L1135.5 1580.1L1137.6 1581.8L1139.6 1583.4L1141.7 1585.0L1143.7 1586.5L1145.8 1588.0L1147.8 1589.4L1149.9 1590.8L1151.9 1592.3L1154.0 1593.6L1156.0 1595.0L1158.1 1596.4L1160.1 1597.7L1162.2 1599.0L1164.2 1600.3L1166.3 1601.5L1168.3 1602.8L1170.4 1603.9L1172.4 1605.1L1174.5 1606.2L1176.5 1607.3L1178.6 1608.3L1180.7 1609.3L1182.7 1610.2L1184.8 1611.1L1186.8 1611.9L1188.9 1612.8L1190.9 1613.6L1193.0 1614.4L1195.0 1615.1L1197.1 1615.9L1199.1 1616.6L1201.2 1617.3L1203.2 1618.0L1205.3 1618.6L1207.3 1619.3L1209.4 1619.9L1211.4 1620.5L1213.5 1621.1L1215.5 1621.8L1217.6 1622.4" fill="none" stroke="#0EBE79" stroke-width="3" stroke-linejoin="round"/>
<g fill="#0EBE79" stroke="#10AE72" stroke-width="1"><circle cx="975.4" cy="1697.5" r="5.55"/><circle cx="981.6" cy="1689.1" r="5.55"/><circle cx="985.7" cy="1699.6" r="5.55"/><circle cx="991.8" cy="1668.3" r="5.55"/><circle cx="995.9" cy="1687.0" r="5.55"/><circle cx="1002.1" cy="1674.5" r="5.55"/><circle cx="1006.2" cy="1678.7" r="5.55"/><circle cx="1010.3" cy="1662.0" r="5.55"/><circle cx="1014.4" cy="1678.7" r="5.55"/><circle cx="1018.5" cy="1643.2" r="5.55"/><circle cx="1022.6" cy="1637.0" r="5.55"/><circle cx="1024.7" cy="1634.9" r="5.55"/><circle cx="1028.8" cy="1616.1" r="5.55"/><circle cx="1039.0" cy="1639.1" r="5.55"/><circle cx="1043.1" cy="1634.9" r="5.55"/><circle cx="1047.2" cy="1624.5" r="5.55"/><circle cx="1051.3" cy="1597.3" r="5.55"/><circle cx="1057.5" cy="1603.6" r="5.55"/><circle cx="1063.7" cy="1574.4" r="5.55"/><circle cx="1067.8" cy="1568.1" r="5.55"/><circle cx="1071.9" cy="1599.4" r="5.55"/><circle cx="1076.0" cy="1584.8" r="5.55"/><circle cx="1081.3" cy="1545.2" r="5.55"/><circle cx="1086.2" cy="1538.9" r="5.55"/><circle cx="1091.2" cy="1543.1" r="5.55"/><circle cx="1094.4" cy="1566.1" r="5.55"/><circle cx="1100.6" cy="1574.4" r="5.55"/><circle cx="1104.7" cy="1555.6" r="5.55"/><circle cx="1110.9" cy="1530.6" r="5.55"/><circle cx="1115.0" cy="1589.0" r="5.55"/><circle cx="1119.1" cy="1561.9" r="5.55"/><circle cx="1125.2" cy="1561.9" r="5.55"/><circle cx="1129.3" cy="1568.1" r="5.55"/><circle cx="1133.4" cy="1574.4" r="5.55"/><circle cx="1137.6" cy="1586.9" r="5.55"/><circle cx="1142.9" cy="1570.2" r="5.55"/><circle cx="1147.8" cy="1614.0" r="5.55"/><circle cx="1151.9" cy="1597.3" r="5.55"/><circle cx="1158.1" cy="1564.0" r="5.55"/><circle cx="1162.2" cy="1589.0" r="5.55"/><circle cx="1166.3" cy="1603.6" r="5.55"/><circle cx="1171.6" cy="1559.8" r="5.55"/><circle cx="1175.7" cy="1622.4" r="5.55"/><circle cx="1180.7" cy="1637.0" r="5.55"/><circle cx="1184.8" cy="1611.9" r="5.55"/><circle cx="1189.7" cy="1622.4" r="5.55"/><circle cx="1195.0" cy="1614.0" r="5.55"/><circle cx="1199.5" cy="1650.3" r="5.55"/><circle cx="1204.5" cy="1626.6" r="5.55"/><circle cx="1208.6" cy="1628.6" r="5.55"/><circle cx="1213.5" cy="1614.9" r="5.55"/><circle cx="978.7" cy="1695.4" r="5.55"/><circle cx="1000.0" cy="1676.6" r="5.55"/><circle cx="1065.7" cy="1576.5" r="5.55"/><circle cx="1083.4" cy="1541.0" r="5.55"/><circle cx="1123.2" cy="1564.0" r="5.55"/><circle cx="1193.0" cy="1620.3" r="5.55"/></g>
<g fill="#fdfdfa" stroke="#0FB274" stroke-width="2.4"><rect x="965.9" y="1708.0" width="12.0" height="12.0"/><rect x="971.8" y="1721.1" width="12.0" height="12.0"/><rect x="978.5" y="1712.4" width="12.0" height="12.0"/><rect x="985.9" y="1713.8" width="12.0" height="12.0"/><rect x="992.6" y="1709.6" width="12.0" height="12.0"/><rect x="1000.9" y="1714.3" width="12.0" height="12.0"/><rect x="1007.7" y="1727.4" width="12.0" height="12.0"/><rect x="1015.0" y="1717.7" width="12.0" height="12.0"/><rect x="1021.8" y="1726.5" width="12.0" height="12.0"/><rect x="1027.8" y="1730.4" width="12.0" height="12.0"/><rect x="1034.3" y="1722.8" width="12.0" height="12.0"/><rect x="1042.9" y="1731.1" width="12.0" height="12.0"/><rect x="1049.6" y="1720.9" width="12.0" height="12.0"/><rect x="1056.9" y="1717.6" width="12.0" height="12.0"/><rect x="1063.5" y="1731.1" width="12.0" height="12.0"/><rect x="1069.5" y="1723.8" width="12.0" height="12.0"/><rect x="1076.2" y="1724.2" width="12.0" height="12.0"/><rect x="1083.6" y="1716.1" width="12.0" height="12.0"/><rect x="1091.6" y="1724.1" width="12.0" height="12.0"/><rect x="1097.2" y="1710.5" width="12.0" height="12.0"/><rect x="1105.2" y="1725.7" width="12.0" height="12.0"/><rect x="1112.6" y="1730.3" width="12.0" height="12.0"/><rect x="1119.4" y="1727.4" width="12.0" height="12.0"/><rect x="1126.6" y="1725.3" width="12.0" height="12.0"/><rect x="1132.0" y="1721.4" width="12.0" height="12.0"/><rect x="1138.8" y="1725.1" width="12.0" height="12.0"/><rect x="1145.9" y="1729.5" width="12.0" height="12.0"/><rect x="1153.1" y="1729.6" width="12.0" height="12.0"/><rect x="1161.6" y="1720.0" width="12.0" height="12.0"/><rect x="1167.9" y="1714.3" width="12.0" height="12.0"/><rect x="1175.1" y="1723.2" width="12.0" height="12.0"/><rect x="1182.4" y="1721.3" width="12.0" height="12.0"/><rect x="1189.3" y="1720.5" width="12.0" height="12.0"/><rect x="1195.6" y="1731.1" width="12.0" height="12.0"/><rect x="1202.0" y="1715.9" width="12.0" height="12.0"/><rect x="1209.3" y="1714.9" width="12.0" height="12.0"/><rect x="1211.6" y="1726.1" width="12.0" height="12.0"/></g>
<g fill="#0EBE79" stroke="#10AE72" stroke-width="1"><rect x="965.7" y="1724.5" width="11.2" height="11.2"/><rect x="971.2" y="1710.6" width="11.2" height="11.2"/><rect x="976.1" y="1712.1" width="11.2" height="11.2"/><rect x="981.2" y="1708.2" width="11.2" height="11.2"/><rect x="987.2" y="1726.3" width="11.2" height="11.2"/><rect x="992.8" y="1707.1" width="11.2" height="11.2"/><rect x="996.9" y="1726.5" width="11.2" height="11.2"/><rect x="1003.2" y="1710.2" width="11.2" height="11.2"/><rect x="1007.6" y="1711.1" width="11.2" height="11.2"/><rect x="1013.2" y="1717.5" width="11.2" height="11.2"/><rect x="1019.5" y="1710.0" width="11.2" height="11.2"/><rect x="1024.9" y="1719.0" width="11.2" height="11.2"/><rect x="1030.1" y="1714.5" width="11.2" height="11.2"/><rect x="1035.9" y="1719.8" width="11.2" height="11.2"/><rect x="1039.9" y="1714.9" width="11.2" height="11.2"/><rect x="1045.2" y="1719.1" width="11.2" height="11.2"/><rect x="1052.0" y="1731.5" width="11.2" height="11.2"/><rect x="1056.0" y="1723.8" width="11.2" height="11.2"/><rect x="1062.0" y="1704.5" width="11.2" height="11.2"/><rect x="1066.2" y="1719.7" width="11.2" height="11.2"/><rect x="1073.2" y="1713.9" width="11.2" height="11.2"/><rect x="1077.1" y="1705.2" width="11.2" height="11.2"/><rect x="1082.8" y="1705.2" width="11.2" height="11.2"/><rect x="1088.5" y="1711.4" width="11.2" height="11.2"/><rect x="1093.5" y="1716.6" width="11.2" height="11.2"/><rect x="1098.6" y="1716.8" width="11.2" height="11.2"/><rect x="1104.4" y="1720.6" width="11.2" height="11.2"/><rect x="1110.3" y="1723.5" width="11.2" height="11.2"/><rect x="1116.0" y="1712.4" width="11.2" height="11.2"/><rect x="1119.6" y="1731.5" width="11.2" height="11.2"/><rect x="1124.8" y="1718.1" width="11.2" height="11.2"/><rect x="1132.0" y="1715.4" width="11.2" height="11.2"/><rect x="1136.1" y="1715.0" width="11.2" height="11.2"/><rect x="1142.3" y="1719.9" width="11.2" height="11.2"/><rect x="1146.9" y="1728.7" width="11.2" height="11.2"/><rect x="1153.4" y="1711.7" width="11.2" height="11.2"/><rect x="1157.1" y="1714.3" width="11.2" height="11.2"/><rect x="1162.3" y="1709.5" width="11.2" height="11.2"/><rect x="1167.8" y="1704.5" width="11.2" height="11.2"/><rect x="1174.4" y="1719.1" width="11.2" height="11.2"/><rect x="1178.6" y="1708.5" width="11.2" height="11.2"/><rect x="1183.7" y="1712.9" width="11.2" height="11.2"/><rect x="1190.7" y="1699.1" width="11.2" height="11.2"/><rect x="1196.1" y="1719.5" width="11.2" height="11.2"/><rect x="1200.9" y="1719.9" width="11.2" height="11.2"/><rect x="1205.1" y="1710.1" width="11.2" height="11.2"/><rect x="1108.6" y="1692.7" width="11.2" height="11.2"/><rect x="1117.6" y="1694.8" width="11.2" height="11.2"/><rect x="1064.2" y="1704.4" width="11.2" height="11.2"/><rect x="1088.8" y="1702.3" width="11.2" height="11.2"/><rect x="1152.5" y="1696.0" width="11.2" height="11.2"/><rect x="1158.6" y="1729.4" width="11.2" height="11.2"/><rect x="1179.2" y="1731.5" width="11.2" height="11.2"/></g>
<g fill="#fdfdfa" stroke="#0FB274" stroke-width="2.4"><circle cx="979.5" cy="1724.6" r="6.10"/><circle cx="987.7" cy="1730.8" r="6.10"/><circle cx="993.9" cy="1716.2" r="6.10"/><circle cx="1000.0" cy="1710.0" r="6.10"/><circle cx="1004.1" cy="1712.1" r="6.10"/><circle cx="1008.2" cy="1691.2" r="6.10"/><circle cx="1012.3" cy="1695.4" r="6.10"/><circle cx="1016.5" cy="1695.4" r="6.10"/><circle cx="1020.6" cy="1697.5" r="6.10"/><circle cx="1024.7" cy="1680.8" r="6.10"/><circle cx="1028.8" cy="1662.0" r="6.10"/><circle cx="1032.9" cy="1682.9" r="6.10"/><circle cx="1037.0" cy="1682.9" r="6.10"/><circle cx="1041.1" cy="1659.9" r="6.10"/><circle cx="1045.2" cy="1678.7" r="6.10"/><circle cx="1049.3" cy="1647.4" r="6.10"/><circle cx="1055.5" cy="1662.0" r="6.10"/><circle cx="1059.6" cy="1666.2" r="6.10"/><circle cx="1063.7" cy="1645.3" r="6.10"/><circle cx="1069.0" cy="1643.2" r="6.10"/><circle cx="1073.9" cy="1645.3" r="6.10"/><circle cx="1078.0" cy="1647.4" r="6.10"/><circle cx="1082.1" cy="1634.9" r="6.10"/><circle cx="1086.2" cy="1626.6" r="6.10"/><circle cx="1091.2" cy="1630.7" r="6.10"/><circle cx="1094.4" cy="1628.6" r="6.10"/><circle cx="1096.5" cy="1637.0" r="6.10"/><circle cx="1102.7" cy="1657.8" r="6.10"/><circle cx="1110.9" cy="1676.6" r="6.10"/><circle cx="1118.3" cy="1668.3" r="6.10"/><circle cx="1124.0" cy="1675.4" r="6.10"/><circle cx="1131.4" cy="1675.4" r="6.10"/><circle cx="1139.6" cy="1679.5" r="6.10"/><circle cx="1147.8" cy="1703.7" r="6.10"/><circle cx="1155.2" cy="1693.3" r="6.10"/><circle cx="1162.2" cy="1680.8" r="6.10"/><circle cx="1169.6" cy="1695.4" r="6.10"/><circle cx="1176.5" cy="1703.7" r="6.10"/><circle cx="1183.9" cy="1685.0" r="6.10"/><circle cx="1190.9" cy="1707.9" r="6.10"/><circle cx="1199.1" cy="1718.3" r="6.10"/><circle cx="1207.3" cy="1705.8" r="6.10"/><circle cx="1214.3" cy="1704.6" r="6.10"/></g>
<path d="M1335.3 1485.7V1737.7H1582.8" fill="none" stroke="#111" stroke-width="1.5"/>
<line x1="1328.3" x2="1335.3" y1="1737.7" y2="1737.7" stroke="#111" stroke-width="1.5"/>
<text x="1327.3" y="1746.2" font-size="24.0" text-anchor="end" fill="#000">0.0</text>
<line x1="1328.3" x2="1335.3" y1="1695.9" y2="1695.9" stroke="#111" stroke-width="1.5"/>
<text x="1327.3" y="1704.4" font-size="24.0" text-anchor="end" fill="#000">0.1</text>
<line x1="1328.3" x2="1335.3" y1="1654.0" y2="1654.0" stroke="#111" stroke-width="1.5"/>
<text x="1327.3" y="1662.5" font-size="24.0" text-anchor="end" fill="#000">0.2</text>
<line x1="1328.3" x2="1335.3" y1="1612.2" y2="1612.2" stroke="#111" stroke-width="1.5"/>
<text x="1327.3" y="1620.7" font-size="24.0" text-anchor="end" fill="#000">0.3</text>
<line x1="1328.3" x2="1335.3" y1="1570.4" y2="1570.4" stroke="#111" stroke-width="1.5"/>
<text x="1327.3" y="1578.9" font-size="24.0" text-anchor="end" fill="#000">0.4</text>
<line x1="1328.3" x2="1335.3" y1="1528.5" y2="1528.5" stroke="#111" stroke-width="1.5"/>
<text x="1327.3" y="1537.0" font-size="24.0" text-anchor="end" fill="#000">0.5</text>
<line x1="1328.3" x2="1335.3" y1="1486.7" y2="1486.7" stroke="#111" stroke-width="1.5"/>
<text x="1327.3" y="1495.2" font-size="24.0" text-anchor="end" fill="#000">0.6</text>
<line x1="1335.3" x2="1335.3" y1="1737.7" y2="1743.7" stroke="#111" stroke-width="1.5"/>
<text x="1335.3" y="1767.1" font-size="24.0" text-anchor="middle" fill="#000">0</text>
<line x1="1417.5" x2="1417.5" y1="1737.7" y2="1743.7" stroke="#111" stroke-width="1.5"/>
<text x="1417.5" y="1767.1" font-size="24.0" text-anchor="middle" fill="#000">200</text>
<line x1="1499.6" x2="1499.6" y1="1737.7" y2="1743.7" stroke="#111" stroke-width="1.5"/>
<text x="1499.6" y="1767.1" font-size="24.0" text-anchor="middle" fill="#000">400</text>
<line x1="1581.8" x2="1581.8" y1="1737.7" y2="1743.7" stroke="#111" stroke-width="1.5"/>
<text x="1581.8" y="1767.1" font-size="24.0" text-anchor="middle" fill="#000">600</text>
<text x="1310.4" y="1463.7" font-size="23.5" text-anchor="start" fill="#000" style="white-space:pre">H1 CA/09  HA-head domain</text>
<text x="1457.9" y="1792.1" font-size="23.8" text-anchor="middle" fill="#000">Time(s)</text>
<text x="1279.4" y="1608.2" font-size="23.7" text-anchor="middle" fill="#000" transform="rotate(-90 1279.4 1608.2)">Binding (nm)</text>
<path d="M1380.5 1700.0L1382.5 1698.8L1384.6 1697.5L1386.7 1696.2L1388.7 1694.9L1390.8 1693.7L1392.8 1692.4L1394.9 1691.1L1396.9 1689.8L1399.0 1688.5L1401.0 1687.3L1403.1 1686.0L1405.1 1684.8L1407.2 1683.5L1409.2 1682.3L1411.3 1681.1L1413.4 1679.9L1415.4 1678.7L1417.5 1677.6L1419.5 1676.4L1421.6 1675.3L1423.6 1674.1L1425.7 1673.0L1427.7 1671.9L1429.8 1670.8L1431.8 1669.7L1433.9 1668.7L1436.0 1667.6L1438.0 1666.6L1440.1 1665.5L1442.1 1664.5L1444.2 1663.4L1446.2 1662.4L1448.3 1661.4L1450.3 1660.3L1452.4 1659.3L1454.4 1658.2L1456.5 1657.2L1458.5 1656.1L1460.6 1659.3L1462.7 1662.4L1464.7 1665.5L1466.8 1668.7L1468.8 1671.9L1470.9 1675.2L1472.9 1678.5L1475.0 1681.9L1477.0 1685.4L1479.1 1688.7L1481.1 1691.3L1483.2 1693.8L1485.3 1695.9L1487.3 1697.9L1489.4 1699.6L1491.4 1701.3L1493.5 1702.8L1495.5 1704.2L1497.6 1705.6L1499.6 1707.0L1501.7 1708.4L1503.7 1709.8L1505.8 1711.2L1507.8 1712.6" fill="none" stroke="#0EBE79" stroke-width="3" stroke-linejoin="round"/>
<path d="M1343.5 1716.8L1345.6 1711.9L1347.6 1707.0L1349.7 1702.1L1351.7 1697.4L1353.8 1693.3L1355.8 1689.3L1357.9 1685.7L1360.0 1682.2L1362.0 1679.0L1364.1 1675.8L1366.1 1672.9L1368.2 1669.9L1370.2 1667.2L1372.3 1664.5L1374.3 1661.9L1376.4 1659.5L1378.4 1657.1L1380.5 1654.9L1382.5 1652.8L1384.6 1650.7L1386.7 1648.8L1388.7 1646.9L1390.8 1645.1L1392.8 1643.3L1394.9 1641.6L1396.9 1639.9L1399.0 1638.2L1401.0 1636.6L1403.1 1635.1L1405.1 1633.5L1407.2 1632.1L1409.2 1630.6L1411.3 1629.3L1413.4 1628.0L1415.4 1626.7L1417.5 1625.5L1419.5 1624.4L1421.6 1623.4L1423.6 1622.4L1425.7 1621.4L1427.7 1620.6L1429.8 1619.7L1431.8 1619.0L1433.9 1618.2L1436.0 1617.5L1438.0 1616.8L1440.1 1616.1L1442.1 1615.5L1444.2 1614.9L1446.2 1614.3L1448.3 1613.8L1450.3 1613.2L1452.4 1612.7L1454.4 1612.4L1456.5 1612.2L1458.5 1612.0L1460.6 1612.1L1462.7 1612.3L1464.7 1612.6L1466.8 1613.3L1468.8 1614.0L1470.9 1615.3L1472.9 1616.6L1475.0 1617.9L1477.0 1619.2L1479.1 1620.5L1481.1 1621.8L1483.2 1623.1L1485.3 1624.3L1487.3 1625.6L1489.4 1626.8L1491.4 1628.1L1493.5 1629.4L1495.5 1630.7L1497.6 1632.0L1499.6 1633.4L1501.7 1634.7L1503.7 1636.1L1505.8 1637.5L1507.8 1639.0L1509.9 1640.4L1512.0 1641.9L1514.0 1643.3L1516.1 1644.6L1518.1 1646.0L1520.2 1647.2L1522.2 1648.5L1524.3 1649.7L1526.3 1650.8L1528.4 1651.9L1530.4 1653.0L1532.5 1654.0L1534.6 1655.0L1536.6 1656.0L1538.7 1657.0L1540.7 1658.0L1542.8 1658.9L1544.8 1659.8L1546.9 1660.7L1548.9 1661.6L1551.0 1662.4L1553.0 1663.2L1555.1 1664.1L1557.1 1664.9L1559.2 1665.7L1561.3 1666.5L1563.3 1667.3L1565.4 1668.1L1567.4 1668.9L1569.5 1669.7L1571.5 1670.5L1573.6 1671.3L1575.6 1672.1L1577.7 1672.9" fill="none" stroke="#0EBE79" stroke-width="3" stroke-linejoin="round"/>
<g fill="#0EBE79" stroke="#10AE72" stroke-width="1"><circle cx="1337.4" cy="1700.0" r="5.55"/><circle cx="1345.6" cy="1691.7" r="5.55"/><circle cx="1349.7" cy="1704.2" r="5.55"/><circle cx="1355.8" cy="1664.5" r="5.55"/><circle cx="1360.0" cy="1683.3" r="5.55"/><circle cx="1364.1" cy="1668.7" r="5.55"/><circle cx="1368.2" cy="1675.0" r="5.55"/><circle cx="1372.3" cy="1670.8" r="5.55"/><circle cx="1374.3" cy="1672.9" r="5.55"/><circle cx="1378.4" cy="1687.5" r="5.55"/><circle cx="1382.5" cy="1647.8" r="5.55"/><circle cx="1386.7" cy="1641.5" r="5.55"/><circle cx="1392.8" cy="1618.5" r="5.55"/><circle cx="1396.9" cy="1664.5" r="5.55"/><circle cx="1403.1" cy="1639.4" r="5.55"/><circle cx="1407.2" cy="1635.2" r="5.55"/><circle cx="1411.3" cy="1622.7" r="5.55"/><circle cx="1416.2" cy="1591.3" r="5.55"/><circle cx="1421.6" cy="1616.4" r="5.55"/><circle cx="1426.5" cy="1590.4" r="5.55"/><circle cx="1431.8" cy="1585.0" r="5.55"/><circle cx="1436.0" cy="1612.2" r="5.55"/><circle cx="1440.1" cy="1649.9" r="5.55"/><circle cx="1445.0" cy="1626.8" r="5.55"/><circle cx="1450.3" cy="1624.8" r="5.55"/><circle cx="1454.4" cy="1626.8" r="5.55"/><circle cx="1458.5" cy="1620.6" r="5.55"/><circle cx="1463.5" cy="1614.3" r="5.55"/><circle cx="1466.8" cy="1612.2" r="5.55"/><circle cx="1470.1" cy="1637.3" r="5.55"/><circle cx="1475.8" cy="1599.7" r="5.55"/><circle cx="1481.1" cy="1626.8" r="5.55"/><circle cx="1486.5" cy="1628.9" r="5.55"/><circle cx="1492.2" cy="1622.7" r="5.55"/><circle cx="1497.6" cy="1626.8" r="5.55"/><circle cx="1502.9" cy="1675.0" r="5.55"/><circle cx="1507.8" cy="1633.1" r="5.55"/><circle cx="1512.8" cy="1639.4" r="5.55"/><circle cx="1518.1" cy="1643.6" r="5.55"/><circle cx="1523.5" cy="1662.4" r="5.55"/><circle cx="1528.4" cy="1660.3" r="5.55"/><circle cx="1535.4" cy="1622.7" r="5.55"/><circle cx="1540.7" cy="1658.2" r="5.55"/><circle cx="1546.9" cy="1660.3" r="5.55"/><circle cx="1552.2" cy="1668.7" r="5.55"/><circle cx="1557.1" cy="1670.8" r="5.55"/><circle cx="1563.3" cy="1666.6" r="5.55"/><circle cx="1568.7" cy="1668.7" r="5.55"/><circle cx="1572.8" cy="1679.1" r="5.55"/><circle cx="1577.7" cy="1677.0" r="5.55"/><circle cx="1384.6" cy="1645.7" r="5.55"/><circle cx="1388.7" cy="1639.4" r="5.55"/><circle cx="1405.1" cy="1637.3" r="5.55"/><circle cx="1423.6" cy="1616.4" r="5.55"/><circle cx="1448.3" cy="1624.8" r="5.55"/><circle cx="1460.6" cy="1618.5" r="5.55"/><circle cx="1489.4" cy="1624.8" r="5.55"/><circle cx="1494.7" cy="1625.6" r="5.55"/><circle cx="1515.2" cy="1641.5" r="5.55"/><circle cx="1520.2" cy="1647.8" r="5.55"/><circle cx="1548.9" cy="1662.4" r="5.55"/><circle cx="1560.4" cy="1668.7" r="5.55"/></g>
<g fill="#0EBE79" stroke="#10AE72" stroke-width="1"><rect x="1330.6" y="1724.3" width="11.2" height="11.2"/><rect x="1332.4" y="1730.7" width="11.2" height="11.2"/><rect x="1333.8" y="1715.9" width="11.2" height="11.2"/><rect x="1337.8" y="1718.2" width="11.2" height="11.2"/><rect x="1340.1" y="1725.2" width="11.2" height="11.2"/><rect x="1341.4" y="1703.1" width="11.2" height="11.2"/><rect x="1344.2" y="1732.2" width="11.2" height="11.2"/><rect x="1347.8" y="1716.2" width="11.2" height="11.2"/><rect x="1349.9" y="1712.2" width="11.2" height="11.2"/><rect x="1352.0" y="1727.4" width="11.2" height="11.2"/><rect x="1355.3" y="1717.5" width="11.2" height="11.2"/><rect x="1356.9" y="1716.4" width="11.2" height="11.2"/><rect x="1359.4" y="1721.8" width="11.2" height="11.2"/><rect x="1362.5" y="1727.9" width="11.2" height="11.2"/><rect x="1363.2" y="1706.8" width="11.2" height="11.2"/><rect x="1367.5" y="1705.4" width="11.2" height="11.2"/><rect x="1370.0" y="1729.2" width="11.2" height="11.2"/><rect x="1370.9" y="1728.3" width="11.2" height="11.2"/><rect x="1374.3" y="1729.6" width="11.2" height="11.2"/><rect x="1376.1" y="1728.4" width="11.2" height="11.2"/><rect x="1378.2" y="1718.2" width="11.2" height="11.2"/><rect x="1381.1" y="1725.0" width="11.2" height="11.2"/><rect x="1383.4" y="1733.8" width="11.2" height="11.2"/><rect x="1385.7" y="1733.8" width="11.2" height="11.2"/><rect x="1389.0" y="1733.2" width="11.2" height="11.2"/><rect x="1391.8" y="1727.4" width="11.2" height="11.2"/><rect x="1394.5" y="1733.8" width="11.2" height="11.2"/><rect x="1395.3" y="1718.8" width="11.2" height="11.2"/><rect x="1397.8" y="1728.3" width="11.2" height="11.2"/><rect x="1401.5" y="1721.2" width="11.2" height="11.2"/><rect x="1404.7" y="1720.0" width="11.2" height="11.2"/><rect x="1406.7" y="1725.5" width="11.2" height="11.2"/><rect x="1408.4" y="1720.9" width="11.2" height="11.2"/><rect x="1410.6" y="1722.5" width="11.2" height="11.2"/><rect x="1412.9" y="1720.6" width="11.2" height="11.2"/><rect x="1416.0" y="1720.9" width="11.2" height="11.2"/><rect x="1419.4" y="1716.4" width="11.2" height="11.2"/><rect x="1421.8" y="1727.2" width="11.2" height="11.2"/><rect x="1422.6" y="1721.4" width="11.2" height="11.2"/><rect x="1425.0" y="1726.7" width="11.2" height="11.2"/><rect x="1428.0" y="1733.8" width="11.2" height="11.2"/><rect x="1430.5" y="1722.6" width="11.2" height="11.2"/><rect x="1434.0" y="1725.8" width="11.2" height="11.2"/><rect x="1434.7" y="1712.7" width="11.2" height="11.2"/><rect x="1438.4" y="1727.3" width="11.2" height="11.2"/><rect x="1440.4" y="1723.2" width="11.2" height="11.2"/><rect x="1443.4" y="1715.5" width="11.2" height="11.2"/><rect x="1446.5" y="1713.7" width="11.2" height="11.2"/><rect x="1448.6" y="1712.4" width="11.2" height="11.2"/><rect x="1450.8" y="1726.1" width="11.2" height="11.2"/><rect x="1452.7" y="1704.0" width="11.2" height="11.2"/><rect x="1454.6" y="1708.2" width="11.2" height="11.2"/><rect x="1457.5" y="1725.4" width="11.2" height="11.2"/><rect x="1460.3" y="1727.9" width="11.2" height="11.2"/><rect x="1462.9" y="1708.3" width="11.2" height="11.2"/><rect x="1465.6" y="1725.6" width="11.2" height="11.2"/><rect x="1468.0" y="1719.4" width="11.2" height="11.2"/><rect x="1469.7" y="1725.4" width="11.2" height="11.2"/><rect x="1473.5" y="1716.7" width="11.2" height="11.2"/><rect x="1474.7" y="1728.4" width="11.2" height="11.2"/><rect x="1478.0" y="1712.1" width="11.2" height="11.2"/><rect x="1479.4" y="1712.2" width="11.2" height="11.2"/><rect x="1482.0" y="1719.7" width="11.2" height="11.2"/><rect x="1484.5" y="1725.7" width="11.2" height="11.2"/><rect x="1488.4" y="1733.8" width="11.2" height="11.2"/><rect x="1490.8" y="1712.5" width="11.2" height="11.2"/><rect x="1491.8" y="1717.5" width="11.2" height="11.2"/><rect x="1495.6" y="1728.0" width="11.2" height="11.2"/><rect x="1497.8" y="1723.9" width="11.2" height="11.2"/><rect x="1500.8" y="1723.5" width="11.2" height="11.2"/><rect x="1501.3" y="1725.0" width="11.2" height="11.2"/><rect x="1505.0" y="1722.2" width="11.2" height="11.2"/><rect x="1507.4" y="1722.3" width="11.2" height="11.2"/><rect x="1510.6" y="1733.8" width="11.2" height="11.2"/><rect x="1511.9" y="1709.6" width="11.2" height="11.2"/><rect x="1514.0" y="1701.8" width="11.2" height="11.2"/><rect x="1516.4" y="1726.1" width="11.2" height="11.2"/><rect x="1518.8" y="1728.5" width="11.2" height="11.2"/><rect x="1522.0" y="1712.5" width="11.2" height="11.2"/><rect x="1523.5" y="1731.6" width="11.2" height="11.2"/><rect x="1526.8" y="1715.6" width="11.2" height="11.2"/><rect x="1529.6" y="1722.9" width="11.2" height="11.2"/><rect x="1532.6" y="1713.1" width="11.2" height="11.2"/><rect x="1534.4" y="1715.8" width="11.2" height="11.2"/><rect x="1537.2" y="1714.8" width="11.2" height="11.2"/><rect x="1539.8" y="1715.9" width="11.2" height="11.2"/><rect x="1542.3" y="1725.4" width="11.2" height="11.2"/><rect x="1544.5" y="1727.2" width="11.2" height="11.2"/><rect x="1547.6" y="1722.1" width="11.2" height="11.2"/><rect x="1550.0" y="1722.0" width="11.2" height="11.2"/><rect x="1551.1" y="1721.8" width="11.2" height="11.2"/><rect x="1554.6" y="1715.3" width="11.2" height="11.2"/><rect x="1556.9" y="1730.7" width="11.2" height="11.2"/><rect x="1559.5" y="1719.9" width="11.2" height="11.2"/><rect x="1562.1" y="1710.6" width="11.2" height="11.2"/><rect x="1563.4" y="1717.9" width="11.2" height="11.2"/><rect x="1566.9" y="1722.4" width="11.2" height="11.2"/><rect x="1569.3" y="1733.8" width="11.2" height="11.2"/><rect x="1571.1" y="1728.9" width="11.2" height="11.2"/><rect x="1572.9" y="1722.5" width="11.2" height="11.2"/><rect x="1575.4" y="1726.8" width="11.2" height="11.2"/></g>
<g fill="#fdfdfa" stroke="#0FB274" stroke-width="2.4"><rect x="1329.3" y="1724.2" width="12.0" height="12.0"/><rect x="1333.7" y="1728.0" width="12.0" height="12.0"/><rect x="1337.5" y="1722.1" width="12.0" height="12.0"/><rect x="1341.2" y="1725.5" width="12.0" height="12.0"/><rect x="1346.6" y="1694.9" width="12.0" height="12.0"/><rect x="1350.0" y="1728.5" width="12.0" height="12.0"/><rect x="1354.5" y="1732.5" width="12.0" height="12.0"/><rect x="1359.0" y="1715.3" width="12.0" height="12.0"/><rect x="1361.4" y="1719.9" width="12.0" height="12.0"/><rect x="1365.4" y="1724.8" width="12.0" height="12.0"/><rect x="1370.5" y="1721.8" width="12.0" height="12.0"/><rect x="1374.2" y="1726.6" width="12.0" height="12.0"/><rect x="1379.2" y="1715.4" width="12.0" height="12.0"/><rect x="1383.4" y="1723.1" width="12.0" height="12.0"/><rect x="1385.9" y="1732.5" width="12.0" height="12.0"/><rect x="1391.4" y="1724.8" width="12.0" height="12.0"/><rect x="1395.9" y="1725.6" width="12.0" height="12.0"/><rect x="1398.4" y="1723.7" width="12.0" height="12.0"/><rect x="1403.3" y="1729.8" width="12.0" height="12.0"/><rect x="1407.3" y="1723.3" width="12.0" height="12.0"/><rect x="1411.0" y="1722.0" width="12.0" height="12.0"/><rect x="1415.8" y="1728.5" width="12.0" height="12.0"/><rect x="1420.2" y="1731.0" width="12.0" height="12.0"/><rect x="1423.7" y="1730.4" width="12.0" height="12.0"/><rect x="1428.7" y="1718.6" width="12.0" height="12.0"/><rect x="1431.5" y="1732.1" width="12.0" height="12.0"/><rect x="1436.8" y="1703.9" width="12.0" height="12.0"/><rect x="1440.6" y="1723.8" width="12.0" height="12.0"/><rect x="1444.1" y="1717.3" width="12.0" height="12.0"/><rect x="1448.4" y="1715.6" width="12.0" height="12.0"/><rect x="1452.3" y="1731.3" width="12.0" height="12.0"/><rect x="1456.0" y="1724.0" width="12.0" height="12.0"/><rect x="1460.5" y="1699.8" width="12.0" height="12.0"/><rect x="1465.0" y="1726.6" width="12.0" height="12.0"/><rect x="1468.7" y="1728.6" width="12.0" height="12.0"/><rect x="1472.5" y="1725.4" width="12.0" height="12.0"/><rect x="1476.8" y="1731.2" width="12.0" height="12.0"/><rect x="1481.7" y="1732.5" width="12.0" height="12.0"/><rect x="1486.3" y="1732.5" width="12.0" height="12.0"/><rect x="1489.9" y="1732.5" width="12.0" height="12.0"/><rect x="1493.8" y="1732.5" width="12.0" height="12.0"/><rect x="1498.7" y="1708.6" width="12.0" height="12.0"/><rect x="1500.8" y="1732.1" width="12.0" height="12.0"/><rect x="1505.2" y="1728.4" width="12.0" height="12.0"/><rect x="1510.4" y="1732.5" width="12.0" height="12.0"/><rect x="1514.5" y="1732.5" width="12.0" height="12.0"/><rect x="1517.3" y="1716.3" width="12.0" height="12.0"/><rect x="1522.0" y="1720.3" width="12.0" height="12.0"/><rect x="1525.5" y="1732.5" width="12.0" height="12.0"/><rect x="1531.3" y="1712.5" width="12.0" height="12.0"/><rect x="1534.1" y="1713.8" width="12.0" height="12.0"/><rect x="1539.7" y="1706.6" width="12.0" height="12.0"/><rect x="1543.7" y="1725.8" width="12.0" height="12.0"/><rect x="1546.8" y="1719.9" width="12.0" height="12.0"/><rect x="1550.3" y="1709.3" width="12.0" height="12.0"/><rect x="1555.8" y="1732.5" width="12.0" height="12.0"/><rect x="1558.6" y="1728.4" width="12.0" height="12.0"/><rect x="1564.5" y="1713.7" width="12.0" height="12.0"/><rect x="1567.8" y="1725.7" width="12.0" height="12.0"/><rect x="1571.8" y="1728.0" width="12.0" height="12.0"/><rect x="1576.6" y="1725.5" width="12.0" height="12.0"/></g>
<g fill="#fdfdfa" stroke="#0FB274" stroke-width="2.4"><circle cx="1360.0" cy="1718.9" r="6.10"/><circle cx="1368.2" cy="1716.8" r="6.10"/><circle cx="1376.4" cy="1702.1" r="6.10"/><circle cx="1384.6" cy="1704.2" r="6.10"/><circle cx="1392.8" cy="1677.0" r="6.10"/><circle cx="1401.0" cy="1693.8" r="6.10"/><circle cx="1409.2" cy="1689.6" r="6.10"/><circle cx="1417.5" cy="1675.0" r="6.10"/><circle cx="1425.7" cy="1683.3" r="6.10"/><circle cx="1433.9" cy="1664.5" r="6.10"/><circle cx="1442.1" cy="1668.7" r="6.10"/><circle cx="1451.2" cy="1654.0" r="6.10"/><circle cx="1459.8" cy="1651.9" r="6.10"/><circle cx="1467.6" cy="1670.8" r="6.10"/><circle cx="1477.0" cy="1675.0" r="6.10"/><circle cx="1484.0" cy="1698.0" r="6.10"/><circle cx="1491.4" cy="1695.9" r="6.10"/><circle cx="1500.5" cy="1697.1" r="6.10"/><circle cx="1508.7" cy="1707.2" r="6.10"/><circle cx="1516.1" cy="1715.5" r="6.10"/><circle cx="1524.3" cy="1729.3" r="6.10"/><circle cx="1532.5" cy="1708.4" r="6.10"/><circle cx="1540.7" cy="1714.7" r="6.10"/><circle cx="1549.8" cy="1706.3" r="6.10"/><circle cx="1557.1" cy="1723.1" r="6.10"/><circle cx="1565.4" cy="1727.2" r="6.10"/><circle cx="1573.6" cy="1731.4" r="6.10"/><circle cx="1581.0" cy="1741.9" r="6.10"/></g>
<path d="M1701.7 1488.3V1734.5H1943.6" fill="none" stroke="#111" stroke-width="1.5"/>
<line x1="1694.7" x2="1701.7" y1="1734.5" y2="1734.5" stroke="#111" stroke-width="1.5"/>
<text x="1693.7" y="1743.0" font-size="23.64" text-anchor="end" fill="#000">0.0</text>
<line x1="1694.7" x2="1701.7" y1="1693.6" y2="1693.6" stroke="#111" stroke-width="1.5"/>
<text x="1693.7" y="1702.1" font-size="23.64" text-anchor="end" fill="#000">0.1</text>
<line x1="1694.7" x2="1701.7" y1="1652.8" y2="1652.8" stroke="#111" stroke-width="1.5"/>
<text x="1693.7" y="1661.3" font-size="23.64" text-anchor="end" fill="#000">0.2</text>
<line x1="1694.7" x2="1701.7" y1="1611.9" y2="1611.9" stroke="#111" stroke-width="1.5"/>
<text x="1693.7" y="1620.4" font-size="23.64" text-anchor="end" fill="#000">0.3</text>
<line x1="1694.7" x2="1701.7" y1="1571.0" y2="1571.0" stroke="#111" stroke-width="1.5"/>
<text x="1693.7" y="1579.5" font-size="23.64" text-anchor="end" fill="#000">0.4</text>
<line x1="1694.7" x2="1701.7" y1="1530.2" y2="1530.2" stroke="#111" stroke-width="1.5"/>
<text x="1693.7" y="1538.7" font-size="23.64" text-anchor="end" fill="#000">0.5</text>
<line x1="1694.7" x2="1701.7" y1="1489.3" y2="1489.3" stroke="#111" stroke-width="1.5"/>
<text x="1693.7" y="1497.8" font-size="23.64" text-anchor="end" fill="#000">0.6</text>
<line x1="1701.7" x2="1701.7" y1="1734.5" y2="1740.5" stroke="#111" stroke-width="1.5"/>
<text x="1701.7" y="1765.0" font-size="23.64" text-anchor="middle" fill="#000">0</text>
<line x1="1782.0" x2="1782.0" y1="1734.5" y2="1740.5" stroke="#111" stroke-width="1.5"/>
<text x="1782.0" y="1765.0" font-size="23.64" text-anchor="middle" fill="#000">200</text>
<line x1="1862.3" x2="1862.3" y1="1734.5" y2="1740.5" stroke="#111" stroke-width="1.5"/>
<text x="1862.3" y="1765.0" font-size="23.64" text-anchor="middle" fill="#000">400</text>
<line x1="1942.6" x2="1942.6" y1="1734.5" y2="1740.5" stroke="#111" stroke-width="1.5"/>
<text x="1942.6" y="1765.0" font-size="23.64" text-anchor="middle" fill="#000">600</text>
<text x="1678.5" y="1465.8" font-size="23.15" text-anchor="start" fill="#000" style="white-space:pre">H1 CA/09  HA-stem domain</text>
<text x="1822.2" y="1790.4" font-size="23.44" text-anchor="middle" fill="#000">Time(s)</text>
<text x="1647.3" y="1608.2" font-size="23.34" text-anchor="middle" fill="#000" transform="rotate(-90 1647.3 1608.2)">Binding (nm)</text>
<g fill="#0EBE79" stroke="#10AE72" stroke-width="1"><rect x="1696.1" y="1724.7" width="11.2" height="11.2"/><rect x="1698.7" y="1724.4" width="11.2" height="11.2"/><rect x="1700.2" y="1723.6" width="11.2" height="11.2"/><rect x="1702.2" y="1724.4" width="11.2" height="11.2"/><rect x="1703.6" y="1724.7" width="11.2" height="11.2"/><rect x="1705.6" y="1724.1" width="11.2" height="11.2"/><rect x="1708.1" y="1725.5" width="11.2" height="11.2"/><rect x="1709.8" y="1724.2" width="11.2" height="11.2"/><rect x="1712.8" y="1725.3" width="11.2" height="11.2"/><rect x="1714.2" y="1722.1" width="11.2" height="11.2"/><rect x="1715.3" y="1725.1" width="11.2" height="11.2"/><rect x="1717.8" y="1722.0" width="11.2" height="11.2"/><rect x="1719.8" y="1722.7" width="11.2" height="11.2"/><rect x="1723.1" y="1724.0" width="11.2" height="11.2"/><rect x="1723.9" y="1723.1" width="11.2" height="11.2"/><rect x="1726.6" y="1725.1" width="11.2" height="11.2"/><rect x="1727.5" y="1723.8" width="11.2" height="11.2"/><rect x="1730.5" y="1723.1" width="11.2" height="11.2"/><rect x="1732.2" y="1722.7" width="11.2" height="11.2"/><rect x="1733.4" y="1724.9" width="11.2" height="11.2"/><rect x="1735.6" y="1727.5" width="11.2" height="11.2"/><rect x="1738.1" y="1725.5" width="11.2" height="11.2"/><rect x="1739.3" y="1726.0" width="11.2" height="11.2"/><rect x="1742.1" y="1725.4" width="11.2" height="11.2"/><rect x="1745.3" y="1725.1" width="11.2" height="11.2"/><rect x="1745.8" y="1726.6" width="11.2" height="11.2"/><rect x="1748.7" y="1727.2" width="11.2" height="11.2"/><rect x="1749.6" y="1724.6" width="11.2" height="11.2"/><rect x="1753.2" y="1725.7" width="11.2" height="11.2"/><rect x="1754.3" y="1727.8" width="11.2" height="11.2"/><rect x="1756.3" y="1726.8" width="11.2" height="11.2"/><rect x="1757.9" y="1724.3" width="11.2" height="11.2"/><rect x="1759.6" y="1728.4" width="11.2" height="11.2"/><rect x="1761.6" y="1728.2" width="11.2" height="11.2"/><rect x="1765.3" y="1728.9" width="11.2" height="11.2"/><rect x="1766.8" y="1727.0" width="11.2" height="11.2"/><rect x="1767.5" y="1728.0" width="11.2" height="11.2"/><rect x="1770.8" y="1728.7" width="11.2" height="11.2"/><rect x="1772.8" y="1725.1" width="11.2" height="11.2"/><rect x="1775.4" y="1727.1" width="11.2" height="11.2"/><rect x="1776.9" y="1726.8" width="11.2" height="11.2"/><rect x="1778.7" y="1724.9" width="11.2" height="11.2"/><rect x="1779.6" y="1723.8" width="11.2" height="11.2"/><rect x="1782.8" y="1725.9" width="11.2" height="11.2"/><rect x="1785.2" y="1726.2" width="11.2" height="11.2"/><rect x="1786.1" y="1723.5" width="11.2" height="11.2"/><rect x="1788.6" y="1727.3" width="11.2" height="11.2"/><rect x="1790.7" y="1723.5" width="11.2" height="11.2"/><rect x="1792.5" y="1726.0" width="11.2" height="11.2"/><rect x="1794.1" y="1726.5" width="11.2" height="11.2"/><rect x="1795.9" y="1723.5" width="11.2" height="11.2"/><rect x="1798.5" y="1726.4" width="11.2" height="11.2"/><rect x="1799.9" y="1724.6" width="11.2" height="11.2"/><rect x="1802.0" y="1724.1" width="11.2" height="11.2"/><rect x="1804.5" y="1726.8" width="11.2" height="11.2"/><rect x="1807.4" y="1725.7" width="11.2" height="11.2"/><rect x="1808.3" y="1724.2" width="11.2" height="11.2"/><rect x="1811.2" y="1726.6" width="11.2" height="11.2"/><rect x="1812.4" y="1723.7" width="11.2" height="11.2"/><rect x="1814.2" y="1725.7" width="11.2" height="11.2"/><rect x="1816.0" y="1721.9" width="11.2" height="11.2"/><rect x="1819.1" y="1725.5" width="11.2" height="11.2"/><rect x="1821.0" y="1726.2" width="11.2" height="11.2"/><rect x="1821.7" y="1724.6" width="11.2" height="11.2"/><rect x="1824.6" y="1724.2" width="11.2" height="11.2"/><rect x="1827.5" y="1724.3" width="11.2" height="11.2"/><rect x="1827.8" y="1726.0" width="11.2" height="11.2"/><rect x="1831.1" y="1726.6" width="11.2" height="11.2"/><rect x="1832.6" y="1725.1" width="11.2" height="11.2"/><rect x="1835.4" y="1723.6" width="11.2" height="11.2"/><rect x="1836.5" y="1728.4" width="11.2" height="11.2"/><rect x="1839.6" y="1725.5" width="11.2" height="11.2"/><rect x="1841.5" y="1725.2" width="11.2" height="11.2"/><rect x="1842.3" y="1724.3" width="11.2" height="11.2"/><rect x="1844.0" y="1728.9" width="11.2" height="11.2"/><rect x="1846.4" y="1724.1" width="11.2" height="11.2"/><rect x="1848.5" y="1724.4" width="11.2" height="11.2"/><rect x="1850.2" y="1725.4" width="11.2" height="11.2"/><rect x="1851.7" y="1726.9" width="11.2" height="11.2"/><rect x="1855.2" y="1728.4" width="11.2" height="11.2"/><rect x="1856.1" y="1725.1" width="11.2" height="11.2"/><rect x="1859.1" y="1728.3" width="11.2" height="11.2"/><rect x="1861.4" y="1728.1" width="11.2" height="11.2"/><rect x="1862.2" y="1728.9" width="11.2" height="11.2"/><rect x="1863.8" y="1728.3" width="11.2" height="11.2"/><rect x="1867.0" y="1728.6" width="11.2" height="11.2"/><rect x="1868.2" y="1728.1" width="11.2" height="11.2"/><rect x="1870.6" y="1728.9" width="11.2" height="11.2"/><rect x="1873.7" y="1724.0" width="11.2" height="11.2"/><rect x="1875.5" y="1726.4" width="11.2" height="11.2"/><rect x="1875.8" y="1724.1" width="11.2" height="11.2"/><rect x="1879.4" y="1726.4" width="11.2" height="11.2"/><rect x="1881.8" y="1723.0" width="11.2" height="11.2"/><rect x="1882.6" y="1725.3" width="11.2" height="11.2"/><rect x="1885.5" y="1723.1" width="11.2" height="11.2"/><rect x="1886.6" y="1725.0" width="11.2" height="11.2"/><rect x="1889.3" y="1725.7" width="11.2" height="11.2"/><rect x="1891.8" y="1723.3" width="11.2" height="11.2"/><rect x="1891.8" y="1723.6" width="11.2" height="11.2"/><rect x="1894.0" y="1725.6" width="11.2" height="11.2"/><rect x="1896.4" y="1723.0" width="11.2" height="11.2"/><rect x="1898.9" y="1723.2" width="11.2" height="11.2"/><rect x="1900.9" y="1724.2" width="11.2" height="11.2"/><rect x="1903.6" y="1723.2" width="11.2" height="11.2"/><rect x="1904.5" y="1720.8" width="11.2" height="11.2"/><rect x="1907.0" y="1724.1" width="11.2" height="11.2"/><rect x="1908.6" y="1723.4" width="11.2" height="11.2"/><rect x="1911.2" y="1725.5" width="11.2" height="11.2"/><rect x="1913.6" y="1724.5" width="11.2" height="11.2"/><rect x="1914.8" y="1722.8" width="11.2" height="11.2"/><rect x="1916.2" y="1724.8" width="11.2" height="11.2"/><rect x="1919.3" y="1726.1" width="11.2" height="11.2"/><rect x="1921.5" y="1724.2" width="11.2" height="11.2"/><rect x="1923.6" y="1726.8" width="11.2" height="11.2"/><rect x="1924.4" y="1723.3" width="11.2" height="11.2"/><rect x="1927.3" y="1726.2" width="11.2" height="11.2"/><rect x="1928.4" y="1727.3" width="11.2" height="11.2"/><rect x="1931.3" y="1726.2" width="11.2" height="11.2"/><rect x="1932.3" y="1727.2" width="11.2" height="11.2"/><rect x="1934.3" y="1727.6" width="11.2" height="11.2"/><rect x="1936.3" y="1726.5" width="11.2" height="11.2"/></g>
<g fill="#fdfdfa" stroke="#0FB274" stroke-width="2.4"><circle cx="1705.9" cy="1714.7" r="6.10"/><circle cx="1709.4" cy="1714.3" r="6.10"/><circle cx="1713.5" cy="1716.0" r="6.10"/><circle cx="1717.2" cy="1715.2" r="6.10"/><circle cx="1720.7" cy="1715.7" r="6.10"/><circle cx="1724.4" cy="1713.1" r="6.10"/><circle cx="1726.6" cy="1714.8" r="6.10"/><circle cx="1732.0" cy="1714.9" r="6.10"/><circle cx="1734.2" cy="1714.2" r="6.10"/><circle cx="1738.3" cy="1715.9" r="6.10"/><circle cx="1742.6" cy="1718.3" r="6.10"/><circle cx="1745.5" cy="1714.7" r="6.10"/><circle cx="1748.5" cy="1715.0" r="6.10"/><circle cx="1752.4" cy="1717.5" r="6.10"/><circle cx="1755.4" cy="1717.5" r="6.10"/><circle cx="1759.5" cy="1717.8" r="6.10"/><circle cx="1764.4" cy="1714.8" r="6.10"/><circle cx="1767.0" cy="1719.5" r="6.10"/><circle cx="1770.3" cy="1715.1" r="6.10"/><circle cx="1773.8" cy="1719.0" r="6.10"/><circle cx="1778.8" cy="1719.7" r="6.10"/><circle cx="1780.9" cy="1718.1" r="6.10"/><circle cx="1785.1" cy="1716.7" r="6.10"/><circle cx="1789.7" cy="1718.5" r="6.10"/><circle cx="1792.9" cy="1715.8" r="6.10"/><circle cx="1795.8" cy="1717.1" r="6.10"/><circle cx="1799.1" cy="1714.1" r="6.10"/><circle cx="1803.3" cy="1715.7" r="6.10"/><circle cx="1807.4" cy="1715.0" r="6.10"/><circle cx="1809.9" cy="1718.0" r="6.10"/><circle cx="1814.6" cy="1715.5" r="6.10"/><circle cx="1817.0" cy="1715.9" r="6.10"/><circle cx="1821.3" cy="1717.4" r="6.10"/><circle cx="1825.4" cy="1714.8" r="6.10"/><circle cx="1829.2" cy="1713.8" r="6.10"/><circle cx="1832.2" cy="1714.4" r="6.10"/><circle cx="1836.0" cy="1715.1" r="6.10"/><circle cx="1840.0" cy="1714.1" r="6.10"/><circle cx="1843.7" cy="1718.4" r="6.10"/><circle cx="1845.9" cy="1717.4" r="6.10"/><circle cx="1849.8" cy="1715.1" r="6.10"/><circle cx="1854.5" cy="1719.5" r="6.10"/><circle cx="1857.8" cy="1716.5" r="6.10"/><circle cx="1860.9" cy="1718.0" r="6.10"/><circle cx="1864.0" cy="1717.2" r="6.10"/><circle cx="1867.6" cy="1714.5" r="6.10"/><circle cx="1872.1" cy="1716.9" r="6.10"/><circle cx="1875.4" cy="1715.6" r="6.10"/><circle cx="1879.8" cy="1713.3" r="6.10"/><circle cx="1881.8" cy="1716.3" r="6.10"/><circle cx="1886.5" cy="1717.4" r="6.10"/><circle cx="1889.6" cy="1716.2" r="6.10"/><circle cx="1893.1" cy="1717.7" r="6.10"/><circle cx="1897.2" cy="1716.2" r="6.10"/><circle cx="1901.1" cy="1715.2" r="6.10"/><circle cx="1904.9" cy="1715.5" r="6.10"/><circle cx="1908.8" cy="1714.2" r="6.10"/><circle cx="1910.8" cy="1714.9" r="6.10"/><circle cx="1914.5" cy="1715.8" r="6.10"/><circle cx="1918.8" cy="1714.6" r="6.10"/><circle cx="1923.1" cy="1715.0" r="6.10"/><circle cx="1925.2" cy="1716.0" r="6.10"/><circle cx="1929.0" cy="1716.5" r="6.10"/><circle cx="1932.8" cy="1718.6" r="6.10"/><circle cx="1937.5" cy="1719.5" r="6.10"/><circle cx="1940.2" cy="1714.7" r="6.10"/></g>
<g fill="#0EBE79" stroke="#10AE72" stroke-width="1"><circle cx="1702.6" cy="1725.3" r="5.55"/><circle cx="1704.2" cy="1722.1" r="5.55"/><circle cx="1705.7" cy="1720.3" r="5.55"/><circle cx="1707.5" cy="1718.6" r="5.55"/><circle cx="1709.8" cy="1724.6" r="5.55"/><circle cx="1711.9" cy="1719.8" r="5.55"/><circle cx="1712.9" cy="1724.5" r="5.55"/><circle cx="1714.8" cy="1715.9" r="5.55"/><circle cx="1718.0" cy="1718.3" r="5.55"/><circle cx="1719.4" cy="1722.6" r="5.55"/><circle cx="1722.2" cy="1718.7" r="5.55"/><circle cx="1724.1" cy="1715.9" r="5.55"/><circle cx="1725.7" cy="1721.5" r="5.55"/><circle cx="1727.1" cy="1716.4" r="5.55"/><circle cx="1729.4" cy="1719.3" r="5.55"/><circle cx="1732.4" cy="1722.4" r="5.55"/><circle cx="1734.3" cy="1714.1" r="5.55"/><circle cx="1736.3" cy="1717.6" r="5.55"/><circle cx="1737.2" cy="1723.3" r="5.55"/><circle cx="1739.1" cy="1718.8" r="5.55"/><circle cx="1741.4" cy="1718.4" r="5.55"/><circle cx="1743.3" cy="1722.1" r="5.55"/><circle cx="1745.5" cy="1725.1" r="5.55"/><circle cx="1748.4" cy="1726.5" r="5.55"/><circle cx="1749.1" cy="1719.5" r="5.55"/><circle cx="1751.3" cy="1722.0" r="5.55"/><circle cx="1754.4" cy="1723.4" r="5.55"/><circle cx="1755.8" cy="1721.8" r="5.55"/><circle cx="1758.7" cy="1723.4" r="5.55"/><circle cx="1759.0" cy="1720.3" r="5.55"/><circle cx="1762.8" cy="1725.4" r="5.55"/><circle cx="1763.1" cy="1720.8" r="5.55"/><circle cx="1765.2" cy="1726.0" r="5.55"/><circle cx="1767.7" cy="1720.3" r="5.55"/><circle cx="1769.9" cy="1723.0" r="5.55"/><circle cx="1771.1" cy="1724.5" r="5.55"/><circle cx="1773.4" cy="1726.2" r="5.55"/><circle cx="1775.8" cy="1724.8" r="5.55"/><circle cx="1777.5" cy="1724.0" r="5.55"/><circle cx="1779.2" cy="1725.1" r="5.55"/><circle cx="1781.8" cy="1728.8" r="5.55"/><circle cx="1783.1" cy="1727.2" r="5.55"/><circle cx="1786.2" cy="1724.1" r="5.55"/><circle cx="1787.4" cy="1725.6" r="5.55"/><circle cx="1789.6" cy="1725.1" r="5.55"/><circle cx="1792.3" cy="1724.0" r="5.55"/><circle cx="1794.6" cy="1724.5" r="5.55"/><circle cx="1796.1" cy="1722.0" r="5.55"/><circle cx="1798.5" cy="1723.8" r="5.55"/><circle cx="1799.6" cy="1719.3" r="5.55"/><circle cx="1802.9" cy="1714.3" r="5.55"/><circle cx="1804.7" cy="1721.3" r="5.55"/><circle cx="1805.5" cy="1716.4" r="5.55"/><circle cx="1808.2" cy="1720.4" r="5.55"/><circle cx="1810.8" cy="1719.2" r="5.55"/><circle cx="1811.5" cy="1718.0" r="5.55"/><circle cx="1814.5" cy="1716.4" r="5.55"/><circle cx="1816.1" cy="1717.4" r="5.55"/><circle cx="1818.5" cy="1718.0" r="5.55"/><circle cx="1819.9" cy="1719.3" r="5.55"/><circle cx="1821.9" cy="1721.4" r="5.55"/><circle cx="1824.0" cy="1724.4" r="5.55"/><circle cx="1826.2" cy="1717.5" r="5.55"/><circle cx="1828.7" cy="1713.8" r="5.55"/><circle cx="1830.1" cy="1719.4" r="5.55"/><circle cx="1832.6" cy="1722.6" r="5.55"/><circle cx="1834.9" cy="1719.4" r="5.55"/><circle cx="1836.2" cy="1722.9" r="5.55"/><circle cx="1837.9" cy="1720.0" r="5.55"/><circle cx="1840.6" cy="1727.2" r="5.55"/><circle cx="1841.5" cy="1724.1" r="5.55"/><circle cx="1843.4" cy="1723.5" r="5.55"/><circle cx="1846.7" cy="1722.1" r="5.55"/><circle cx="1848.9" cy="1717.8" r="5.55"/><circle cx="1849.8" cy="1723.9" r="5.55"/><circle cx="1852.0" cy="1723.6" r="5.55"/><circle cx="1855.0" cy="1724.1" r="5.55"/><circle cx="1855.7" cy="1724.2" r="5.55"/><circle cx="1857.3" cy="1720.8" r="5.55"/><circle cx="1860.3" cy="1721.9" r="5.55"/><circle cx="1861.9" cy="1721.9" r="5.55"/><circle cx="1865.1" cy="1725.2" r="5.55"/><circle cx="1867.0" cy="1720.2" r="5.55"/><circle cx="1868.7" cy="1724.0" r="5.55"/><circle cx="1871.0" cy="1722.5" r="5.55"/><circle cx="1872.1" cy="1721.5" r="5.55"/><circle cx="1874.8" cy="1728.7" r="5.55"/><circle cx="1876.6" cy="1726.2" r="5.55"/><circle cx="1879.0" cy="1726.1" r="5.55"/><circle cx="1880.1" cy="1724.5" r="5.55"/><circle cx="1882.0" cy="1725.0" r="5.55"/><circle cx="1884.7" cy="1729.3" r="5.55"/><circle cx="1886.9" cy="1725.6" r="5.55"/><circle cx="1888.0" cy="1721.2" r="5.55"/><circle cx="1890.6" cy="1721.1" r="5.55"/><circle cx="1893.2" cy="1723.6" r="5.55"/><circle cx="1893.7" cy="1723.8" r="5.55"/><circle cx="1897.4" cy="1720.9" r="5.55"/><circle cx="1899.0" cy="1721.9" r="5.55"/><circle cx="1899.8" cy="1721.8" r="5.55"/><circle cx="1902.4" cy="1717.0" r="5.55"/><circle cx="1905.4" cy="1719.7" r="5.55"/><circle cx="1907.2" cy="1719.2" r="5.55"/><circle cx="1908.1" cy="1723.6" r="5.55"/><circle cx="1910.3" cy="1721.9" r="5.55"/><circle cx="1912.7" cy="1722.5" r="5.55"/><circle cx="1913.9" cy="1720.1" r="5.55"/><circle cx="1915.6" cy="1719.5" r="5.55"/><circle cx="1919.2" cy="1722.4" r="5.55"/><circle cx="1920.7" cy="1727.3" r="5.55"/><circle cx="1921.5" cy="1722.1" r="5.55"/><circle cx="1923.7" cy="1719.2" r="5.55"/><circle cx="1926.3" cy="1723.8" r="5.55"/><circle cx="1929.0" cy="1721.1" r="5.55"/><circle cx="1930.8" cy="1718.6" r="5.55"/><circle cx="1933.5" cy="1719.3" r="5.55"/><circle cx="1933.7" cy="1719.1" r="5.55"/><circle cx="1937.4" cy="1725.4" r="5.55"/><circle cx="1939.4" cy="1722.8" r="5.55"/><circle cx="1940.2" cy="1719.4" r="5.55"/><circle cx="1942.8" cy="1725.2" r="5.55"/></g>
<g fill="#fdfdfa" stroke="#0FB274" stroke-width="2.4"><rect x="1695.8" y="1724.7" width="12.0" height="12.0"/><rect x="1709.1" y="1724.8" width="12.0" height="12.0"/><rect x="1722.3" y="1724.9" width="12.0" height="12.0"/><rect x="1736.4" y="1726.5" width="12.0" height="12.0"/><rect x="1748.8" y="1727.5" width="12.0" height="12.0"/><rect x="1762.8" y="1726.2" width="12.0" height="12.0"/><rect x="1774.3" y="1726.9" width="12.0" height="12.0"/><rect x="1787.5" y="1727.4" width="12.0" height="12.0"/><rect x="1801.5" y="1726.9" width="12.0" height="12.0"/><rect x="1815.4" y="1726.5" width="12.0" height="12.0"/><rect x="1828.4" y="1725.8" width="12.0" height="12.0"/><rect x="1842.0" y="1725.6" width="12.0" height="12.0"/><rect x="1854.5" y="1727.5" width="12.0" height="12.0"/><rect x="1868.6" y="1726.3" width="12.0" height="12.0"/><rect x="1882.1" y="1724.7" width="12.0" height="12.0"/><rect x="1894.0" y="1728.0" width="12.0" height="12.0"/><rect x="1908.4" y="1724.7" width="12.0" height="12.0"/><rect x="1921.0" y="1725.0" width="12.0" height="12.0"/><rect x="1933.5" y="1726.7" width="12.0" height="12.0"/><rect x="1938.6" y="1726.0" width="12.0" height="12.0"/><rect x="1790.1" y="1724.4" width="12.0" height="12.0"/></g>
<path d="M971.3 1898.7V2150.1H1218.6" fill="none" stroke="#111" stroke-width="1.5"/>
<line x1="964.3" x2="971.3" y1="2150.1" y2="2150.1" stroke="#111" stroke-width="1.5"/>
<text x="963.3" y="2158.6" font-size="24.0" text-anchor="end" fill="#000">0.0</text>
<line x1="964.3" x2="971.3" y1="2100.0" y2="2100.0" stroke="#111" stroke-width="1.5"/>
<text x="963.3" y="2108.5" font-size="24.0" text-anchor="end" fill="#000">0.1</text>
<line x1="964.3" x2="971.3" y1="2049.9" y2="2049.9" stroke="#111" stroke-width="1.5"/>
<text x="963.3" y="2058.4" font-size="24.0" text-anchor="end" fill="#000">0.2</text>
<line x1="964.3" x2="971.3" y1="1999.9" y2="1999.9" stroke="#111" stroke-width="1.5"/>
<text x="963.3" y="2008.4" font-size="24.0" text-anchor="end" fill="#000">0.3</text>
<line x1="964.3" x2="971.3" y1="1949.8" y2="1949.8" stroke="#111" stroke-width="1.5"/>
<text x="963.3" y="1958.3" font-size="24.0" text-anchor="end" fill="#000">0.4</text>
<line x1="964.3" x2="971.3" y1="1899.7" y2="1899.7" stroke="#111" stroke-width="1.5"/>
<text x="963.3" y="1908.2" font-size="24.0" text-anchor="end" fill="#000">0.5</text>
<line x1="971.3" x2="971.3" y1="2150.1" y2="2156.1" stroke="#111" stroke-width="1.5"/>
<text x="971.3" y="2180.6" font-size="24.0" text-anchor="middle" fill="#000">0</text>
<line x1="1053.4" x2="1053.4" y1="2150.1" y2="2156.1" stroke="#111" stroke-width="1.5"/>
<text x="1053.4" y="2180.6" font-size="24.0" text-anchor="middle" fill="#000">200</text>
<line x1="1135.5" x2="1135.5" y1="2150.1" y2="2156.1" stroke="#111" stroke-width="1.5"/>
<text x="1135.5" y="2180.6" font-size="24.0" text-anchor="middle" fill="#000">400</text>
<line x1="1217.6" x2="1217.6" y1="2150.1" y2="2156.1" stroke="#111" stroke-width="1.5"/>
<text x="1217.6" y="2180.6" font-size="24.0" text-anchor="middle" fill="#000">600</text>
<text x="965.5" y="1875.7" font-size="23.5" text-anchor="start" fill="#000" style="white-space:pre">H1 CA/09  HA-full length</text>
<text x="1092.8" y="2206.6" font-size="23.8" text-anchor="middle" fill="#000">Time(s)</text>
<text x="916.2" y="2020.5" font-size="23.7" text-anchor="middle" fill="#000" transform="rotate(-90 916.2 2020.5)">Binding (nm)</text>
<g fill="#fdfdfa" stroke="#12B2A3" stroke-width="2.4"><rect x="965.3" y="2146.1" width="12.0" height="12.0"/><rect x="973.0" y="2146.1" width="12.0" height="12.0"/><rect x="978.9" y="2130.3" width="12.0" height="12.0"/><rect x="986.7" y="2127.8" width="12.0" height="12.0"/><rect x="993.0" y="2137.1" width="12.0" height="12.0"/><rect x="1000.7" y="2139.8" width="12.0" height="12.0"/><rect x="1008.0" y="2137.3" width="12.0" height="12.0"/><rect x="1013.7" y="2132.9" width="12.0" height="12.0"/><rect x="1020.2" y="2136.3" width="12.0" height="12.0"/><rect x="1028.2" y="2146.1" width="12.0" height="12.0"/><rect x="1035.2" y="2143.5" width="12.0" height="12.0"/><rect x="1042.9" y="2137.3" width="12.0" height="12.0"/><rect x="1049.3" y="2137.1" width="12.0" height="12.0"/><rect x="1056.4" y="2135.7" width="12.0" height="12.0"/><rect x="1062.5" y="2137.0" width="12.0" height="12.0"/><rect x="1069.3" y="2146.1" width="12.0" height="12.0"/><rect x="1077.0" y="2135.4" width="12.0" height="12.0"/><rect x="1084.4" y="2139.0" width="12.0" height="12.0"/><rect x="1091.9" y="2128.1" width="12.0" height="12.0"/><rect x="1098.3" y="2137.8" width="12.0" height="12.0"/><rect x="1105.5" y="2124.9" width="12.0" height="12.0"/><rect x="1112.6" y="2140.5" width="12.0" height="12.0"/><rect x="1119.5" y="2146.1" width="12.0" height="12.0"/><rect x="1126.8" y="2125.3" width="12.0" height="12.0"/><rect x="1132.8" y="2139.9" width="12.0" height="12.0"/><rect x="1139.0" y="2145.9" width="12.0" height="12.0"/><rect x="1146.5" y="2129.5" width="12.0" height="12.0"/><rect x="1154.0" y="2133.8" width="12.0" height="12.0"/><rect x="1160.8" y="2134.4" width="12.0" height="12.0"/><rect x="1167.2" y="2136.5" width="12.0" height="12.0"/><rect x="1175.3" y="2131.9" width="12.0" height="12.0"/><rect x="1181.5" y="2136.0" width="12.0" height="12.0"/><rect x="1189.6" y="2124.3" width="12.0" height="12.0"/><rect x="1196.1" y="2133.2" width="12.0" height="12.0"/><rect x="1202.3" y="2138.7" width="12.0" height="12.0"/><rect x="1209.4" y="2124.8" width="12.0" height="12.0"/><rect x="965.3" y="2121.6" width="12.0" height="12.0"/><rect x="1212.8" y="2144.1" width="12.0" height="12.0"/><rect x="1035.1" y="2121.6" width="12.0" height="12.0"/><rect x="1055.6" y="2121.6" width="12.0" height="12.0"/><rect x="1123.3" y="2121.6" width="12.0" height="12.0"/><rect x="1129.5" y="2124.1" width="12.0" height="12.0"/><rect x="1143.9" y="2123.1" width="12.0" height="12.0"/><rect x="1008.4" y="2127.6" width="12.0" height="12.0"/></g>
<g fill="#fdfdfa" stroke="#12B2A3" stroke-width="2.4"><circle cx="971.5" cy="2143.7" r="6.10"/><circle cx="975.6" cy="2131.5" r="6.10"/><circle cx="980.7" cy="2121.0" r="6.10"/><circle cx="985.1" cy="2117.1" r="6.10"/><circle cx="990.1" cy="2117.9" r="6.10"/><circle cx="993.8" cy="2115.3" r="6.10"/><circle cx="998.0" cy="2123.7" r="6.10"/><circle cx="1003.3" cy="2117.7" r="6.10"/><circle cx="1008.0" cy="2102.9" r="6.10"/><circle cx="1012.6" cy="2096.9" r="6.10"/><circle cx="1015.4" cy="2085.3" r="6.10"/><circle cx="1020.0" cy="2072.3" r="6.10"/><circle cx="1025.1" cy="2053.1" r="6.10"/><circle cx="1030.6" cy="2059.8" r="6.10"/><circle cx="1033.6" cy="2081.1" r="6.10"/><circle cx="1038.5" cy="2062.6" r="6.10"/><circle cx="1043.9" cy="2045.9" r="6.10"/><circle cx="1048.3" cy="2035.5" r="6.10"/><circle cx="1052.0" cy="2020.6" r="6.10"/><circle cx="1057.3" cy="2043.4" r="6.10"/><circle cx="1061.3" cy="2033.8" r="6.10"/><circle cx="1065.8" cy="2019.6" r="6.10"/><circle cx="1071.1" cy="2040.6" r="6.10"/><circle cx="1075.7" cy="2020.8" r="6.10"/><circle cx="1079.7" cy="1995.7" r="6.10"/><circle cx="1085.0" cy="1989.3" r="6.10"/><circle cx="1089.1" cy="1991.7" r="6.10"/><circle cx="1092.7" cy="1988.3" r="6.10"/><circle cx="1097.4" cy="2016.3" r="6.10"/><circle cx="1101.6" cy="2037.7" r="6.10"/><circle cx="1107.5" cy="2022.9" r="6.10"/><circle cx="1110.3" cy="2003.9" r="6.10"/><circle cx="1115.0" cy="2026.3" r="6.10"/><circle cx="1119.5" cy="2036.9" r="6.10"/><circle cx="1124.7" cy="2038.2" r="6.10"/><circle cx="1129.4" cy="2044.0" r="6.10"/><circle cx="1134.7" cy="2057.6" r="6.10"/><circle cx="1138.5" cy="2069.5" r="6.10"/><circle cx="1143.7" cy="2073.4" r="6.10"/><circle cx="1146.6" cy="2064.8" r="6.10"/><circle cx="1152.3" cy="2061.7" r="6.10"/><circle cx="1156.5" cy="2044.6" r="6.10"/><circle cx="1161.3" cy="2066.2" r="6.10"/><circle cx="1165.7" cy="2088.1" r="6.10"/><circle cx="1170.4" cy="2083.8" r="6.10"/><circle cx="1174.0" cy="2093.3" r="6.10"/><circle cx="1178.3" cy="2093.5" r="6.10"/><circle cx="1182.7" cy="2100.7" r="6.10"/><circle cx="1187.5" cy="2099.8" r="6.10"/><circle cx="1192.5" cy="2089.8" r="6.10"/><circle cx="1198.0" cy="2096.5" r="6.10"/><circle cx="1202.5" cy="2098.4" r="6.10"/><circle cx="1207.0" cy="2105.2" r="6.10"/><circle cx="1211.3" cy="2094.3" r="6.10"/><circle cx="1214.3" cy="2096.6" r="6.10"/><circle cx="1171.2" cy="2028.4" r="6.10"/><circle cx="1115.0" cy="2066.5" r="6.10"/><circle cx="1147.8" cy="2100.0" r="6.10"/><circle cx="1180.7" cy="2112.0" r="6.10"/><circle cx="1200.4" cy="2128.6" r="6.10"/><circle cx="985.7" cy="2130.1" r="6.10"/></g>
<path d="M979.5 2135.1L981.6 2132.0L983.6 2128.9L985.7 2125.8L987.7 2122.7L989.8 2119.7L991.8 2116.6L993.9 2113.5L995.9 2110.4L998.0 2107.3L1000.0 2104.3L1002.1 2101.2L1004.1 2098.1L1006.2 2095.0L1008.2 2091.9L1010.3 2088.8L1012.3 2085.8L1014.4 2082.8L1016.5 2080.0L1018.5 2077.1L1020.6 2074.2L1022.6 2071.4L1024.7 2068.5L1026.7 2065.6L1028.8 2063.0L1030.8 2060.3L1032.9 2057.6L1034.9 2054.9L1037.0 2052.3L1039.0 2049.6L1041.1 2047.0L1043.1 2044.5L1045.2 2042.1L1047.2 2039.6L1049.3 2037.1L1051.3 2034.6L1053.4 2032.1L1055.5 2029.8L1057.5 2027.5L1059.6 2025.2L1061.6 2022.9L1063.7 2020.6L1065.7 2018.3L1067.8 2016.0L1069.8 2013.7L1071.9 2011.4L1073.9 2009.2L1076.0 2006.9L1078.0 2004.6L1080.1 2002.3L1082.1 2000.0L1084.2 1997.7L1086.2 1995.4L1088.3 1993.1L1090.3 1990.8L1092.4 1995.1L1094.4 1999.4L1096.5 2003.6L1098.6 2007.9L1100.6 2012.1L1102.7 2016.0L1104.7 2019.9L1106.8 2023.5L1108.8 2027.1L1110.9 2030.4L1112.9 2033.7L1115.0 2036.9L1117.0 2039.9L1119.1 2042.9L1121.1 2045.6L1123.2 2048.3L1125.2 2050.9L1127.3 2053.2L1129.3 2055.5L1131.4 2057.8L1133.4 2059.8L1135.5 2061.8L1137.6 2063.8L1139.6 2065.7L1141.7 2067.5L1143.7 2069.3L1145.8 2071.0L1147.8 2072.6L1149.9 2074.1L1151.9 2075.7L1154.0 2077.1L1156.0 2078.4L1158.1 2079.8L1160.1 2081.0L1162.2 2082.2L1164.2 2083.3L1166.3 2084.4L1168.3 2085.4L1170.4 2086.2L1172.4 2087.1L1174.5 2088.0L1176.5 2088.8L1178.6 2089.6L1180.7 2090.3L1182.7 2091.0L1184.8 2091.7L1186.8 2092.4L1188.9 2093.1L1190.9 2093.6L1193.0 2094.2L1195.0 2094.8L1197.1 2095.3L1199.1 2095.8L1201.2 2096.3L1203.2 2096.7L1205.3 2097.2L1207.3 2097.7L1209.4 2098.1L1211.4 2098.6L1213.5 2099.1L1215.5 2099.6L1217.6 2100.0" fill="none" stroke="#10BFAE" stroke-width="3" stroke-linejoin="round"/>
<path d="M971.3 2125.1L973.4 2122.2L975.4 2119.3L977.5 2116.5L979.5 2113.6L981.6 2110.8L983.6 2107.9L985.7 2105.0L987.7 2102.2L989.8 2099.3L991.8 2096.4L993.9 2093.6L995.9 2090.7L998.0 2087.9L1000.0 2085.0L1002.1 2082.1L1004.1 2079.3L1006.2 2076.4L1008.2 2073.6L1010.3 2070.9L1012.3 2068.2L1014.4 2065.5L1016.5 2062.8L1018.5 2060.1L1020.6 2057.4L1022.6 2054.8L1024.7 2052.3L1026.7 2049.7L1028.8 2047.2L1030.8 2044.7L1032.9 2042.1L1034.9 2039.6L1037.0 2037.1L1039.0 2034.7L1041.1 2032.3L1043.1 2029.9L1045.2 2027.5L1047.2 2025.1L1049.3 2022.8L1051.3 2020.4L1053.4 2018.1L1055.5 2015.9L1057.5 2013.7L1059.6 2011.4L1061.6 2009.2L1063.7 2007.0L1065.7 2004.7L1067.8 2002.5L1069.8 2000.3L1071.9 1998.0L1073.9 1995.8L1076.0 1993.6L1078.0 1991.3L1080.1 1989.1L1082.1 1986.9L1084.2 1984.6L1086.2 1982.4L1088.3 1980.2L1090.3 1980.1L1092.4 1983.2L1094.4 1986.3L1096.5 1989.4L1098.6 1992.5L1100.6 1995.5L1102.7 1998.4L1104.7 2001.3L1106.8 2004.1L1108.8 2006.8L1110.9 2009.5L1112.9 2012.2L1115.0 2014.8L1117.0 2017.4L1119.1 2019.9L1121.1 2022.4L1123.2 2024.9L1125.2 2027.4L1127.3 2029.7L1129.3 2032.1L1131.4 2034.5L1133.4 2036.7L1135.5 2039.0L1137.6 2041.2L1139.6 2043.4L1141.7 2045.5L1143.7 2047.6L1145.8 2049.7L1147.8 2051.7L1149.9 2053.7L1151.9 2055.7L1154.0 2057.6L1156.0 2059.4L1158.1 2061.2L1160.1 2063.0L1162.2 2064.6L1164.2 2066.2L1166.3 2067.8L1168.3 2069.4L1170.4 2070.8L1172.4 2072.3L1174.5 2073.7L1176.5 2075.0L1178.6 2076.2L1180.7 2077.5L1182.7 2078.7L1184.8 2079.8L1186.8 2080.9L1188.9 2082.0L1190.9 2083.0L1193.0 2084.0L1195.0 2084.9L1197.1 2085.8L1199.1 2086.6L1201.2 2087.4L1203.2 2088.1L1205.3 2088.8L1207.3 2089.4L1209.4 2090.0L1211.4 2090.6L1213.5 2091.3L1215.5 2091.9L1217.6 2092.5" fill="none" stroke="#10BFAE" stroke-width="3" stroke-linejoin="round"/>
<g fill="#10BFAE" stroke="#13AEA0" stroke-width="1"><circle cx="971.3" cy="2131.7" r="5.55"/><circle cx="975.6" cy="2110.3" r="5.55"/><circle cx="978.0" cy="2092.7" r="5.55"/><circle cx="983.3" cy="2099.1" r="5.55"/><circle cx="985.5" cy="2094.8" r="5.55"/><circle cx="988.9" cy="2101.8" r="5.55"/><circle cx="994.0" cy="2096.8" r="5.55"/><circle cx="996.8" cy="2091.4" r="5.55"/><circle cx="1001.7" cy="2090.4" r="5.55"/><circle cx="1005.3" cy="2084.7" r="5.55"/><circle cx="1007.8" cy="2092.6" r="5.55"/><circle cx="1012.7" cy="2076.2" r="5.55"/><circle cx="1015.1" cy="2071.9" r="5.55"/><circle cx="1019.9" cy="2064.4" r="5.55"/><circle cx="1022.6" cy="2043.3" r="5.55"/><circle cx="1026.6" cy="2030.5" r="5.55"/><circle cx="1029.7" cy="2042.0" r="5.55"/><circle cx="1033.4" cy="2069.3" r="5.55"/><circle cx="1038.3" cy="2056.5" r="5.55"/><circle cx="1041.0" cy="2047.3" r="5.55"/><circle cx="1046.0" cy="2037.1" r="5.55"/><circle cx="1048.6" cy="2013.9" r="5.55"/><circle cx="1053.2" cy="2011.9" r="5.55"/><circle cx="1056.7" cy="2033.7" r="5.55"/><circle cx="1059.7" cy="2023.5" r="5.55"/><circle cx="1063.1" cy="2004.9" r="5.55"/><circle cx="1066.9" cy="2003.5" r="5.55"/><circle cx="1070.8" cy="2028.0" r="5.55"/><circle cx="1075.6" cy="2026.5" r="5.55"/><circle cx="1077.9" cy="2009.8" r="5.55"/><circle cx="1081.3" cy="1986.7" r="5.55"/><circle cx="1085.7" cy="1976.9" r="5.55"/><circle cx="1089.5" cy="1981.5" r="5.55"/><circle cx="1093.0" cy="1973.7" r="5.55"/><circle cx="1097.2" cy="1986.4" r="5.55"/><circle cx="1100.2" cy="2003.9" r="5.55"/><circle cx="1103.9" cy="2006.6" r="5.55"/><circle cx="1108.8" cy="2007.0" r="5.55"/><circle cx="1111.6" cy="2009.7" r="5.55"/><circle cx="1115.7" cy="2015.5" r="5.55"/><circle cx="1118.9" cy="2015.2" r="5.55"/><circle cx="1123.4" cy="2017.3" r="5.55"/><circle cx="1127.1" cy="2022.5" r="5.55"/><circle cx="1130.0" cy="2024.4" r="5.55"/><circle cx="1134.5" cy="2035.6" r="5.55"/><circle cx="1137.0" cy="2041.6" r="5.55"/><circle cx="1141.1" cy="2051.9" r="5.55"/><circle cx="1145.2" cy="2052.5" r="5.55"/><circle cx="1147.8" cy="2047.5" r="5.55"/><circle cx="1152.2" cy="2054.6" r="5.55"/><circle cx="1155.8" cy="2074.1" r="5.55"/><circle cx="1160.6" cy="2075.3" r="5.55"/><circle cx="1163.5" cy="2078.4" r="5.55"/><circle cx="1167.1" cy="2073.0" r="5.55"/><circle cx="1171.8" cy="2076.2" r="5.55"/><circle cx="1173.8" cy="2073.9" r="5.55"/><circle cx="1178.8" cy="2072.7" r="5.55"/><circle cx="1181.8" cy="2082.5" r="5.55"/><circle cx="1185.6" cy="2083.7" r="5.55"/><circle cx="1189.7" cy="2085.5" r="5.55"/><circle cx="1193.8" cy="2085.2" r="5.55"/><circle cx="1196.8" cy="2090.5" r="5.55"/><circle cx="1199.8" cy="2087.9" r="5.55"/><circle cx="1204.5" cy="2096.5" r="5.55"/><circle cx="1207.3" cy="2105.0" r="5.55"/><circle cx="1210.8" cy="2099.0" r="5.55"/><circle cx="1215.0" cy="2098.6" r="5.55"/><circle cx="991.0" cy="2057.5" r="5.55"/><circle cx="1000.0" cy="2067.5" r="5.55"/><circle cx="1111.3" cy="1978.8" r="5.55"/><circle cx="1171.2" cy="2021.4" r="5.55"/><circle cx="1138.8" cy="2098.5" r="5.55"/></g>
<g fill="#10BFAE" stroke="#13AEA0" stroke-width="1"><rect x="965.7" y="2137.7" width="11.2" height="11.2"/><rect x="968.1" y="2139.4" width="11.2" height="11.2"/><rect x="970.3" y="2135.3" width="11.2" height="11.2"/><rect x="972.5" y="2136.8" width="11.2" height="11.2"/><rect x="974.6" y="2137.6" width="11.2" height="11.2"/><rect x="975.9" y="2135.9" width="11.2" height="11.2"/><rect x="978.8" y="2137.4" width="11.2" height="11.2"/><rect x="981.0" y="2137.7" width="11.2" height="11.2"/><rect x="981.3" y="2137.1" width="11.2" height="11.2"/><rect x="983.2" y="2138.1" width="11.2" height="11.2"/><rect x="986.1" y="2138.0" width="11.2" height="11.2"/><rect x="987.3" y="2137.5" width="11.2" height="11.2"/><rect x="989.9" y="2136.0" width="11.2" height="11.2"/><rect x="992.9" y="2136.4" width="11.2" height="11.2"/><rect x="993.7" y="2135.4" width="11.2" height="11.2"/><rect x="995.7" y="2137.5" width="11.2" height="11.2"/><rect x="999.5" y="2135.7" width="11.2" height="11.2"/><rect x="1001.6" y="2136.8" width="11.2" height="11.2"/><rect x="1003.6" y="2136.1" width="11.2" height="11.2"/><rect x="1005.1" y="2138.5" width="11.2" height="11.2"/><rect x="1006.7" y="2136.6" width="11.2" height="11.2"/><rect x="1008.0" y="2136.6" width="11.2" height="11.2"/><rect x="1010.7" y="2137.8" width="11.2" height="11.2"/><rect x="1013.2" y="2137.2" width="11.2" height="11.2"/><rect x="1015.8" y="2139.3" width="11.2" height="11.2"/><rect x="1016.4" y="2138.4" width="11.2" height="11.2"/><rect x="1018.7" y="2138.7" width="11.2" height="11.2"/><rect x="1020.2" y="2138.2" width="11.2" height="11.2"/><rect x="1023.1" y="2137.8" width="11.2" height="11.2"/><rect x="1025.8" y="2140.1" width="11.2" height="11.2"/><rect x="1027.7" y="2138.8" width="11.2" height="11.2"/><rect x="1029.9" y="2138.1" width="11.2" height="11.2"/><rect x="1031.1" y="2138.6" width="11.2" height="11.2"/><rect x="1032.6" y="2141.1" width="11.2" height="11.2"/><rect x="1034.7" y="2139.8" width="11.2" height="11.2"/><rect x="1038.1" y="2141.1" width="11.2" height="11.2"/><rect x="1039.7" y="2138.2" width="11.2" height="11.2"/><rect x="1041.8" y="2140.1" width="11.2" height="11.2"/><rect x="1044.2" y="2139.8" width="11.2" height="11.2"/><rect x="1045.6" y="2139.5" width="11.2" height="11.2"/><rect x="1047.9" y="2139.8" width="11.2" height="11.2"/><rect x="1049.6" y="2138.2" width="11.2" height="11.2"/><rect x="1051.1" y="2137.3" width="11.2" height="11.2"/><rect x="1053.9" y="2138.5" width="11.2" height="11.2"/><rect x="1055.7" y="2138.5" width="11.2" height="11.2"/><rect x="1059.0" y="2138.1" width="11.2" height="11.2"/><rect x="1060.0" y="2138.2" width="11.2" height="11.2"/><rect x="1062.9" y="2137.6" width="11.2" height="11.2"/><rect x="1063.7" y="2138.3" width="11.2" height="11.2"/><rect x="1066.0" y="2139.2" width="11.2" height="11.2"/><rect x="1068.9" y="2136.0" width="11.2" height="11.2"/><rect x="1070.6" y="2138.6" width="11.2" height="11.2"/><rect x="1072.9" y="2137.5" width="11.2" height="11.2"/><rect x="1075.0" y="2136.7" width="11.2" height="11.2"/><rect x="1077.2" y="2137.3" width="11.2" height="11.2"/><rect x="1079.5" y="2137.6" width="11.2" height="11.2"/><rect x="1079.8" y="2137.4" width="11.2" height="11.2"/><rect x="1083.6" y="2137.1" width="11.2" height="11.2"/><rect x="1084.0" y="2136.4" width="11.2" height="11.2"/><rect x="1086.4" y="2135.6" width="11.2" height="11.2"/><rect x="1089.5" y="2135.9" width="11.2" height="11.2"/><rect x="1091.8" y="2135.1" width="11.2" height="11.2"/><rect x="1092.6" y="2137.1" width="11.2" height="11.2"/><rect x="1095.3" y="2137.1" width="11.2" height="11.2"/><rect x="1096.7" y="2136.4" width="11.2" height="11.2"/><rect x="1098.4" y="2137.0" width="11.2" height="11.2"/><rect x="1101.4" y="2136.3" width="11.2" height="11.2"/><rect x="1103.4" y="2138.1" width="11.2" height="11.2"/><rect x="1105.8" y="2137.2" width="11.2" height="11.2"/><rect x="1108.2" y="2137.2" width="11.2" height="11.2"/><rect x="1108.7" y="2137.6" width="11.2" height="11.2"/><rect x="1111.2" y="2137.7" width="11.2" height="11.2"/><rect x="1113.3" y="2139.4" width="11.2" height="11.2"/><rect x="1116.4" y="2138.5" width="11.2" height="11.2"/><rect x="1118.4" y="2138.8" width="11.2" height="11.2"/><rect x="1120.0" y="2136.2" width="11.2" height="11.2"/><rect x="1121.2" y="2137.7" width="11.2" height="11.2"/><rect x="1124.2" y="2137.7" width="11.2" height="11.2"/><rect x="1125.8" y="2139.2" width="11.2" height="11.2"/><rect x="1128.2" y="2138.8" width="11.2" height="11.2"/><rect x="1128.9" y="2139.7" width="11.2" height="11.2"/><rect x="1131.5" y="2140.5" width="11.2" height="11.2"/><rect x="1134.7" y="2140.3" width="11.2" height="11.2"/><rect x="1135.6" y="2139.7" width="11.2" height="11.2"/><rect x="1137.8" y="2139.0" width="11.2" height="11.2"/><rect x="1141.0" y="2141.0" width="11.2" height="11.2"/><rect x="1141.4" y="2138.6" width="11.2" height="11.2"/><rect x="1144.3" y="2138.9" width="11.2" height="11.2"/><rect x="1146.5" y="2139.6" width="11.2" height="11.2"/><rect x="1148.9" y="2138.4" width="11.2" height="11.2"/><rect x="1149.5" y="2137.8" width="11.2" height="11.2"/><rect x="1151.7" y="2138.5" width="11.2" height="11.2"/><rect x="1154.2" y="2137.5" width="11.2" height="11.2"/><rect x="1156.0" y="2138.5" width="11.2" height="11.2"/><rect x="1159.6" y="2138.7" width="11.2" height="11.2"/><rect x="1160.2" y="2138.8" width="11.2" height="11.2"/><rect x="1163.7" y="2136.1" width="11.2" height="11.2"/><rect x="1164.1" y="2136.8" width="11.2" height="11.2"/><rect x="1167.7" y="2137.0" width="11.2" height="11.2"/><rect x="1169.2" y="2136.3" width="11.2" height="11.2"/><rect x="1170.3" y="2136.4" width="11.2" height="11.2"/><rect x="1172.5" y="2137.0" width="11.2" height="11.2"/><rect x="1175.0" y="2138.1" width="11.2" height="11.2"/><rect x="1177.0" y="2137.1" width="11.2" height="11.2"/><rect x="1179.8" y="2135.6" width="11.2" height="11.2"/><rect x="1181.4" y="2136.4" width="11.2" height="11.2"/><rect x="1182.5" y="2137.1" width="11.2" height="11.2"/><rect x="1184.5" y="2134.7" width="11.2" height="11.2"/><rect x="1188.0" y="2137.1" width="11.2" height="11.2"/><rect x="1189.1" y="2136.4" width="11.2" height="11.2"/><rect x="1190.8" y="2137.3" width="11.2" height="11.2"/><rect x="1193.6" y="2136.7" width="11.2" height="11.2"/><rect x="1195.4" y="2137.0" width="11.2" height="11.2"/><rect x="1198.5" y="2137.8" width="11.2" height="11.2"/><rect x="1200.5" y="2137.4" width="11.2" height="11.2"/><rect x="1201.9" y="2139.0" width="11.2" height="11.2"/><rect x="1203.3" y="2136.3" width="11.2" height="11.2"/><rect x="1205.7" y="2137.0" width="11.2" height="11.2"/><rect x="1207.1" y="2138.8" width="11.2" height="11.2"/><rect x="1210.7" y="2140.3" width="11.2" height="11.2"/><rect x="1211.3" y="2138.6" width="11.2" height="11.2"/></g>
<path d="M1335.3 1898.3V2150.5H1583.2" fill="none" stroke="#111" stroke-width="1.5"/>
<line x1="1328.3" x2="1335.3" y1="2150.5" y2="2150.5" stroke="#111" stroke-width="1.5"/>
<text x="1327.3" y="2159.0" font-size="24.0" text-anchor="end" fill="#000">0.0</text>
<line x1="1328.3" x2="1335.3" y1="2100.3" y2="2100.3" stroke="#111" stroke-width="1.5"/>
<text x="1327.3" y="2108.8" font-size="24.0" text-anchor="end" fill="#000">0.1</text>
<line x1="1328.3" x2="1335.3" y1="2050.0" y2="2050.0" stroke="#111" stroke-width="1.5"/>
<text x="1327.3" y="2058.5" font-size="24.0" text-anchor="end" fill="#000">0.2</text>
<line x1="1328.3" x2="1335.3" y1="1999.8" y2="1999.8" stroke="#111" stroke-width="1.5"/>
<text x="1327.3" y="2008.3" font-size="24.0" text-anchor="end" fill="#000">0.3</text>
<line x1="1328.3" x2="1335.3" y1="1949.5" y2="1949.5" stroke="#111" stroke-width="1.5"/>
<text x="1327.3" y="1958.0" font-size="24.0" text-anchor="end" fill="#000">0.4</text>
<line x1="1328.3" x2="1335.3" y1="1899.3" y2="1899.3" stroke="#111" stroke-width="1.5"/>
<text x="1327.3" y="1907.8" font-size="24.0" text-anchor="end" fill="#000">0.5</text>
<line x1="1335.3" x2="1335.3" y1="2150.5" y2="2156.5" stroke="#111" stroke-width="1.5"/>
<text x="1335.3" y="2180.6" font-size="24.0" text-anchor="middle" fill="#000">0</text>
<line x1="1417.6" x2="1417.6" y1="2150.5" y2="2156.5" stroke="#111" stroke-width="1.5"/>
<text x="1417.6" y="2180.6" font-size="24.0" text-anchor="middle" fill="#000">200</text>
<line x1="1499.9" x2="1499.9" y1="2150.5" y2="2156.5" stroke="#111" stroke-width="1.5"/>
<text x="1499.9" y="2180.6" font-size="24.0" text-anchor="middle" fill="#000">400</text>
<line x1="1582.2" x2="1582.2" y1="2150.5" y2="2156.5" stroke="#111" stroke-width="1.5"/>
<text x="1582.2" y="2180.6" font-size="24.0" text-anchor="middle" fill="#000">600</text>
<text x="1310.4" y="1875.8" font-size="23.5" text-anchor="start" fill="#000" style="white-space:pre">H1 CA/09  HA-head domain</text>
<text x="1457.5" y="2206.2" font-size="23.8" text-anchor="middle" fill="#000">Time(s)</text>
<text x="1279.4" y="2020.3" font-size="23.7" text-anchor="middle" fill="#000" transform="rotate(-90 1279.4 2020.3)">Binding (nm)</text>
<path d="M1343.5 2135.4L1345.6 2133.7L1347.6 2131.9L1349.7 2130.2L1351.8 2128.5L1353.8 2126.7L1355.9 2125.0L1357.9 2123.3L1360.0 2121.5L1362.0 2119.8L1364.1 2118.0L1366.2 2116.3L1368.2 2114.6L1370.3 2112.8L1372.3 2111.1L1374.4 2109.3L1376.5 2107.6L1378.5 2105.9L1380.6 2104.2L1382.6 2102.6L1384.7 2100.9L1386.7 2099.2L1388.8 2097.5L1390.9 2095.9L1392.9 2094.3L1395.0 2092.7L1397.0 2091.0L1399.1 2089.4L1401.1 2087.8L1403.2 2086.2L1405.3 2084.6L1407.3 2083.1L1409.4 2081.5L1411.4 2080.0L1413.5 2078.4L1415.5 2076.9L1417.6 2075.3L1419.7 2073.8L1421.7 2072.3L1423.8 2070.9L1425.8 2069.4L1427.9 2067.9L1429.9 2066.4L1432.0 2064.9L1434.1 2063.4L1436.1 2061.9L1438.2 2060.4L1440.2 2059.0L1442.3 2057.5L1444.3 2056.0L1446.4 2054.5L1448.5 2053.0L1450.5 2051.5L1452.6 2050.0L1454.6 2052.3L1456.7 2054.5L1458.8 2056.7L1460.8 2059.0L1462.9 2061.2L1464.9 2063.4L1467.0 2065.4L1469.0 2067.5L1471.1 2069.5L1473.2 2071.5L1475.2 2073.4L1477.3 2075.3L1479.3 2077.2L1481.4 2079.1L1483.4 2080.9L1485.5 2082.7L1487.6 2084.5L1489.6 2086.2L1491.7 2087.7L1493.7 2089.2L1495.8 2090.7L1497.8 2092.1L1499.9 2093.4L1502.0 2094.6L1504.0 2095.9L1506.1 2097.1L1508.1 2098.1L1510.2 2099.2L1512.2 2100.3L1514.3 2101.3L1516.4 2102.3L1518.4 2103.1L1520.5 2104.0L1522.5 2104.9L1524.6 2105.8L1526.6 2106.6L1528.7 2107.5L1530.8 2108.3L1532.8 2109.1L1534.9 2109.9L1536.9 2110.7L1539.0 2111.4L1541.0 2112.2L1543.1 2112.9L1545.2 2113.7L1547.2 2114.4L1549.3 2115.1L1551.3 2115.8L1553.4 2116.5L1555.5 2117.2L1557.5 2117.8L1559.6 2118.5L1561.6 2119.1L1563.7 2119.7L1565.7 2120.4L1567.8 2121.0L1569.9 2121.6L1571.9 2122.2L1574.0 2122.9L1576.0 2123.5L1578.1 2124.1L1580.1 2124.8L1582.2 2125.4" fill="none" stroke="#10BFAE" stroke-width="3" stroke-linejoin="round"/>
<path d="M1347.6 2120.4L1349.7 2118.5L1351.8 2116.6L1353.8 2114.7L1355.9 2112.8L1357.9 2110.9L1360.0 2109.1L1362.0 2107.2L1364.1 2105.3L1366.2 2103.4L1368.2 2101.5L1370.3 2099.6L1372.3 2097.7L1374.4 2095.9L1376.5 2094.0L1378.5 2092.1L1380.6 2090.3L1382.6 2088.6L1384.7 2086.8L1386.7 2085.1L1388.8 2083.3L1390.9 2081.6L1392.9 2079.9L1395.0 2078.3L1397.0 2076.6L1399.1 2075.0L1401.1 2073.4L1403.2 2071.7L1405.3 2070.1L1407.3 2068.6L1409.4 2067.1L1411.4 2065.6L1413.5 2064.0L1415.5 2062.5L1417.6 2061.0L1419.7 2059.5L1421.7 2058.1L1423.8 2056.7L1425.8 2055.3L1427.9 2053.8L1429.9 2052.4L1432.0 2051.0L1434.1 2049.6L1436.1 2048.2L1438.2 2046.7L1440.2 2045.3L1442.3 2043.9L1444.3 2042.5L1446.4 2041.1L1448.5 2039.6L1450.5 2038.2L1452.6 2036.8L1454.6 2036.6L1456.7 2038.1L1458.8 2039.6L1460.8 2041.2L1462.9 2042.7L1464.9 2044.3L1467.0 2045.8L1469.0 2047.3L1471.1 2048.8L1473.2 2050.3L1475.2 2051.8L1477.3 2053.3L1479.3 2054.7L1481.4 2056.2L1483.4 2057.6L1485.5 2059.1L1487.6 2060.5L1489.6 2061.9L1491.7 2063.3L1493.7 2064.7L1495.8 2066.1L1497.8 2067.5L1499.9 2068.9L1502.0 2070.2L1504.0 2071.6L1506.1 2073.0L1508.1 2074.2L1510.2 2075.5L1512.2 2076.8L1514.3 2078.1L1516.4 2079.3L1518.4 2080.5L1520.5 2081.7L1522.5 2082.9L1524.6 2084.1L1526.6 2085.3L1528.7 2086.4L1530.8 2087.5L1532.8 2088.6L1534.9 2089.7L1536.9 2090.7L1539.0 2091.7L1541.0 2092.7L1543.1 2093.7L1545.2 2094.7L1547.2 2095.7L1549.3 2096.7L1551.3 2097.7L1553.4 2098.6L1555.5 2099.6L1557.5 2100.5L1559.6 2101.4L1561.6 2102.4L1563.7 2103.2L1565.7 2104.1L1567.8 2105.0L1569.9 2105.8L1571.9 2106.5L1574.0 2107.3L1576.0 2108.0L1578.1 2108.8L1580.1 2109.6L1582.2 2110.3" fill="none" stroke="#10BFAE" stroke-width="3" stroke-linejoin="round"/>
<g fill="#10BFAE" stroke="#13AEA0" stroke-width="1"><circle cx="1335.3" cy="2131.1" r="5.55"/><circle cx="1338.0" cy="2123.4" r="5.55"/><circle cx="1342.3" cy="2114.6" r="5.55"/><circle cx="1346.5" cy="2112.3" r="5.55"/><circle cx="1350.5" cy="2107.8" r="5.55"/><circle cx="1353.8" cy="2105.5" r="5.55"/><circle cx="1357.5" cy="2100.3" r="5.55"/><circle cx="1360.6" cy="2097.6" r="5.55"/><circle cx="1365.6" cy="2111.0" r="5.55"/><circle cx="1368.0" cy="2106.2" r="5.55"/><circle cx="1371.5" cy="2098.8" r="5.55"/><circle cx="1375.7" cy="2108.5" r="5.55"/><circle cx="1380.4" cy="2093.6" r="5.55"/><circle cx="1384.3" cy="2091.5" r="5.55"/><circle cx="1388.1" cy="2079.2" r="5.55"/><circle cx="1391.5" cy="2073.0" r="5.55"/><circle cx="1395.6" cy="2074.2" r="5.55"/><circle cx="1397.4" cy="2088.7" r="5.55"/><circle cx="1402.9" cy="2068.9" r="5.55"/><circle cx="1404.7" cy="2073.1" r="5.55"/><circle cx="1409.1" cy="2073.7" r="5.55"/><circle cx="1414.0" cy="2055.8" r="5.55"/><circle cx="1417.4" cy="2057.2" r="5.55"/><circle cx="1420.3" cy="2049.1" r="5.55"/><circle cx="1424.4" cy="2052.3" r="5.55"/><circle cx="1428.3" cy="2051.5" r="5.55"/><circle cx="1430.7" cy="2053.5" r="5.55"/><circle cx="1435.0" cy="2055.5" r="5.55"/><circle cx="1439.6" cy="2056.0" r="5.55"/><circle cx="1443.3" cy="2035.9" r="5.55"/><circle cx="1445.9" cy="2034.2" r="5.55"/><circle cx="1451.1" cy="2031.7" r="5.55"/><circle cx="1453.6" cy="2036.9" r="5.55"/><circle cx="1458.2" cy="2031.4" r="5.55"/><circle cx="1461.3" cy="2030.4" r="5.55"/><circle cx="1464.2" cy="2038.7" r="5.55"/><circle cx="1468.4" cy="2048.0" r="5.55"/><circle cx="1472.2" cy="2046.5" r="5.55"/><circle cx="1475.3" cy="2051.2" r="5.55"/><circle cx="1480.4" cy="2051.6" r="5.55"/><circle cx="1482.4" cy="2068.9" r="5.55"/><circle cx="1487.3" cy="2066.5" r="5.55"/><circle cx="1490.3" cy="2068.8" r="5.55"/><circle cx="1495.5" cy="2070.6" r="5.55"/><circle cx="1497.4" cy="2070.6" r="5.55"/><circle cx="1501.8" cy="2070.3" r="5.55"/><circle cx="1505.6" cy="2076.5" r="5.55"/><circle cx="1509.2" cy="2079.5" r="5.55"/><circle cx="1512.4" cy="2084.1" r="5.55"/><circle cx="1517.0" cy="2091.4" r="5.55"/><circle cx="1521.0" cy="2081.7" r="5.55"/><circle cx="1523.9" cy="2082.0" r="5.55"/><circle cx="1527.8" cy="2083.4" r="5.55"/><circle cx="1532.0" cy="2093.9" r="5.55"/><circle cx="1535.2" cy="2097.1" r="5.55"/><circle cx="1539.8" cy="2093.0" r="5.55"/><circle cx="1542.1" cy="2101.4" r="5.55"/><circle cx="1546.9" cy="2103.4" r="5.55"/><circle cx="1549.9" cy="2099.6" r="5.55"/><circle cx="1553.7" cy="2112.7" r="5.55"/><circle cx="1557.2" cy="2116.9" r="5.55"/><circle cx="1560.3" cy="2112.6" r="5.55"/><circle cx="1565.2" cy="2107.5" r="5.55"/><circle cx="1569.0" cy="2111.0" r="5.55"/><circle cx="1572.2" cy="2116.6" r="5.55"/><circle cx="1576.1" cy="2124.1" r="5.55"/><circle cx="1579.6" cy="2128.2" r="5.55"/><circle cx="1475.2" cy="2036.0" r="5.55"/><circle cx="1548.5" cy="2082.7" r="5.55"/><circle cx="1562.4" cy="2094.2" r="5.55"/><circle cx="1355.9" cy="2087.7" r="5.55"/><circle cx="1364.1" cy="2095.2" r="5.55"/><circle cx="1392.9" cy="2066.6" r="5.55"/></g>
<g fill="#fdfdfa" stroke="#12B2A3" stroke-width="2.4"><circle cx="1343.5" cy="2135.4" r="6.10"/><circle cx="1349.7" cy="2137.9" r="6.10"/><circle cx="1360.0" cy="2122.9" r="6.10"/><circle cx="1368.2" cy="2125.4" r="6.10"/><circle cx="1376.5" cy="2120.4" r="6.10"/><circle cx="1380.6" cy="2100.3" r="6.10"/><circle cx="1388.8" cy="2092.7" r="6.10"/><circle cx="1392.9" cy="2080.2" r="6.10"/><circle cx="1397.0" cy="2107.8" r="6.10"/><circle cx="1403.2" cy="2090.2" r="6.10"/><circle cx="1407.3" cy="2092.7" r="6.10"/><circle cx="1415.5" cy="2065.1" r="6.10"/><circle cx="1421.7" cy="2085.2" r="6.10"/><circle cx="1427.9" cy="2067.6" r="6.10"/><circle cx="1436.1" cy="2082.7" r="6.10"/><circle cx="1441.5" cy="2075.1" r="6.10"/><circle cx="1448.5" cy="2052.5" r="6.10"/><circle cx="1454.6" cy="2055.0" r="6.10"/><circle cx="1467.0" cy="2075.1" r="6.10"/><circle cx="1474.4" cy="2075.1" r="6.10"/><circle cx="1481.4" cy="2092.7" r="6.10"/><circle cx="1487.6" cy="2087.7" r="6.10"/><circle cx="1493.7" cy="2102.8" r="6.10"/><circle cx="1502.0" cy="2100.3" r="6.10"/><circle cx="1508.1" cy="2100.3" r="6.10"/><circle cx="1516.4" cy="2107.8" r="6.10"/><circle cx="1522.5" cy="2105.3" r="6.10"/><circle cx="1528.7" cy="2107.8" r="6.10"/><circle cx="1534.9" cy="2115.3" r="6.10"/><circle cx="1541.0" cy="2112.8" r="6.10"/><circle cx="1547.2" cy="2107.8" r="6.10"/><circle cx="1553.4" cy="2120.4" r="6.10"/><circle cx="1559.6" cy="2117.8" r="6.10"/><circle cx="1565.7" cy="2120.4" r="6.10"/><circle cx="1571.9" cy="2122.9" r="6.10"/><circle cx="1578.1" cy="2125.4" r="6.10"/><circle cx="1335.3" cy="2145.5" r="6.10"/></g>
<g fill="#fdfdfa" stroke="#12B2A3" stroke-width="2.4"><rect x="1329.3" y="2125.6" width="12.0" height="12.0"/><rect x="1334.5" y="2140.3" width="12.0" height="12.0"/><rect x="1340.9" y="2127.5" width="12.0" height="12.0"/><rect x="1346.8" y="2129.3" width="12.0" height="12.0"/><rect x="1352.9" y="2128.8" width="12.0" height="12.0"/><rect x="1357.8" y="2119.0" width="12.0" height="12.0"/><rect x="1363.7" y="2139.5" width="12.0" height="12.0"/><rect x="1370.6" y="2127.4" width="12.0" height="12.0"/><rect x="1375.5" y="2136.2" width="12.0" height="12.0"/><rect x="1382.1" y="2146.5" width="12.0" height="12.0"/><rect x="1386.3" y="2145.3" width="12.0" height="12.0"/><rect x="1393.3" y="2142.3" width="12.0" height="12.0"/><rect x="1398.9" y="2146.5" width="12.0" height="12.0"/><rect x="1404.7" y="2138.8" width="12.0" height="12.0"/><rect x="1411.0" y="2136.7" width="12.0" height="12.0"/><rect x="1415.7" y="2143.3" width="12.0" height="12.0"/><rect x="1421.4" y="2136.7" width="12.0" height="12.0"/><rect x="1427.3" y="2132.3" width="12.0" height="12.0"/><rect x="1432.2" y="2135.0" width="12.0" height="12.0"/><rect x="1438.6" y="2130.2" width="12.0" height="12.0"/><rect x="1444.5" y="2137.5" width="12.0" height="12.0"/><rect x="1449.3" y="2130.9" width="12.0" height="12.0"/><rect x="1457.0" y="2131.4" width="12.0" height="12.0"/><rect x="1462.3" y="2123.8" width="12.0" height="12.0"/><rect x="1468.2" y="2128.5" width="12.0" height="12.0"/><rect x="1473.1" y="2134.5" width="12.0" height="12.0"/><rect x="1478.9" y="2128.0" width="12.0" height="12.0"/><rect x="1485.8" y="2139.9" width="12.0" height="12.0"/><rect x="1490.8" y="2135.7" width="12.0" height="12.0"/><rect x="1497.3" y="2145.9" width="12.0" height="12.0"/><rect x="1502.3" y="2127.0" width="12.0" height="12.0"/><rect x="1508.2" y="2132.8" width="12.0" height="12.0"/><rect x="1514.5" y="2141.1" width="12.0" height="12.0"/><rect x="1518.8" y="2130.1" width="12.0" height="12.0"/><rect x="1525.1" y="2129.0" width="12.0" height="12.0"/><rect x="1531.5" y="2131.8" width="12.0" height="12.0"/><rect x="1536.5" y="2127.5" width="12.0" height="12.0"/><rect x="1541.7" y="2141.9" width="12.0" height="12.0"/><rect x="1547.9" y="2126.0" width="12.0" height="12.0"/><rect x="1553.9" y="2138.7" width="12.0" height="12.0"/><rect x="1559.0" y="2134.3" width="12.0" height="12.0"/><rect x="1566.3" y="2133.4" width="12.0" height="12.0"/><rect x="1572.0" y="2130.0" width="12.0" height="12.0"/><rect x="1576.2" y="2129.7" width="12.0" height="12.0"/><rect x="1576.2" y="2142.0" width="12.0" height="12.0"/></g>
<g fill="#10BFAE" stroke="#13AEA0" stroke-width="1"><rect x="1329.7" y="2137.2" width="11.2" height="11.2"/><rect x="1334.0" y="2135.5" width="11.2" height="11.2"/><rect x="1336.6" y="2134.6" width="11.2" height="11.2"/><rect x="1339.9" y="2111.5" width="11.2" height="11.2"/><rect x="1344.7" y="2124.3" width="11.2" height="11.2"/><rect x="1348.0" y="2128.7" width="11.2" height="11.2"/><rect x="1351.8" y="2146.9" width="11.2" height="11.2"/><rect x="1356.5" y="2115.6" width="11.2" height="11.2"/><rect x="1359.7" y="2123.8" width="11.2" height="11.2"/><rect x="1363.4" y="2124.1" width="11.2" height="11.2"/><rect x="1366.3" y="2128.5" width="11.2" height="11.2"/><rect x="1369.5" y="2109.6" width="11.2" height="11.2"/><rect x="1373.8" y="2108.5" width="11.2" height="11.2"/><rect x="1378.5" y="2120.8" width="11.2" height="11.2"/><rect x="1381.4" y="2121.3" width="11.2" height="11.2"/><rect x="1385.8" y="2123.9" width="11.2" height="11.2"/><rect x="1388.2" y="2129.7" width="11.2" height="11.2"/><rect x="1393.3" y="2133.7" width="11.2" height="11.2"/><rect x="1395.8" y="2132.0" width="11.2" height="11.2"/><rect x="1399.0" y="2138.0" width="11.2" height="11.2"/><rect x="1403.6" y="2132.9" width="11.2" height="11.2"/><rect x="1408.5" y="2146.9" width="11.2" height="11.2"/><rect x="1412.1" y="2130.6" width="11.2" height="11.2"/><rect x="1414.3" y="2133.8" width="11.2" height="11.2"/><rect x="1418.3" y="2129.2" width="11.2" height="11.2"/><rect x="1421.5" y="2131.0" width="11.2" height="11.2"/><rect x="1426.0" y="2132.5" width="11.2" height="11.2"/><rect x="1429.4" y="2137.7" width="11.2" height="11.2"/><rect x="1433.9" y="2132.2" width="11.2" height="11.2"/><rect x="1437.8" y="2142.4" width="11.2" height="11.2"/><rect x="1441.0" y="2134.3" width="11.2" height="11.2"/><rect x="1443.7" y="2119.4" width="11.2" height="11.2"/><rect x="1447.4" y="2112.6" width="11.2" height="11.2"/><rect x="1452.2" y="2121.0" width="11.2" height="11.2"/><rect x="1456.1" y="2120.1" width="11.2" height="11.2"/><rect x="1459.5" y="2135.8" width="11.2" height="11.2"/><rect x="1462.6" y="2117.1" width="11.2" height="11.2"/><rect x="1467.6" y="2114.8" width="11.2" height="11.2"/><rect x="1469.9" y="2131.7" width="11.2" height="11.2"/><rect x="1474.2" y="2130.3" width="11.2" height="11.2"/><rect x="1478.7" y="2141.5" width="11.2" height="11.2"/><rect x="1482.1" y="2137.8" width="11.2" height="11.2"/><rect x="1484.2" y="2119.3" width="11.2" height="11.2"/><rect x="1488.2" y="2135.9" width="11.2" height="11.2"/><rect x="1493.0" y="2133.5" width="11.2" height="11.2"/><rect x="1495.3" y="2133.7" width="11.2" height="11.2"/><rect x="1499.8" y="2134.6" width="11.2" height="11.2"/><rect x="1503.2" y="2133.8" width="11.2" height="11.2"/><rect x="1507.3" y="2138.3" width="11.2" height="11.2"/><rect x="1511.9" y="2127.4" width="11.2" height="11.2"/><rect x="1514.9" y="2125.9" width="11.2" height="11.2"/><rect x="1518.5" y="2130.5" width="11.2" height="11.2"/><rect x="1522.9" y="2126.2" width="11.2" height="11.2"/><rect x="1526.1" y="2130.8" width="11.2" height="11.2"/><rect x="1529.3" y="2136.0" width="11.2" height="11.2"/><rect x="1533.6" y="2134.3" width="11.2" height="11.2"/><rect x="1536.2" y="2110.2" width="11.2" height="11.2"/><rect x="1541.6" y="2123.4" width="11.2" height="11.2"/><rect x="1545.1" y="2121.3" width="11.2" height="11.2"/><rect x="1548.9" y="2118.4" width="11.2" height="11.2"/><rect x="1552.6" y="2139.2" width="11.2" height="11.2"/><rect x="1555.8" y="2113.2" width="11.2" height="11.2"/><rect x="1558.8" y="2129.6" width="11.2" height="11.2"/><rect x="1562.4" y="2125.4" width="11.2" height="11.2"/><rect x="1566.3" y="2136.4" width="11.2" height="11.2"/><rect x="1571.2" y="2139.2" width="11.2" height="11.2"/><rect x="1573.5" y="2136.3" width="11.2" height="11.2"/><rect x="1577.1" y="2133.7" width="11.2" height="11.2"/></g>
<path d="M1702.3 1899.4V2147.7H1946.4" fill="none" stroke="#111" stroke-width="1.5"/>
<line x1="1695.3" x2="1702.3" y1="2147.7" y2="2147.7" stroke="#111" stroke-width="1.5"/>
<text x="1694.3" y="2156.2" font-size="23.64" text-anchor="end" fill="#000">0.0</text>
<line x1="1695.3" x2="1702.3" y1="2098.2" y2="2098.2" stroke="#111" stroke-width="1.5"/>
<text x="1694.3" y="2106.7" font-size="23.64" text-anchor="end" fill="#000">0.1</text>
<line x1="1695.3" x2="1702.3" y1="2048.8" y2="2048.8" stroke="#111" stroke-width="1.5"/>
<text x="1694.3" y="2057.3" font-size="23.64" text-anchor="end" fill="#000">0.2</text>
<line x1="1695.3" x2="1702.3" y1="1999.3" y2="1999.3" stroke="#111" stroke-width="1.5"/>
<text x="1694.3" y="2007.8" font-size="23.64" text-anchor="end" fill="#000">0.3</text>
<line x1="1695.3" x2="1702.3" y1="1949.9" y2="1949.9" stroke="#111" stroke-width="1.5"/>
<text x="1694.3" y="1958.4" font-size="23.64" text-anchor="end" fill="#000">0.4</text>
<line x1="1695.3" x2="1702.3" y1="1900.4" y2="1900.4" stroke="#111" stroke-width="1.5"/>
<text x="1694.3" y="1908.9" font-size="23.64" text-anchor="end" fill="#000">0.5</text>
<line x1="1702.3" x2="1702.3" y1="2147.7" y2="2153.7" stroke="#111" stroke-width="1.5"/>
<text x="1702.3" y="2179.0" font-size="23.64" text-anchor="middle" fill="#000">0</text>
<line x1="1783.3" x2="1783.3" y1="2147.7" y2="2153.7" stroke="#111" stroke-width="1.5"/>
<text x="1783.3" y="2179.0" font-size="23.64" text-anchor="middle" fill="#000">200</text>
<line x1="1864.4" x2="1864.4" y1="2147.7" y2="2153.7" stroke="#111" stroke-width="1.5"/>
<text x="1864.4" y="2179.0" font-size="23.64" text-anchor="middle" fill="#000">400</text>
<line x1="1945.4" x2="1945.4" y1="2147.7" y2="2153.7" stroke="#111" stroke-width="1.5"/>
<text x="1945.4" y="2179.0" font-size="23.64" text-anchor="middle" fill="#000">600</text>
<text x="1678.5" y="1878.0" font-size="23.15" text-anchor="start" fill="#000" style="white-space:pre">H1 CA/09  HA-stem domain</text>
<text x="1822.8" y="2205.0" font-size="23.44" text-anchor="middle" fill="#000">Time(s)</text>
<text x="1647.3" y="2021.4" font-size="23.34" text-anchor="middle" fill="#000" transform="rotate(-90 1647.3 2021.4)">Binding (nm)</text>
<g fill="#fdfdfa" stroke="#12B2A3" stroke-width="2.4"><rect x="1697.2" y="2140.0" width="12.0" height="12.0"/><rect x="1709.2" y="2140.7" width="12.0" height="12.0"/><rect x="1720.8" y="2135.9" width="12.0" height="12.0"/><rect x="1732.2" y="2138.1" width="12.0" height="12.0"/><rect x="1744.9" y="2141.3" width="12.0" height="12.0"/><rect x="1756.3" y="2141.3" width="12.0" height="12.0"/><rect x="1769.3" y="2141.7" width="12.0" height="12.0"/><rect x="1782.2" y="2137.7" width="12.0" height="12.0"/><rect x="1792.7" y="2140.8" width="12.0" height="12.0"/><rect x="1806.2" y="2137.8" width="12.0" height="12.0"/><rect x="1817.1" y="2141.7" width="12.0" height="12.0"/><rect x="1829.9" y="2139.4" width="12.0" height="12.0"/><rect x="1842.1" y="2141.7" width="12.0" height="12.0"/><rect x="1853.9" y="2140.9" width="12.0" height="12.0"/><rect x="1865.5" y="2141.2" width="12.0" height="12.0"/><rect x="1878.5" y="2140.5" width="12.0" height="12.0"/><rect x="1890.2" y="2138.6" width="12.0" height="12.0"/><rect x="1902.1" y="2139.5" width="12.0" height="12.0"/><rect x="1914.9" y="2137.5" width="12.0" height="12.0"/><rect x="1926.3" y="2139.7" width="12.0" height="12.0"/><rect x="1939.5" y="2138.6" width="12.0" height="12.0"/></g>
<g fill="#10BFAE" stroke="#13AEA0" stroke-width="1"><rect x="1696.7" y="2138.4" width="11.2" height="11.2"/><rect x="1699.5" y="2138.6" width="11.2" height="11.2"/><rect x="1701.1" y="2138.5" width="11.2" height="11.2"/><rect x="1704.9" y="2136.7" width="11.2" height="11.2"/><rect x="1707.0" y="2138.9" width="11.2" height="11.2"/><rect x="1708.8" y="2137.1" width="11.2" height="11.2"/><rect x="1710.7" y="2138.4" width="11.2" height="11.2"/><rect x="1713.9" y="2139.6" width="11.2" height="11.2"/><rect x="1715.2" y="2139.6" width="11.2" height="11.2"/><rect x="1718.1" y="2138.3" width="11.2" height="11.2"/><rect x="1721.6" y="2136.2" width="11.2" height="11.2"/><rect x="1723.6" y="2138.2" width="11.2" height="11.2"/><rect x="1726.1" y="2138.3" width="11.2" height="11.2"/><rect x="1728.3" y="2137.8" width="11.2" height="11.2"/><rect x="1729.9" y="2137.9" width="11.2" height="11.2"/><rect x="1732.7" y="2138.1" width="11.2" height="11.2"/><rect x="1736.5" y="2139.8" width="11.2" height="11.2"/><rect x="1737.5" y="2140.5" width="11.2" height="11.2"/><rect x="1740.3" y="2139.7" width="11.2" height="11.2"/><rect x="1743.9" y="2139.5" width="11.2" height="11.2"/><rect x="1745.0" y="2139.7" width="11.2" height="11.2"/><rect x="1748.2" y="2138.2" width="11.2" height="11.2"/><rect x="1750.4" y="2139.4" width="11.2" height="11.2"/><rect x="1752.5" y="2140.2" width="11.2" height="11.2"/><rect x="1755.1" y="2140.4" width="11.2" height="11.2"/><rect x="1756.9" y="2139.8" width="11.2" height="11.2"/><rect x="1759.4" y="2141.2" width="11.2" height="11.2"/><rect x="1763.2" y="2139.4" width="11.2" height="11.2"/><rect x="1765.0" y="2140.4" width="11.2" height="11.2"/><rect x="1767.9" y="2140.5" width="11.2" height="11.2"/><rect x="1770.0" y="2140.9" width="11.2" height="11.2"/><rect x="1771.8" y="2139.7" width="11.2" height="11.2"/><rect x="1773.7" y="2141.5" width="11.2" height="11.2"/><rect x="1776.4" y="2138.5" width="11.2" height="11.2"/><rect x="1780.2" y="2139.5" width="11.2" height="11.2"/><rect x="1782.6" y="2140.9" width="11.2" height="11.2"/><rect x="1784.1" y="2139.3" width="11.2" height="11.2"/><rect x="1786.6" y="2138.5" width="11.2" height="11.2"/><rect x="1789.3" y="2139.2" width="11.2" height="11.2"/><rect x="1791.5" y="2137.6" width="11.2" height="11.2"/><rect x="1793.0" y="2139.7" width="11.2" height="11.2"/><rect x="1796.6" y="2139.4" width="11.2" height="11.2"/><rect x="1798.7" y="2139.6" width="11.2" height="11.2"/><rect x="1801.4" y="2138.0" width="11.2" height="11.2"/><rect x="1803.8" y="2138.2" width="11.2" height="11.2"/><rect x="1806.5" y="2136.5" width="11.2" height="11.2"/><rect x="1809.1" y="2139.1" width="11.2" height="11.2"/><rect x="1810.9" y="2137.8" width="11.2" height="11.2"/><rect x="1814.1" y="2139.0" width="11.2" height="11.2"/><rect x="1814.8" y="2137.0" width="11.2" height="11.2"/><rect x="1818.5" y="2137.7" width="11.2" height="11.2"/><rect x="1819.9" y="2138.8" width="11.2" height="11.2"/><rect x="1822.4" y="2138.6" width="11.2" height="11.2"/><rect x="1824.6" y="2139.2" width="11.2" height="11.2"/><rect x="1828.5" y="2139.7" width="11.2" height="11.2"/><rect x="1831.2" y="2140.9" width="11.2" height="11.2"/><rect x="1832.0" y="2139.4" width="11.2" height="11.2"/><rect x="1834.6" y="2137.7" width="11.2" height="11.2"/><rect x="1837.7" y="2139.2" width="11.2" height="11.2"/><rect x="1840.5" y="2139.5" width="11.2" height="11.2"/><rect x="1842.4" y="2140.5" width="11.2" height="11.2"/><rect x="1844.4" y="2139.0" width="11.2" height="11.2"/><rect x="1846.5" y="2138.8" width="11.2" height="11.2"/><rect x="1850.8" y="2140.0" width="11.2" height="11.2"/><rect x="1851.4" y="2138.2" width="11.2" height="11.2"/><rect x="1855.5" y="2140.0" width="11.2" height="11.2"/><rect x="1857.4" y="2140.4" width="11.2" height="11.2"/><rect x="1859.9" y="2140.7" width="11.2" height="11.2"/><rect x="1861.3" y="2140.2" width="11.2" height="11.2"/><rect x="1865.2" y="2141.2" width="11.2" height="11.2"/><rect x="1866.9" y="2140.6" width="11.2" height="11.2"/><rect x="1869.4" y="2139.1" width="11.2" height="11.2"/><rect x="1872.7" y="2139.8" width="11.2" height="11.2"/><rect x="1874.5" y="2138.7" width="11.2" height="11.2"/><rect x="1877.2" y="2138.0" width="11.2" height="11.2"/><rect x="1879.2" y="2139.6" width="11.2" height="11.2"/><rect x="1881.5" y="2140.1" width="11.2" height="11.2"/><rect x="1884.6" y="2139.2" width="11.2" height="11.2"/><rect x="1885.5" y="2138.0" width="11.2" height="11.2"/><rect x="1889.1" y="2140.1" width="11.2" height="11.2"/><rect x="1890.3" y="2138.7" width="11.2" height="11.2"/><rect x="1894.0" y="2139.7" width="11.2" height="11.2"/><rect x="1895.5" y="2138.7" width="11.2" height="11.2"/><rect x="1898.2" y="2136.4" width="11.2" height="11.2"/><rect x="1900.5" y="2139.1" width="11.2" height="11.2"/><rect x="1902.5" y="2138.5" width="11.2" height="11.2"/><rect x="1906.7" y="2137.9" width="11.2" height="11.2"/><rect x="1907.9" y="2138.5" width="11.2" height="11.2"/><rect x="1911.3" y="2135.9" width="11.2" height="11.2"/><rect x="1912.2" y="2136.8" width="11.2" height="11.2"/><rect x="1915.3" y="2138.7" width="11.2" height="11.2"/><rect x="1918.0" y="2136.9" width="11.2" height="11.2"/><rect x="1919.4" y="2140.0" width="11.2" height="11.2"/><rect x="1923.1" y="2138.8" width="11.2" height="11.2"/><rect x="1926.0" y="2139.0" width="11.2" height="11.2"/><rect x="1927.6" y="2138.2" width="11.2" height="11.2"/><rect x="1929.2" y="2139.1" width="11.2" height="11.2"/><rect x="1933.0" y="2138.2" width="11.2" height="11.2"/><rect x="1935.6" y="2137.9" width="11.2" height="11.2"/><rect x="1938.3" y="2139.7" width="11.2" height="11.2"/><rect x="1940.4" y="2140.8" width="11.2" height="11.2"/></g>
<g fill="#fdfdfa" stroke="#12B2A3" stroke-width="2.4"><circle cx="1718.8" cy="2142.8" r="6.10"/><circle cx="1724.5" cy="2142.0" r="6.10"/><circle cx="1728.6" cy="2142.8" r="6.10"/><circle cx="1734.0" cy="2143.5" r="6.10"/><circle cx="1740.5" cy="2144.8" r="6.10"/><circle cx="1744.9" cy="2143.1" r="6.10"/><circle cx="1750.0" cy="2147.7" r="6.10"/><circle cx="1755.4" cy="2144.4" r="6.10"/><circle cx="1759.9" cy="2144.7" r="6.10"/><circle cx="1765.8" cy="2144.7" r="6.10"/><circle cx="1772.1" cy="2144.2" r="6.10"/><circle cx="1776.7" cy="2143.8" r="6.10"/><circle cx="1781.2" cy="2147.7" r="6.10"/><circle cx="1786.8" cy="2144.4" r="6.10"/><circle cx="1792.3" cy="2145.9" r="6.10"/><circle cx="1796.8" cy="2141.0" r="6.10"/><circle cx="1802.5" cy="2144.2" r="6.10"/><circle cx="1807.8" cy="2144.1" r="6.10"/><circle cx="1812.9" cy="2144.6" r="6.10"/><circle cx="1818.1" cy="2142.7" r="6.10"/><circle cx="1823.7" cy="2143.6" r="6.10"/><circle cx="1829.2" cy="2144.7" r="6.10"/><circle cx="1834.7" cy="2144.4" r="6.10"/><circle cx="1838.9" cy="2144.1" r="6.10"/><circle cx="1844.3" cy="2145.6" r="6.10"/><circle cx="1849.6" cy="2146.5" r="6.10"/><circle cx="1854.8" cy="2144.4" r="6.10"/><circle cx="1860.2" cy="2144.3" r="6.10"/><circle cx="1866.3" cy="2147.7" r="6.10"/><circle cx="1871.1" cy="2145.3" r="6.10"/><circle cx="1876.2" cy="2144.6" r="6.10"/><circle cx="1881.0" cy="2146.0" r="6.10"/><circle cx="1887.8" cy="2146.1" r="6.10"/><circle cx="1891.8" cy="2143.5" r="6.10"/><circle cx="1896.8" cy="2144.8" r="6.10"/><circle cx="1903.8" cy="2145.3" r="6.10"/><circle cx="1909.0" cy="2143.2" r="6.10"/><circle cx="1914.4" cy="2143.5" r="6.10"/><circle cx="1918.9" cy="2144.5" r="6.10"/><circle cx="1923.2" cy="2144.6" r="6.10"/><circle cx="1928.7" cy="2141.8" r="6.10"/><circle cx="1935.2" cy="2142.3" r="6.10"/><circle cx="1939.9" cy="2145.4" r="6.10"/><circle cx="1945.3" cy="2142.7" r="6.10"/><circle cx="1945.4" cy="2143.7" r="6.10"/></g>
<g fill="#10BFAE" stroke="#13AEA0" stroke-width="1"><rect x="1696.7" y="2138.1" width="11.2" height="11.2"/><rect x="1712.3" y="2137.7" width="11.2" height="11.2"/><rect x="1726.0" y="2138.8" width="11.2" height="11.2"/><rect x="1741.9" y="2137.3" width="11.2" height="11.2"/><rect x="1755.8" y="2140.2" width="11.2" height="11.2"/><rect x="1771.6" y="2141.2" width="11.2" height="11.2"/><rect x="1786.4" y="2140.4" width="11.2" height="11.2"/><rect x="1800.7" y="2138.8" width="11.2" height="11.2"/><rect x="1816.8" y="2138.6" width="11.2" height="11.2"/><rect x="1832.5" y="2138.1" width="11.2" height="11.2"/><rect x="1846.4" y="2140.7" width="11.2" height="11.2"/><rect x="1860.7" y="2140.9" width="11.2" height="11.2"/><rect x="1875.9" y="2139.8" width="11.2" height="11.2"/><rect x="1890.9" y="2138.8" width="11.2" height="11.2"/><rect x="1906.8" y="2136.7" width="11.2" height="11.2"/><rect x="1920.6" y="2138.6" width="11.2" height="11.2"/><rect x="1936.5" y="2139.2" width="11.2" height="11.2"/><rect x="1761.5" y="2110.0" width="11.2" height="11.2"/><rect x="1763.6" y="2122.3" width="11.2" height="11.2"/><rect x="1868.9" y="2124.8" width="11.2" height="11.2"/><rect x="1875.0" y="2127.3" width="11.2" height="11.2"/><rect x="1818.2" y="2128.3" width="11.2" height="11.2"/><rect x="1923.6" y="2127.3" width="11.2" height="11.2"/><rect x="1929.7" y="2122.3" width="11.2" height="11.2"/><rect x="1933.7" y="2117.4" width="11.2" height="11.2"/><rect x="1721.0" y="2127.3" width="11.2" height="11.2"/><rect x="1852.7" y="2127.3" width="11.2" height="11.2"/></g>
<g fill="#10BFAE" stroke="#13AEA0" stroke-width="1"><circle cx="1710.4" cy="2126.2" r="5.55"/><circle cx="1715.5" cy="2122.1" r="5.55"/><circle cx="1721.3" cy="2123.1" r="5.55"/><circle cx="1726.6" cy="2127.3" r="5.55"/><circle cx="1731.1" cy="2127.3" r="5.55"/><circle cx="1736.5" cy="2121.4" r="5.55"/><circle cx="1742.2" cy="2128.6" r="5.55"/><circle cx="1748.1" cy="2120.6" r="5.55"/><circle cx="1753.2" cy="2128.6" r="5.55"/><circle cx="1758.5" cy="2127.4" r="5.55"/><circle cx="1763.7" cy="2131.5" r="5.55"/><circle cx="1768.4" cy="2128.8" r="5.55"/><circle cx="1773.5" cy="2129.8" r="5.55"/><circle cx="1779.6" cy="2124.9" r="5.55"/><circle cx="1783.4" cy="2126.1" r="5.55"/><circle cx="1789.8" cy="2130.9" r="5.55"/><circle cx="1795.6" cy="2125.4" r="5.55"/><circle cx="1800.0" cy="2128.8" r="5.55"/><circle cx="1804.4" cy="2125.0" r="5.55"/><circle cx="1811.3" cy="2124.7" r="5.55"/><circle cx="1814.9" cy="2127.6" r="5.55"/><circle cx="1821.1" cy="2120.8" r="5.55"/><circle cx="1826.8" cy="2128.1" r="5.55"/><circle cx="1831.5" cy="2124.1" r="5.55"/><circle cx="1836.8" cy="2127.1" r="5.55"/><circle cx="1842.0" cy="2128.3" r="5.55"/><circle cx="1847.2" cy="2122.8" r="5.55"/><circle cx="1852.6" cy="2129.0" r="5.55"/><circle cx="1857.9" cy="2131.2" r="5.55"/><circle cx="1864.1" cy="2130.0" r="5.55"/><circle cx="1867.8" cy="2126.4" r="5.55"/><circle cx="1873.1" cy="2126.4" r="5.55"/><circle cx="1878.0" cy="2124.7" r="5.55"/><circle cx="1884.2" cy="2127.0" r="5.55"/><circle cx="1889.4" cy="2125.2" r="5.55"/><circle cx="1895.0" cy="2124.0" r="5.55"/><circle cx="1899.2" cy="2123.5" r="5.55"/><circle cx="1904.9" cy="2125.0" r="5.55"/><circle cx="1910.8" cy="2127.9" r="5.55"/><circle cx="1915.2" cy="2125.8" r="5.55"/><circle cx="1920.9" cy="2129.0" r="5.55"/><circle cx="1926.3" cy="2123.0" r="5.55"/><circle cx="1831.1" cy="2115.6" r="5.55"/><circle cx="1870.4" cy="2115.6" r="5.55"/><circle cx="1904.9" cy="2118.0" r="5.55"/><circle cx="1919.1" cy="2115.1" r="5.55"/><circle cx="1944.6" cy="2117.0" r="5.55"/><circle cx="1736.7" cy="2119.0" r="5.55"/><circle cx="1799.5" cy="2120.5" r="5.55"/></g>
<line x1="583" x2="664" y1="1945.2" y2="1945.2" stroke="#111" stroke-width="3"/>
<circle cx="623.6" cy="1945.2" r="15.3" fill="#111"/>
<text x="674.3" y="1950.3" font-size="22.7" text-anchor="start" fill="#111">LAIV</text>
<line x1="583" x2="664" y1="1980.2" y2="1980.2" stroke="#111" stroke-width="3"/>
<rect x="608.3" y="1965.9" width="31" height="28.6" fill="#111"/>
<text x="674.3" y="1986.8" font-size="22.7" text-anchor="start" fill="#111">unstim</text>
<line x1="583" x2="664" y1="2015.5" y2="2015.5" stroke="#111" stroke-width="3"/>
<circle cx="623.6" cy="2015.5" r="13.8" fill="#fff" stroke="#111" stroke-width="3"/>
<text x="674.3" y="2023.0" font-size="22.7" text-anchor="start" fill="#111">LAIV (CD4 depl)</text>
<line x1="583" x2="664" y1="2050.4" y2="2050.4" stroke="#111" stroke-width="3"/>
<rect x="609.8" y="2037.6000000000001" width="28" height="25.6" fill="#fff" stroke="#111" stroke-width="3"/>
<text x="674.3" y="2059.3" font-size="22.7" text-anchor="start" fill="#111">unstim (CD4 depl)</text>
</svg>
</body></html>
